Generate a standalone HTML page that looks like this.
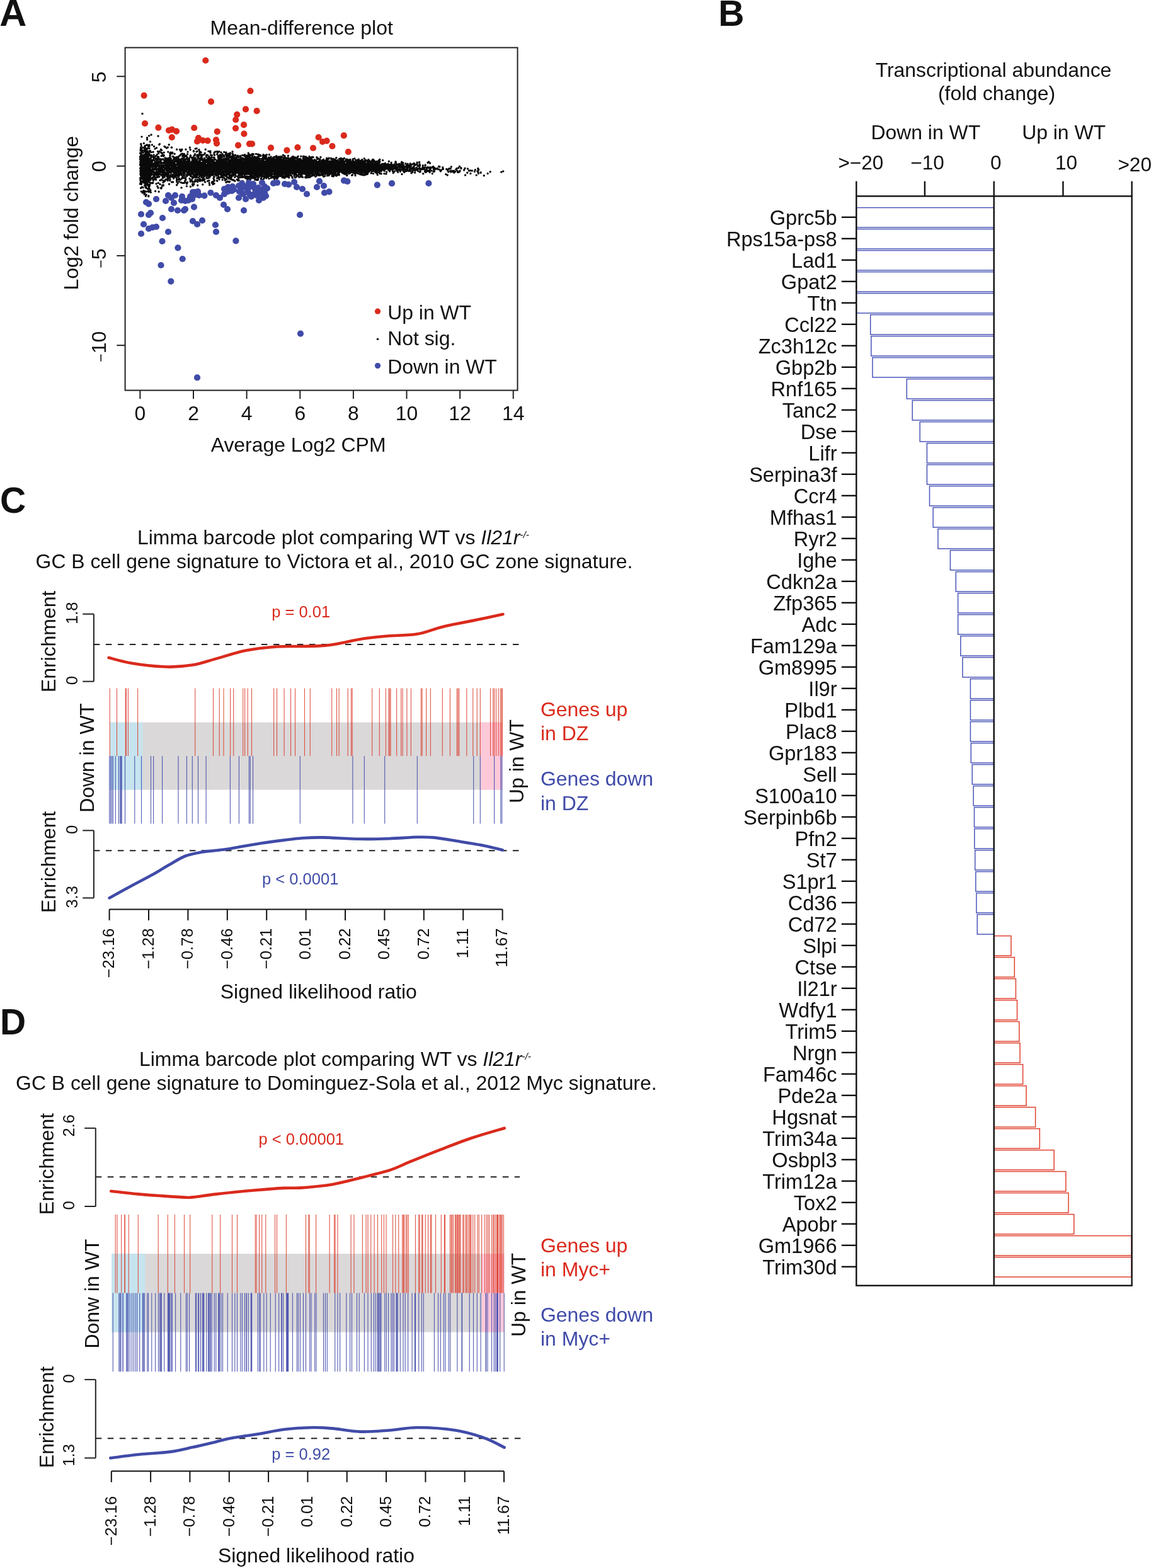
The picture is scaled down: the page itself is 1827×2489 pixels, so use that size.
<!DOCTYPE html>
<html><head><meta charset="utf-8"><title>Figure</title>
<style>html,body{margin:0;padding:0;background:#fff;}svg{display:block;}</style>
</head><body>
<svg width="1827" height="2489" viewBox="0 0 1827 2489" font-family="'Liberation Sans', Arial, Helvetica, sans-serif" fill="#111">
<rect width="1827" height="2489" fill="#fff"/>
<text x="-0.8" y="41.2" font-size="59.5" font-weight="bold">A</text>
<text x="478.7" y="54.5" font-size="31.9" text-anchor="middle">Mean-difference plot</text>
<path d="M271.4 273.7h0M412.5 265.7h0M451.4 271.4h0M233.3 240.3h0M278.7 261.7h0M575.9 270.0h0M249.2 256.9h0M271.8 270.5h0M583.5 266.1h0M459.2 266.8h0M362.9 253.6h0M417.1 272.0h0M474.8 275.1h0M327.2 275.9h0M274.9 271.0h0M522.5 265.6h0M477.7 260.8h0M533.4 269.3h0M431.5 269.0h0M595.9 259.8h0M300.3 255.4h0M433.3 267.2h0M406.6 273.6h0M356.9 265.2h0M447.7 276.9h0M312.0 261.8h0M527.9 259.7h0M552.7 272.1h0M271.4 252.1h0M400.3 266.6h0M327.9 273.0h0M254.1 253.5h0M563.6 266.0h0M386.1 262.7h0M278.6 280.7h0M478.8 261.7h0M299.4 264.5h0M565.7 270.8h0M305.1 258.1h0M235.0 274.1h0M298.9 258.0h0M354.1 259.7h0M401.0 265.8h0M567.4 267.5h0M487.9 254.9h0M351.6 268.7h0M228.8 254.7h0M283.3 248.9h0M601.8 261.3h0M397.5 275.4h0M243.2 254.3h0M235.4 275.3h0M544.5 267.5h0M446.3 259.0h0M340.0 244.8h0M343.3 260.8h0M256.4 263.9h0M288.2 238.9h0M231.8 286.5h0M541.9 269.5h0M400.0 262.3h0M270.8 256.5h0M503.9 266.2h0M296.9 262.7h0M246.0 262.6h0M450.3 265.3h0M563.5 263.7h0M232.7 242.1h0M529.0 264.3h0M294.8 265.0h0M257.8 277.0h0M229.2 263.5h0M334.0 278.5h0M499.3 264.2h0M410.2 267.1h0M547.2 275.2h0M305.1 258.3h0M342.4 268.4h0M320.7 261.2h0M594.9 267.1h0M580.7 267.1h0M352.1 266.9h0M388.4 255.2h0M342.1 262.9h0M506.7 271.8h0M237.6 270.3h0M248.1 259.0h0M376.3 260.8h0M315.7 256.1h0M544.3 267.6h0M504.9 262.9h0M430.2 263.3h0M474.3 280.9h0M486.0 265.8h0M519.8 269.9h0M575.6 268.2h0M279.4 269.9h0M460.8 270.0h0M277.1 244.3h0M391.1 261.3h0M521.8 260.7h0M563.1 266.8h0M511.5 270.6h0M235.9 261.7h0M359.3 265.6h0M284.5 258.3h0M602.7 265.9h0M277.2 263.6h0M315.4 274.2h0M358.4 245.2h0M245.6 281.5h0M553.8 266.1h0M464.7 268.6h0M283.2 253.3h0M412.1 247.6h0M252.4 269.6h0M455.1 260.8h0M310.6 263.9h0M237.1 274.3h0M266.3 233.9h0M433.8 266.0h0M465.0 266.3h0M346.1 277.9h0M467.4 268.2h0M356.5 260.3h0M272.2 233.9h0M342.4 259.2h0M569.9 271.8h0M266.4 284.9h0M255.2 298.4h0M436.2 271.3h0M589.3 261.4h0M567.9 263.9h0M489.0 265.2h0M247.8 264.7h0M529.5 269.3h0M277.2 274.2h0M399.4 275.7h0M241.2 277.3h0M496.0 265.0h0M324.2 251.2h0M523.1 261.1h0M317.3 256.8h0M274.9 248.4h0M371.1 273.3h0M412.0 270.1h0M331.2 264.3h0M453.1 262.4h0M451.8 255.4h0M313.7 288.6h0M459.5 267.2h0M358.4 259.5h0M502.2 262.1h0M526.6 258.7h0M380.5 269.6h0M433.1 261.1h0M478.8 265.4h0M419.8 267.7h0M320.5 275.3h0M595.3 262.2h0M259.0 273.9h0M346.1 268.3h0M431.5 263.5h0M233.3 276.0h0M281.4 284.6h0M526.8 269.2h0M520.9 267.6h0M465.0 273.6h0M565.8 261.4h0M510.1 263.7h0M336.2 254.5h0M468.0 253.2h0M351.9 254.5h0M507.9 262.8h0M368.9 267.9h0M280.8 255.4h0M556.1 270.4h0M485.3 253.7h0M506.0 268.1h0M435.5 265.7h0M520.5 264.0h0M392.9 259.8h0M437.8 263.0h0M246.2 277.9h0M433.8 257.5h0M532.6 274.8h0M491.1 263.1h0M528.2 261.2h0M411.3 257.8h0M558.0 265.8h0M263.6 254.0h0M555.9 253.2h0M363.8 289.0h0M257.0 269.5h0M458.2 268.1h0M395.6 270.9h0M385.5 256.6h0M546.8 262.4h0M274.9 262.8h0M457.3 252.3h0M380.0 265.5h0M423.6 256.9h0M412.6 257.3h0M273.5 268.0h0M417.4 270.6h0M550.7 266.0h0M287.6 270.4h0M226.8 259.4h0M248.1 262.6h0M397.5 278.4h0M593.5 265.4h0M239.2 251.0h0M599.7 263.5h0M426.5 260.2h0M268.1 273.6h0M381.8 265.8h0M301.4 276.2h0M494.3 261.0h0M428.6 250.1h0M332.1 271.9h0M319.7 281.2h0M552.5 259.6h0M514.2 267.4h0M388.5 270.4h0M376.8 267.7h0M503.2 265.0h0M592.0 266.5h0M252.7 229.6h0M283.0 250.7h0M360.4 256.9h0M415.7 260.4h0M249.6 261.4h0M242.8 290.2h0M306.0 251.4h0M369.4 265.9h0M503.9 272.5h0M454.6 255.2h0M233.5 245.7h0M239.5 250.8h0M394.5 272.9h0M555.5 267.8h0M570.8 267.1h0M361.4 272.8h0M560.3 252.6h0M576.2 259.9h0M377.2 259.3h0M506.5 275.3h0M361.5 267.8h0M280.9 276.4h0M441.4 269.4h0M255.3 252.7h0M475.0 260.4h0M530.5 264.6h0M571.0 272.6h0M393.0 249.8h0M267.1 278.9h0M566.1 267.0h0M590.9 259.9h0M448.6 263.2h0M478.8 264.8h0M364.5 254.9h0M292.1 274.8h0M333.5 267.4h0M496.8 270.2h0M346.2 264.6h0M485.7 259.6h0M413.6 266.6h0M393.4 266.9h0M590.9 262.1h0M285.6 262.8h0M407.9 266.6h0M283.2 276.2h0M579.4 264.8h0M408.5 267.5h0M348.8 259.0h0M286.5 285.3h0M448.6 259.3h0M374.3 279.3h0M270.8 277.7h0M234.7 249.6h0M371.4 271.0h0M444.5 259.2h0M420.0 261.0h0M565.1 266.3h0M569.5 263.3h0M578.9 256.0h0M526.9 255.6h0M404.3 277.1h0M421.9 278.9h0M373.7 256.3h0M374.5 256.0h0M238.2 265.1h0M526.6 267.9h0M316.1 259.6h0M233.6 258.3h0M400.0 258.0h0M495.8 264.7h0M388.4 247.6h0M361.1 272.4h0M473.2 257.8h0M284.4 283.2h0M226.7 269.7h0M448.0 258.9h0M424.4 266.6h0M552.1 262.3h0M380.8 273.1h0M521.7 262.6h0M229.2 276.1h0M232.8 286.4h0M450.3 265.7h0M308.5 264.6h0M248.0 267.5h0M271.0 241.9h0M365.1 273.7h0M350.8 265.2h0M437.1 266.9h0M560.4 264.7h0M361.6 268.3h0M292.5 271.7h0M223.2 276.0h0M343.2 272.2h0M369.9 263.9h0M241.7 264.6h0M433.4 264.2h0M460.1 271.2h0M507.8 257.8h0M587.0 263.5h0M357.5 259.3h0M472.3 267.5h0M390.7 270.2h0M304.3 262.3h0M561.0 255.6h0M506.4 259.8h0M581.4 270.7h0M535.2 265.0h0M571.8 267.8h0M271.2 254.2h0M228.4 251.9h0M298.0 253.6h0M379.3 269.8h0M484.2 269.6h0M389.4 256.5h0M417.9 262.7h0M512.2 275.7h0M249.3 262.7h0M241.0 283.0h0M317.1 263.6h0M497.4 265.1h0M482.5 261.4h0M334.6 270.6h0M537.7 264.1h0M234.3 283.2h0M316.6 258.6h0M230.5 241.3h0M531.1 265.9h0M269.0 254.3h0M593.3 256.9h0M303.5 270.2h0M338.9 282.9h0M445.2 276.3h0M339.8 269.0h0M366.8 265.9h0M262.1 250.7h0M370.6 263.8h0M232.0 270.9h0M307.7 252.8h0M568.7 253.1h0M329.3 262.5h0M325.6 263.5h0M481.1 263.6h0M558.6 264.3h0M335.1 260.0h0M365.7 265.0h0M494.5 256.6h0M524.0 266.2h0M456.1 266.8h0M290.6 252.4h0M291.2 257.3h0M511.0 258.4h0M491.6 269.0h0M563.7 269.9h0M519.3 278.7h0M382.8 273.4h0M273.1 268.3h0M561.5 265.7h0M487.3 264.7h0M441.9 259.0h0M482.0 268.8h0M369.1 267.4h0M353.1 285.4h0M441.5 249.9h0M406.2 262.8h0M492.4 258.2h0M578.9 265.4h0M545.0 262.3h0M369.9 266.9h0M364.2 278.3h0M575.3 270.8h0M372.7 256.4h0M527.1 265.6h0M257.7 263.5h0M394.2 272.5h0M419.0 265.3h0M530.4 269.5h0M556.6 272.0h0M280.5 286.3h0M457.4 264.7h0M462.0 261.9h0M280.1 274.9h0M539.8 262.7h0M433.2 266.0h0M588.6 257.6h0M293.3 254.6h0M422.3 275.0h0M345.6 263.9h0M467.0 261.5h0M453.9 274.4h0M417.5 247.4h0M346.1 258.5h0M414.3 268.7h0M364.2 256.9h0M561.6 265.1h0M398.1 264.2h0M403.4 249.9h0M320.9 272.5h0M319.1 248.8h0M585.6 257.4h0M342.0 274.4h0M448.9 266.3h0M595.8 273.2h0M284.9 253.2h0M580.9 266.2h0M516.5 269.1h0M438.7 275.7h0M492.3 263.1h0M497.5 267.0h0M393.1 270.5h0M464.0 274.5h0M309.4 252.7h0M230.5 269.7h0M480.0 269.6h0M403.1 264.3h0M567.2 270.5h0M322.9 260.2h0M533.9 266.6h0M598.0 274.8h0M564.4 268.9h0M589.6 274.6h0M283.0 276.6h0M285.3 262.0h0M309.3 253.0h0M360.0 266.8h0M266.3 255.4h0M279.8 265.3h0M229.4 252.4h0M577.8 267.5h0M359.9 266.0h0M460.8 259.9h0M395.5 264.8h0M505.3 252.0h0M529.4 272.0h0M368.2 268.7h0M426.2 269.0h0M259.5 274.0h0M331.1 262.5h0M307.2 272.6h0M339.9 262.8h0M345.9 275.9h0M441.4 268.9h0M346.9 253.1h0M538.9 258.7h0M227.0 272.5h0M224.4 259.0h0M244.1 277.8h0M552.0 261.5h0M463.7 257.1h0M499.6 268.7h0M587.1 263.9h0M305.4 283.4h0M572.7 270.8h0M314.8 265.5h0M420.0 272.4h0M481.7 260.2h0M526.0 272.3h0M316.9 269.1h0M404.0 259.6h0M239.8 259.8h0M332.0 276.1h0M595.9 266.5h0M567.1 257.7h0M444.1 269.7h0M521.9 257.0h0M566.0 266.3h0M348.8 251.8h0M595.8 262.8h0M282.9 256.9h0M448.5 262.4h0M486.2 271.6h0M477.9 266.8h0M238.2 290.6h0M465.7 271.1h0M573.3 270.0h0M477.6 280.5h0M593.8 271.4h0M417.2 266.3h0M530.9 253.4h0M275.8 252.1h0M563.4 264.6h0M388.6 260.9h0M556.2 262.1h0M344.6 265.5h0M460.1 259.1h0M544.8 265.2h0M493.3 266.9h0M458.5 271.6h0M592.0 253.1h0M255.9 299.0h0M261.2 272.1h0M432.4 266.7h0M585.9 268.4h0M483.8 257.3h0M340.3 241.9h0M263.4 256.6h0M393.1 261.9h0M405.3 263.9h0M400.7 265.5h0M458.2 266.1h0M326.3 255.7h0M557.6 272.9h0M332.2 267.1h0M263.2 259.6h0M355.3 267.5h0M578.7 269.2h0M283.1 261.6h0M328.1 266.4h0M575.2 261.9h0M354.9 262.5h0M543.4 274.2h0M239.7 269.1h0M560.7 272.9h0M312.8 279.0h0M291.2 267.6h0M505.0 257.1h0M599.2 263.4h0M587.7 268.6h0M508.9 269.9h0M570.5 261.4h0M598.3 270.5h0M432.9 268.9h0M277.5 273.2h0M545.8 259.9h0M373.1 264.1h0M341.5 260.1h0M413.1 263.9h0M235.7 275.7h0M229.5 289.5h0M323.0 256.2h0M449.3 246.2h0M507.8 268.6h0M586.9 262.9h0M533.9 250.5h0M580.8 270.0h0M464.7 259.7h0M501.9 265.2h0M446.1 264.8h0M253.4 270.9h0M246.0 258.6h0M511.9 270.3h0M299.5 276.4h0M523.2 262.9h0M399.1 261.5h0M225.0 273.5h0M436.2 253.9h0M391.1 263.9h0M250.5 240.5h0M321.8 293.0h0M339.2 257.5h0M354.0 254.8h0M491.6 268.3h0M286.1 276.6h0M391.2 274.6h0M453.5 260.4h0M582.8 256.1h0M252.6 252.1h0M295.4 271.5h0M306.4 259.4h0M284.4 255.5h0M251.3 290.4h0M302.2 261.5h0M307.5 240.4h0M405.0 268.6h0M469.1 267.2h0M361.0 262.1h0M286.4 256.2h0M258.5 282.0h0M322.6 266.8h0M287.4 264.5h0M405.6 269.6h0M554.1 265.2h0M495.2 271.4h0M299.8 263.2h0M236.0 304.6h0M248.1 272.4h0M388.3 265.1h0M360.9 259.2h0M482.3 274.1h0M254.3 273.1h0M319.3 259.1h0M438.7 277.0h0M419.2 264.6h0M565.7 261.7h0M265.6 279.0h0M296.8 263.3h0M437.7 259.3h0M595.6 261.6h0M594.6 260.2h0M446.0 248.5h0M511.4 263.7h0M488.0 260.7h0M273.0 258.5h0M451.7 255.7h0M338.8 250.1h0M359.1 273.6h0M281.9 279.1h0M225.6 256.6h0M547.5 267.5h0M495.4 265.0h0M508.8 268.0h0M332.1 265.9h0M381.3 265.5h0M289.5 248.0h0M451.7 259.1h0M542.0 265.8h0M519.0 262.2h0M321.6 268.0h0M489.5 261.3h0M270.7 269.7h0M426.6 277.2h0M264.4 274.2h0M428.2 271.6h0M428.8 254.3h0M354.5 258.7h0M355.5 282.1h0M493.2 260.8h0M405.6 270.9h0M377.6 273.5h0M265.3 251.5h0M329.9 251.3h0M545.0 268.3h0M592.5 260.9h0M364.5 261.3h0M554.0 269.7h0M555.1 261.9h0M305.5 275.9h0M326.7 264.2h0M487.4 266.7h0M338.9 267.0h0M586.2 261.7h0M361.4 261.3h0M500.5 266.0h0M491.7 263.2h0M303.8 276.3h0M552.2 269.9h0M347.6 263.0h0M264.3 256.1h0M241.5 259.1h0M394.5 265.9h0M463.4 267.0h0M325.7 255.6h0M543.0 265.9h0M324.3 263.9h0M545.1 260.7h0M235.0 272.3h0M322.4 257.0h0M283.1 260.0h0M392.9 273.3h0M356.0 266.9h0M372.7 276.0h0M546.7 265.7h0M443.1 253.5h0M370.9 270.0h0M530.1 270.1h0M413.5 267.9h0M506.5 264.7h0M570.5 272.3h0M455.4 275.7h0M388.1 278.5h0M322.8 261.8h0M569.7 260.9h0M513.7 261.0h0M526.9 268.7h0M306.7 258.4h0M388.7 272.0h0M558.9 264.5h0M316.1 269.4h0M532.3 264.2h0M427.5 273.6h0M305.7 251.0h0M365.4 274.6h0M251.4 251.1h0M478.7 258.5h0M499.2 263.5h0M233.4 255.8h0M337.2 262.1h0M515.1 271.0h0M298.7 274.2h0M426.9 277.0h0M439.4 263.3h0M268.9 250.3h0M568.6 265.4h0M506.7 269.9h0M437.5 271.9h0M349.1 264.2h0M444.1 256.9h0M371.5 262.3h0M267.6 255.3h0M268.9 267.6h0M239.7 254.8h0M287.3 259.4h0M315.9 237.7h0M464.3 261.7h0M443.3 256.8h0M447.3 263.3h0M535.4 259.3h0M258.6 262.0h0M370.5 275.5h0M252.6 264.5h0M381.9 271.2h0M252.4 276.9h0M247.7 258.1h0M262.1 255.3h0M370.9 272.7h0M513.0 254.8h0M329.7 274.4h0M504.9 277.0h0M311.2 268.0h0M331.8 262.1h0M401.9 256.5h0M251.0 253.3h0M393.3 263.8h0M444.6 260.3h0M536.4 265.2h0M243.8 253.2h0M527.0 279.1h0M439.3 268.1h0M442.6 263.2h0M241.9 254.2h0M328.0 247.3h0M430.5 272.3h0M427.5 257.0h0M568.9 262.6h0M451.4 269.5h0M599.9 261.0h0M310.8 282.0h0M474.5 264.7h0M442.1 266.8h0M417.9 249.5h0M461.4 263.9h0M432.1 264.9h0M350.7 267.2h0M466.7 270.3h0M254.2 272.6h0M404.8 285.2h0M394.8 275.5h0M303.6 268.4h0M438.7 267.5h0M477.5 260.0h0M270.0 284.8h0M335.5 266.8h0M246.0 263.2h0M449.8 262.5h0M253.5 240.2h0M309.8 273.5h0M392.9 255.2h0M394.4 280.7h0M235.0 283.2h0M583.1 268.8h0M310.0 270.7h0M454.7 260.5h0M307.0 264.1h0M449.3 265.7h0M356.7 263.5h0M343.7 268.6h0M403.0 263.1h0M445.7 264.8h0M450.2 267.8h0M484.6 255.9h0M324.7 279.6h0M257.3 266.6h0M318.9 286.0h0M346.8 282.6h0M453.7 278.3h0M380.2 264.9h0M259.8 265.8h0M449.6 259.7h0M419.2 262.5h0M484.5 281.3h0M459.7 261.3h0M283.2 254.7h0M357.9 266.5h0M580.7 261.3h0M257.0 285.9h0M480.9 263.1h0M388.6 267.1h0M456.0 265.6h0M372.3 252.0h0M269.5 268.2h0M436.6 258.3h0M224.7 291.0h0M551.4 263.7h0M526.6 275.1h0M364.7 259.9h0M427.0 276.4h0M423.3 255.8h0M595.4 263.0h0M239.0 290.1h0M335.8 270.2h0M377.4 270.9h0M522.2 273.5h0M500.4 269.7h0M226.9 242.3h0M469.1 271.9h0M377.3 280.5h0M266.9 282.6h0M462.7 260.5h0M391.8 253.8h0M339.1 264.0h0M324.9 262.8h0M420.7 269.2h0M316.7 274.7h0M372.2 262.8h0M581.1 273.1h0M404.3 257.8h0M318.9 271.7h0M420.9 263.2h0M571.7 275.7h0M552.3 269.4h0M480.3 264.9h0M564.8 269.5h0M510.5 257.1h0M481.4 267.6h0M385.4 264.0h0M279.3 256.3h0M501.2 268.4h0M463.9 266.7h0M344.6 272.0h0M556.3 267.6h0M305.6 260.5h0M582.7 266.5h0M601.6 258.3h0M240.4 270.6h0M346.0 267.1h0M602.5 262.3h0M591.1 268.6h0M477.8 261.7h0M273.6 265.9h0M224.9 254.9h0M317.3 262.8h0M582.0 266.3h0M528.9 271.3h0M385.6 267.4h0M512.3 262.0h0M566.0 263.9h0M336.6 269.6h0M555.4 265.1h0M325.0 269.5h0M347.6 263.8h0M239.4 263.6h0M432.2 261.0h0M231.5 250.9h0M430.2 266.0h0M287.1 261.4h0M507.5 265.8h0M271.1 260.4h0M301.2 267.3h0M324.8 270.1h0M444.3 277.1h0M530.3 270.5h0M509.2 259.2h0M504.7 265.1h0M482.0 264.5h0M429.3 263.4h0M352.9 262.7h0M290.9 271.3h0M551.3 262.8h0M378.2 249.3h0M470.0 263.2h0M248.4 263.8h0M359.8 253.0h0M260.6 257.9h0M357.4 263.1h0M501.6 264.0h0M352.3 271.6h0M482.2 274.4h0M269.3 268.6h0M369.0 265.0h0M378.6 278.0h0M309.4 258.4h0M488.4 265.9h0M558.4 265.4h0M531.8 267.0h0M234.2 286.7h0M408.3 257.3h0M353.4 264.4h0M440.5 268.9h0M254.1 262.7h0M500.2 256.9h0M381.1 264.5h0M581.8 265.2h0M229.7 307.0h0M381.5 255.1h0M407.7 268.4h0M538.9 261.2h0M510.4 261.3h0M291.7 255.7h0M339.6 276.1h0M502.6 263.2h0M382.2 258.7h0M322.6 273.7h0M576.8 269.2h0M543.5 259.5h0M357.7 262.8h0M431.7 276.5h0M576.2 262.0h0M304.9 281.1h0M568.6 264.7h0M559.2 265.4h0M499.0 268.8h0M483.6 257.9h0M483.3 258.7h0M429.6 264.0h0M444.1 263.9h0M297.5 264.9h0M436.6 269.1h0M478.6 269.8h0M407.3 256.7h0M481.1 251.0h0M396.9 263.5h0M528.4 263.0h0M496.9 263.7h0M256.3 271.1h0M515.3 274.8h0M330.9 240.1h0M253.4 228.6h0M268.6 270.9h0M345.8 258.0h0M422.2 268.6h0M348.1 265.3h0M299.9 268.9h0M515.3 269.0h0M364.7 265.5h0M555.2 267.8h0M315.5 258.5h0M485.1 272.9h0M358.5 261.0h0M546.0 261.3h0M468.5 263.6h0M480.8 264.2h0M257.8 269.4h0M508.5 256.6h0M357.4 264.3h0M504.3 257.8h0M544.2 261.6h0M269.0 253.0h0M228.2 282.1h0M511.0 266.1h0M591.2 261.5h0M565.3 268.1h0M388.3 271.4h0M244.7 249.0h0M443.8 262.3h0M423.3 275.7h0M536.5 262.6h0M311.3 266.6h0M398.6 264.1h0M599.2 277.4h0M337.7 270.3h0M376.4 271.1h0M453.7 264.1h0M601.3 263.7h0M292.0 261.6h0M485.5 275.2h0M380.1 256.5h0M375.0 268.0h0M320.2 250.1h0M399.6 275.8h0M441.3 265.5h0M371.8 272.0h0M464.6 259.8h0M546.7 272.9h0M436.0 255.8h0M368.1 259.7h0M588.5 262.9h0M288.1 252.6h0M239.7 277.3h0M568.3 264.1h0M323.6 271.3h0M369.1 270.4h0M353.0 260.0h0M357.5 270.6h0M546.5 262.7h0M333.0 264.4h0M272.9 255.2h0M304.5 266.6h0M584.0 274.0h0M385.7 280.7h0M359.8 271.4h0M518.4 264.6h0M578.7 268.6h0M416.7 270.6h0M532.6 261.3h0M323.1 273.3h0M355.8 241.4h0M441.9 263.1h0M312.4 281.3h0M327.2 254.9h0M293.8 262.0h0M322.3 273.5h0M542.0 264.5h0M525.0 256.6h0M265.8 277.0h0M355.3 258.5h0M497.4 261.8h0M549.8 263.1h0M435.7 265.1h0M499.1 265.3h0M520.1 258.4h0M535.0 264.1h0M377.4 248.8h0M312.2 261.5h0M235.0 259.3h0M462.1 261.5h0M463.3 265.7h0M222.9 284.3h0M420.5 261.5h0M579.8 263.9h0M233.4 291.6h0M274.7 280.1h0M244.4 261.7h0M388.6 266.5h0M368.9 259.9h0M247.7 275.4h0M298.8 271.1h0M579.6 269.8h0M229.6 260.3h0M321.1 267.2h0M372.5 266.0h0M222.6 252.4h0M331.8 267.4h0M456.7 263.8h0M454.2 263.3h0M470.2 262.0h0M456.4 262.9h0M235.6 275.4h0M471.7 269.7h0M444.7 256.1h0M305.3 254.1h0M382.2 270.2h0M312.9 245.9h0M552.9 257.8h0M328.6 257.5h0M284.4 265.6h0M525.7 265.4h0M512.2 272.5h0M546.9 267.2h0M480.3 262.4h0M381.1 270.6h0M403.5 274.0h0M433.8 262.3h0M449.3 276.4h0M582.3 269.0h0M323.5 267.4h0M515.0 259.5h0M228.8 271.9h0M294.8 261.5h0M582.0 271.2h0M318.0 263.4h0M417.0 266.7h0M571.4 256.3h0M471.7 258.3h0M408.4 264.3h0M489.6 260.4h0M595.0 265.2h0M580.8 259.9h0M291.4 282.5h0M275.7 267.7h0M332.0 261.5h0M277.7 278.9h0M513.3 270.5h0M539.9 270.8h0M276.0 249.8h0M250.3 280.5h0M345.7 267.2h0M515.7 268.4h0M397.8 261.1h0M465.7 262.9h0M571.8 267.6h0M557.6 272.3h0M267.2 275.4h0M494.0 275.8h0M518.1 257.1h0M381.6 254.7h0M281.8 271.0h0M402.8 265.5h0M363.4 270.4h0M372.3 256.1h0M470.6 262.7h0M481.4 258.8h0M470.9 266.6h0M276.3 273.3h0M244.6 273.6h0M372.8 276.3h0M546.0 259.3h0M469.4 267.6h0M523.7 262.9h0M459.4 264.3h0M521.1 268.2h0M601.7 266.2h0M494.0 262.2h0M550.5 255.9h0M592.9 267.2h0M504.4 269.3h0M532.0 269.8h0M252.3 267.0h0M236.3 296.7h0M574.0 273.8h0M312.9 255.3h0M338.7 265.4h0M273.9 270.2h0M464.0 263.7h0M233.7 230.0h0M526.7 252.4h0M336.0 266.3h0M505.7 263.3h0M569.2 253.0h0M485.3 263.4h0M384.1 271.2h0M460.4 272.5h0M548.1 275.4h0M493.2 267.2h0M318.5 245.6h0M225.3 267.7h0M557.4 265.4h0M459.8 261.3h0M246.6 262.7h0M432.2 260.5h0M446.7 270.7h0M334.1 251.0h0M559.8 254.5h0M340.2 261.8h0M351.3 266.3h0M559.0 267.9h0M472.6 271.0h0M372.3 260.9h0M261.5 275.9h0M491.1 255.2h0M548.0 267.7h0M258.0 280.0h0M412.8 273.1h0M315.5 286.0h0M330.9 259.3h0M506.8 264.7h0M594.4 269.1h0M328.6 264.5h0M429.0 257.6h0M340.6 260.6h0M246.1 267.0h0M451.8 264.6h0M281.6 277.9h0M484.3 263.8h0M506.9 266.9h0M276.6 276.7h0M449.5 268.7h0M301.7 267.1h0M513.0 265.1h0M331.3 274.5h0M485.0 261.5h0M469.1 265.1h0M441.4 273.6h0M305.3 274.9h0M540.1 267.2h0M357.5 259.2h0M515.8 267.5h0M403.3 264.3h0M393.0 270.6h0M493.6 265.8h0M352.2 256.9h0M513.1 261.4h0M391.8 265.2h0M504.4 260.8h0M488.0 263.1h0M582.4 261.7h0M378.0 264.5h0M355.3 261.6h0M419.0 256.2h0M381.7 274.9h0M489.2 265.9h0M317.6 278.6h0M587.1 263.9h0M509.5 263.0h0M469.5 268.4h0M333.5 269.1h0M530.6 266.4h0M572.4 257.0h0M523.8 270.5h0M569.8 263.6h0M257.5 294.5h0M504.7 269.0h0M552.3 267.6h0M403.7 268.0h0M252.9 261.9h0M429.0 263.0h0M314.8 261.8h0M234.8 270.3h0M578.7 267.8h0M539.3 270.0h0M464.0 249.0h0M507.4 264.4h0M478.1 264.7h0M398.6 265.5h0M268.6 260.2h0M415.1 259.7h0M444.1 267.0h0M337.2 259.2h0M270.8 244.3h0M352.8 260.2h0M293.1 258.8h0M576.8 261.4h0M306.5 252.7h0M372.5 271.9h0M428.7 259.5h0M318.5 270.2h0M410.9 267.6h0M432.9 261.2h0M241.1 264.3h0M583.2 271.9h0M278.0 274.6h0M596.5 266.7h0M286.5 270.7h0M499.4 271.4h0M406.1 250.0h0M320.5 272.9h0M367.0 264.1h0M405.6 282.3h0M363.6 262.3h0M316.5 271.2h0M380.8 256.2h0M388.3 270.3h0M484.3 258.4h0M297.6 260.8h0M239.7 274.5h0M539.9 255.3h0M248.8 277.7h0M462.8 268.5h0M431.4 269.2h0M593.7 271.6h0M294.7 252.9h0M560.4 269.5h0M272.0 265.4h0M287.7 259.5h0M471.4 270.2h0M285.5 247.1h0M445.7 269.9h0M479.4 259.2h0M270.2 252.8h0M523.3 270.4h0M383.5 256.6h0M590.6 264.4h0M226.8 266.1h0M252.3 256.5h0M458.5 258.8h0M320.3 264.6h0M375.7 259.6h0M353.3 274.9h0M241.9 263.8h0M276.9 264.1h0M434.0 280.6h0M517.4 266.2h0M511.0 269.3h0M402.0 273.3h0M313.6 249.1h0M271.3 274.5h0M307.4 239.5h0M567.9 270.8h0M377.7 270.5h0M266.8 241.1h0M465.4 263.0h0M396.5 247.1h0M233.5 260.0h0M595.5 264.1h0M582.7 274.5h0M322.4 254.9h0M539.6 259.6h0M395.7 273.2h0M478.9 273.3h0M471.2 266.1h0M501.1 269.5h0M390.1 268.9h0M278.2 265.5h0M528.7 256.7h0M390.1 259.4h0M390.7 266.4h0M511.5 270.1h0M483.4 264.0h0M599.0 266.7h0M370.1 267.6h0M464.1 263.0h0M254.3 274.4h0M265.3 263.8h0M319.4 271.2h0M329.0 265.5h0M392.3 280.7h0M309.5 258.0h0M385.4 273.7h0M368.0 259.1h0M565.9 263.1h0M525.4 264.0h0M515.7 265.6h0M502.9 258.2h0M338.8 258.5h0M588.5 267.8h0M232.7 261.5h0M564.0 268.7h0M382.1 251.5h0M351.0 269.1h0M403.1 259.5h0M550.0 267.2h0M529.4 263.5h0M506.7 260.0h0M311.0 278.6h0M251.0 258.2h0M505.1 264.0h0M238.5 240.9h0M373.2 269.6h0M279.9 278.4h0M546.9 263.7h0M572.2 268.5h0M554.6 259.4h0M290.2 267.5h0M493.2 261.0h0M317.9 258.3h0M392.1 261.6h0M455.1 280.5h0M356.1 264.6h0M297.7 257.8h0M446.2 267.0h0M524.7 264.1h0M601.6 273.0h0M345.1 256.9h0M320.5 270.3h0M251.5 256.6h0M300.4 253.0h0M232.3 258.7h0M498.8 263.1h0M266.1 267.8h0M468.5 270.2h0M334.7 260.6h0M309.5 244.7h0M406.5 265.1h0M388.5 255.2h0M392.5 264.0h0M267.2 267.7h0M437.4 272.2h0M565.9 267.5h0M225.9 304.8h0M253.2 270.3h0M445.5 262.0h0M318.3 258.3h0M598.6 267.4h0M339.8 268.6h0M573.1 264.3h0M457.3 267.5h0M233.9 274.1h0M323.6 277.5h0M251.2 276.2h0M427.2 261.2h0M568.3 262.3h0M242.4 281.7h0M233.1 262.5h0M233.6 273.5h0M326.3 271.2h0M285.7 268.4h0M591.1 263.1h0M517.5 270.0h0M580.1 262.5h0M443.2 265.0h0M535.1 267.9h0M492.3 266.5h0M333.6 279.6h0M470.9 265.6h0M332.5 281.9h0M399.2 262.3h0M535.7 254.1h0M306.4 262.4h0M289.0 267.6h0M546.7 269.1h0M398.8 261.8h0M288.6 283.3h0M343.4 263.6h0M329.2 264.8h0M563.7 257.4h0M402.4 270.2h0M572.8 269.5h0M401.5 260.6h0M580.1 266.9h0M571.4 267.3h0M438.5 274.7h0M521.8 272.2h0M331.7 257.3h0M266.4 284.6h0M452.5 264.5h0M243.4 268.5h0M400.4 248.6h0M458.5 265.0h0M514.7 261.8h0M563.8 271.8h0M552.0 266.1h0M411.4 251.4h0M459.5 268.4h0M398.3 264.1h0M545.2 268.5h0M336.6 272.6h0M225.5 240.7h0M538.2 267.2h0M495.2 272.6h0M269.7 243.2h0M300.9 276.4h0M460.6 268.9h0M506.9 265.7h0M474.2 255.9h0M449.3 253.6h0M471.7 259.3h0M394.0 265.5h0M347.9 240.8h0M502.7 259.3h0M419.4 273.5h0M496.6 260.7h0M487.0 271.7h0M567.1 269.3h0M548.4 263.9h0M242.1 272.0h0M476.7 264.6h0M364.6 280.5h0M260.8 254.9h0M404.5 266.1h0M543.5 272.6h0M525.7 264.1h0M262.7 278.0h0M299.4 266.0h0M487.0 279.7h0M591.1 267.3h0M251.8 277.5h0M256.2 266.6h0M487.3 263.6h0M457.0 257.3h0M531.3 264.1h0M297.9 253.2h0M410.6 274.3h0M527.4 269.5h0M368.0 272.4h0M234.9 280.8h0M526.2 261.7h0M392.5 249.7h0M366.3 264.1h0M472.0 258.6h0M547.2 269.9h0M552.3 264.8h0M352.8 245.0h0M454.0 265.0h0M369.9 257.6h0M541.8 267.5h0M524.6 267.3h0M474.4 260.7h0M536.0 265.7h0M416.5 267.2h0M439.8 260.8h0M284.3 256.2h0M492.0 268.4h0M332.1 248.8h0M436.3 269.8h0M223.2 244.0h0M373.7 262.3h0M456.9 280.4h0M462.6 278.6h0M437.1 261.2h0M318.4 269.4h0M471.6 271.6h0M474.2 254.7h0M447.0 263.6h0M366.0 260.0h0M280.3 271.3h0M434.3 263.7h0M242.2 269.9h0M571.3 271.2h0M356.7 267.9h0M330.1 266.0h0M394.0 264.6h0M261.9 278.1h0M559.1 260.5h0M595.4 267.3h0M535.9 263.9h0M440.9 252.4h0M580.6 265.7h0M348.2 247.8h0M399.5 269.9h0M287.7 276.5h0M384.1 263.7h0M575.6 267.5h0M475.0 273.6h0M430.2 280.1h0M426.5 261.2h0M464.2 264.5h0M454.6 261.4h0M394.7 257.7h0M416.9 285.5h0M261.0 274.5h0M391.3 257.5h0M479.3 265.8h0M307.4 277.6h0M327.8 267.7h0M274.1 262.9h0M296.8 269.9h0M534.1 265.3h0M268.5 264.7h0M336.8 276.1h0M569.1 266.1h0M379.6 257.5h0M533.7 279.1h0M513.5 265.4h0M230.0 251.9h0M306.0 272.0h0M569.6 270.8h0M344.7 240.4h0M376.2 270.4h0M578.4 267.0h0M264.2 270.5h0M592.4 261.6h0M468.7 263.9h0M222.7 252.3h0M462.6 258.9h0M535.5 259.3h0M372.5 267.0h0M250.2 281.4h0M272.7 255.9h0M251.9 243.2h0M380.4 265.1h0M533.5 267.6h0M244.7 269.2h0M376.9 260.1h0M375.0 248.7h0M374.0 275.1h0M423.0 269.9h0M426.2 274.0h0M300.1 259.4h0M524.9 264.7h0M419.3 250.8h0M356.5 263.0h0M589.5 271.3h0M491.2 257.8h0M284.5 270.2h0M591.4 257.4h0M442.6 269.6h0M352.0 261.3h0M312.8 271.6h0M248.2 269.8h0M315.3 247.9h0M332.5 258.9h0M598.6 263.3h0M448.0 260.9h0M295.6 258.9h0M363.5 276.8h0M387.0 275.8h0M254.1 292.5h0M400.8 265.0h0M416.0 257.8h0M568.8 260.4h0M387.4 268.1h0M484.6 273.9h0M481.2 253.9h0M289.0 244.0h0M438.4 267.5h0M393.4 248.5h0M284.3 278.8h0M231.5 269.6h0M601.6 267.6h0M256.9 262.2h0M560.0 271.0h0M362.0 256.5h0M253.5 257.7h0M589.7 271.3h0M473.8 264.3h0M376.4 261.6h0M541.5 272.5h0M491.9 260.7h0M380.6 253.4h0M495.8 254.1h0M503.4 268.2h0M288.0 265.4h0M495.2 259.6h0M571.4 268.7h0M526.8 263.6h0M599.4 266.2h0M525.6 273.4h0M401.3 251.2h0M436.5 258.3h0M514.4 265.1h0M463.2 266.0h0M249.4 268.4h0M245.3 276.5h0M326.2 271.1h0M534.0 262.3h0M306.8 258.7h0M343.9 267.4h0M535.8 264.1h0M271.5 258.1h0M329.0 260.9h0M320.0 258.6h0M240.4 261.4h0M505.2 265.2h0M344.5 261.5h0M377.6 266.7h0M349.2 257.2h0M247.5 285.3h0M544.1 270.7h0M273.6 262.1h0M331.1 252.6h0M496.9 267.1h0M355.1 262.3h0M415.4 266.0h0M348.1 267.4h0M435.7 256.9h0M343.2 268.8h0M396.2 264.1h0M225.8 257.1h0M228.2 268.2h0M415.4 265.9h0M533.5 258.3h0M602.7 269.1h0M528.2 272.0h0M422.1 270.3h0M467.8 277.0h0M478.1 261.0h0M500.2 263.0h0M600.1 265.1h0M353.3 266.4h0M392.4 261.5h0M519.0 270.3h0M304.7 280.4h0M258.9 269.6h0M564.7 254.1h0M228.5 276.3h0M562.8 251.6h0M570.8 264.0h0M285.5 268.4h0M510.0 259.5h0M325.6 262.7h0M597.0 268.8h0M560.2 270.8h0M513.5 263.5h0M597.8 271.7h0M439.6 255.5h0M595.6 265.6h0M497.1 265.3h0M240.2 270.4h0M526.3 265.1h0M541.5 267.1h0M459.3 261.6h0M236.7 276.7h0M552.7 267.1h0M383.1 251.1h0M297.3 263.7h0M301.8 263.9h0M299.2 273.9h0M250.1 263.9h0M572.1 263.1h0M228.8 265.8h0M497.7 267.9h0M310.2 259.8h0M418.4 267.8h0M289.9 290.4h0M565.0 268.3h0M281.8 270.7h0M400.2 267.2h0M454.1 260.2h0M395.0 254.7h0M304.7 270.8h0M332.8 273.5h0M578.3 251.8h0M270.1 279.8h0M229.1 308.5h0M568.4 271.2h0M559.9 265.5h0M483.3 270.7h0M402.1 267.9h0M584.9 253.5h0M379.7 263.4h0M227.3 274.0h0M388.1 266.2h0M423.9 256.3h0M431.2 260.8h0M560.6 268.5h0M248.2 256.8h0M547.7 263.1h0M421.3 256.5h0M501.2 269.8h0M379.9 254.3h0M335.2 259.9h0M350.2 264.4h0M326.9 275.5h0M395.1 259.9h0M450.1 272.8h0M538.8 266.0h0M288.8 251.6h0M393.8 269.8h0M425.0 262.0h0M534.0 256.0h0M492.8 258.0h0M459.7 264.1h0M479.2 272.5h0M393.1 284.1h0M529.5 279.7h0M541.3 264.2h0M438.0 253.3h0M267.0 265.3h0M384.7 266.5h0M323.2 255.0h0M295.4 267.4h0M335.4 271.4h0M534.4 264.4h0M354.8 252.5h0M386.0 258.7h0M368.2 270.2h0M292.7 270.4h0M440.0 270.3h0M381.1 268.2h0M579.0 255.2h0M457.9 251.8h0M594.8 270.0h0M549.5 267.4h0M409.3 272.0h0M228.6 261.1h0M303.5 285.9h0M267.8 252.6h0M503.3 276.3h0M274.9 265.6h0M468.1 267.8h0M345.2 268.9h0M405.4 276.1h0M510.5 260.7h0M336.0 265.3h0M287.8 263.9h0M332.1 260.7h0M581.7 263.5h0M432.9 261.5h0M277.9 255.6h0M248.4 265.1h0M349.6 269.4h0M456.2 256.1h0M396.4 276.7h0M531.7 270.5h0M601.2 267.5h0M439.5 273.8h0M353.7 253.5h0M525.0 263.2h0M256.2 269.3h0M511.6 262.8h0M558.1 265.0h0M517.9 256.4h0M260.0 263.3h0M443.7 263.3h0M527.9 268.8h0M379.1 253.2h0M543.8 264.9h0M285.6 265.1h0M423.7 272.9h0M435.0 270.7h0M522.6 262.5h0M379.3 263.4h0M320.7 274.3h0M493.6 262.2h0M265.9 285.4h0M400.6 259.9h0M522.4 264.7h0M384.1 266.0h0M436.5 270.6h0M480.7 259.8h0M479.6 264.9h0M589.3 258.9h0M398.8 255.4h0M440.1 270.2h0M229.8 231.7h0M295.5 252.2h0M317.1 259.9h0M302.8 278.7h0M420.1 265.0h0M298.3 256.2h0M439.5 248.8h0M536.9 258.2h0M250.1 250.6h0M314.9 259.0h0M411.5 276.9h0M240.0 241.6h0M277.0 266.9h0M441.3 264.1h0M374.5 259.5h0M439.6 270.5h0M510.7 255.0h0M354.1 282.0h0M366.0 267.2h0M547.4 269.7h0M456.7 267.4h0M570.6 272.3h0M318.5 259.2h0M266.0 268.7h0M480.3 267.7h0M270.0 246.9h0M251.3 259.4h0M371.1 260.5h0M483.8 258.8h0M359.6 265.7h0M509.2 264.0h0M395.8 251.2h0M330.9 275.7h0M452.6 264.2h0M279.5 267.0h0M447.7 262.4h0M591.1 268.5h0M424.8 263.8h0M300.6 255.5h0M238.6 265.6h0M304.1 273.0h0M440.8 263.2h0M493.4 261.3h0M390.4 265.7h0M462.4 269.4h0M433.2 269.1h0M335.3 266.1h0M305.8 289.0h0M374.4 262.3h0M485.0 269.1h0M273.6 243.6h0M464.6 275.1h0M230.3 267.0h0M292.3 290.4h0M477.5 260.3h0M530.1 261.7h0M514.5 274.1h0M319.2 259.3h0M598.6 272.9h0M451.2 257.0h0M569.0 268.7h0M579.0 267.4h0M313.3 258.4h0M591.7 264.4h0M253.3 275.2h0M465.1 271.3h0M320.1 263.8h0M258.2 270.6h0M439.2 281.5h0M303.3 271.2h0M398.2 253.6h0M325.1 258.4h0M226.9 262.7h0M485.9 272.0h0M464.8 262.2h0M529.0 262.3h0M368.3 248.3h0M570.8 267.3h0M231.4 261.1h0M572.3 265.2h0M513.6 280.3h0M261.4 286.7h0M598.3 268.5h0M256.6 268.5h0M508.4 267.0h0M315.5 275.2h0M485.5 270.1h0M541.1 258.7h0M267.3 279.9h0M346.0 274.0h0M563.3 257.3h0M404.2 274.1h0M280.7 272.3h0M255.5 277.8h0M269.2 253.5h0M262.7 274.1h0M358.3 261.3h0M518.1 263.1h0M394.9 264.4h0M259.9 286.9h0M356.7 263.6h0M406.6 268.2h0M393.1 258.3h0M466.6 267.8h0M481.6 270.0h0M507.1 260.2h0M426.5 265.3h0M233.8 248.9h0M515.5 267.8h0M520.6 252.0h0M500.2 270.3h0M389.0 269.9h0M560.1 268.7h0M259.1 275.6h0M504.2 262.1h0M449.5 270.9h0M489.0 271.2h0M248.0 264.3h0M233.9 263.1h0M289.8 265.2h0M419.1 263.4h0M440.6 254.3h0M290.2 246.3h0M331.8 286.7h0M570.9 271.5h0M344.8 267.3h0M391.9 275.1h0M264.9 263.5h0M489.3 276.4h0M504.5 266.4h0M311.0 263.9h0M363.0 269.9h0M592.9 254.6h0M515.5 265.1h0M305.9 268.7h0M247.3 262.0h0M347.3 272.0h0M424.0 266.2h0M326.0 278.0h0M523.2 275.0h0M320.1 249.5h0M269.6 273.5h0M451.8 269.5h0M511.9 258.9h0M300.4 261.8h0M349.5 267.8h0M321.3 263.6h0M233.4 276.1h0M482.4 264.2h0M241.8 284.0h0M455.4 263.5h0M461.2 272.1h0M424.3 280.5h0M238.6 282.5h0M236.6 215.6h0M418.5 260.2h0M409.2 262.5h0M228.3 255.8h0M226.5 267.2h0M516.9 268.2h0M346.0 267.7h0M495.4 268.7h0M298.0 276.3h0M323.6 255.8h0M564.4 266.7h0M297.7 273.7h0M377.9 268.8h0M412.3 269.5h0M493.5 274.0h0M344.5 286.8h0M481.8 268.0h0M230.5 246.5h0M293.5 261.2h0M245.6 273.7h0M261.2 257.3h0M507.3 266.0h0M399.1 263.3h0M520.7 267.4h0M593.7 264.7h0M293.3 262.2h0M515.2 267.3h0M592.5 275.6h0M340.2 276.3h0M251.8 257.2h0M398.2 269.2h0M429.0 274.3h0M484.4 264.8h0M337.3 261.0h0M284.3 258.6h0M351.9 266.2h0M400.9 263.0h0M293.1 258.2h0M336.1 264.2h0M559.0 269.2h0M383.7 262.0h0M270.1 262.6h0M475.8 262.8h0M357.6 258.5h0M418.5 259.2h0M371.9 271.2h0M266.1 286.5h0M503.1 266.4h0M439.0 261.5h0M599.0 261.4h0M224.2 262.3h0M442.2 256.5h0M384.5 269.9h0M388.0 271.5h0M497.5 261.0h0M314.7 263.2h0M374.7 264.5h0M273.2 272.4h0M438.2 267.6h0M388.9 246.5h0M238.6 273.3h0M310.1 274.4h0M372.9 260.1h0M424.9 265.3h0M257.8 273.1h0M458.2 262.8h0M533.8 264.4h0M349.1 271.3h0M247.8 264.0h0M278.2 263.3h0M512.9 261.6h0M425.1 276.5h0M274.2 263.4h0M286.3 259.6h0M539.7 269.2h0M481.1 268.8h0M487.3 281.8h0M275.9 266.4h0M599.6 273.9h0M319.1 268.6h0M357.2 265.6h0M311.5 270.3h0M581.3 276.7h0M462.9 256.6h0M433.1 268.3h0M380.1 265.4h0M495.5 273.6h0M400.8 256.2h0M398.2 261.0h0M280.2 270.2h0M536.0 277.3h0M247.6 251.6h0M568.0 262.4h0M571.4 267.4h0M421.7 274.1h0M284.6 265.6h0M305.4 263.0h0M275.6 271.5h0M489.3 261.4h0M360.5 261.1h0M596.5 265.1h0M352.4 266.2h0M348.0 284.7h0M556.8 271.7h0M423.0 258.4h0M268.9 254.2h0M287.4 289.7h0M494.7 266.0h0M514.0 274.5h0M599.3 266.1h0M440.7 264.7h0M520.2 270.4h0M479.4 263.5h0M431.8 260.9h0M530.2 263.7h0M300.0 264.3h0M280.7 271.3h0M340.3 262.5h0M369.0 262.0h0M584.0 268.5h0M536.5 263.8h0M505.8 278.3h0M561.9 274.0h0M368.4 269.9h0M597.4 267.9h0M568.0 264.2h0M292.9 272.1h0M366.2 265.0h0M339.7 265.0h0M295.9 247.4h0M579.3 264.5h0M371.2 278.1h0M553.3 269.4h0M449.5 260.6h0M245.2 268.6h0M387.5 273.6h0M519.4 265.3h0M343.9 275.9h0M333.9 276.3h0M258.0 244.9h0M402.9 263.8h0M581.3 260.8h0M229.5 294.4h0M560.1 265.2h0M450.8 272.1h0M329.1 265.7h0M564.5 273.1h0M575.6 275.0h0M593.0 267.0h0M398.6 263.9h0M380.2 274.3h0M475.5 267.6h0M560.8 264.7h0M355.7 272.8h0M348.8 258.7h0M378.0 260.1h0M230.4 271.9h0M542.3 266.0h0M396.7 262.5h0M400.1 265.5h0M463.4 253.7h0M530.4 269.6h0M491.0 259.0h0M349.4 257.9h0M334.6 267.3h0M349.2 260.0h0M425.0 270.6h0M531.1 263.5h0M225.4 275.2h0M452.9 255.3h0M543.7 274.6h0M436.2 265.1h0M367.5 258.9h0M402.9 265.9h0M418.3 254.1h0M461.2 256.9h0M251.0 257.0h0M524.2 256.3h0M432.5 256.7h0M327.9 254.7h0M571.0 263.5h0M374.2 264.8h0M517.5 273.5h0M335.7 268.8h0M431.1 263.6h0M294.7 281.4h0M326.6 276.0h0M347.8 251.7h0M277.1 251.0h0M512.0 263.3h0M394.0 268.2h0M354.6 271.2h0M445.2 265.1h0M309.9 285.6h0M389.1 281.2h0M438.6 269.2h0M457.0 255.3h0M505.3 268.4h0M552.5 264.8h0M589.2 260.8h0M435.7 273.6h0M589.9 261.7h0M579.7 261.9h0M471.9 263.5h0M273.6 255.4h0M466.5 258.2h0M424.7 260.9h0M489.9 278.6h0M325.5 260.6h0M600.5 264.8h0M354.3 260.2h0M603.0 275.4h0M327.7 281.4h0M404.3 269.2h0M481.9 267.6h0M321.3 265.2h0M377.2 265.5h0M474.4 253.9h0M509.0 262.6h0M571.5 261.0h0M432.5 276.3h0M589.0 263.9h0M329.8 277.5h0M454.3 266.8h0M510.8 271.2h0M254.1 276.6h0M522.1 264.6h0M534.3 266.0h0M436.6 266.1h0M362.1 281.8h0M529.6 253.9h0M482.5 266.8h0M598.7 261.4h0M487.6 271.8h0M518.4 267.4h0M533.2 264.5h0M298.7 265.2h0M236.7 262.8h0M251.3 269.3h0M399.4 264.5h0M590.1 265.6h0M392.3 262.1h0M574.2 268.2h0M334.0 256.3h0M276.5 260.8h0M377.2 269.1h0M543.9 267.2h0M590.8 260.0h0M427.4 261.5h0M367.2 282.3h0M522.3 265.8h0M384.3 279.9h0M337.4 261.8h0M510.3 262.5h0M254.0 286.3h0M518.2 260.1h0M585.7 255.5h0M261.6 278.2h0M520.1 266.4h0M231.3 238.3h0M270.0 246.3h0M333.9 239.9h0M602.9 263.2h0M242.6 261.9h0M396.2 275.3h0M390.9 261.7h0M289.8 265.5h0M594.8 264.2h0M312.4 268.2h0M565.7 273.8h0M429.2 261.4h0M493.9 269.2h0M479.3 263.5h0M530.5 264.7h0M558.0 262.5h0M276.3 281.5h0M256.3 284.9h0M395.1 257.1h0M263.4 259.8h0M447.4 263.3h0M581.0 267.6h0M418.5 270.1h0M286.4 268.8h0M266.9 265.3h0M424.9 262.7h0M505.4 267.1h0M529.4 258.8h0M510.2 263.6h0M399.4 272.2h0M555.7 262.7h0M428.4 265.2h0M482.5 268.5h0M223.3 254.7h0M409.2 255.5h0M255.4 237.2h0M303.3 271.1h0M337.1 263.0h0M440.8 267.4h0M251.5 263.8h0M493.6 259.3h0M372.7 274.2h0M305.4 256.2h0M586.3 267.0h0M474.1 267.4h0M350.3 269.6h0M408.9 272.1h0M516.2 261.2h0M417.4 265.6h0M340.3 258.1h0M265.4 261.1h0M307.6 268.9h0M523.3 261.9h0M283.1 270.0h0M595.9 256.8h0M500.1 263.2h0M375.9 265.4h0M294.3 263.9h0M399.7 265.0h0M585.1 265.4h0M267.7 262.2h0M315.2 282.1h0M251.7 267.3h0M498.0 259.9h0M584.5 266.3h0M434.4 265.1h0M335.7 264.8h0M589.4 269.2h0M445.9 252.1h0M588.0 260.5h0M364.5 268.7h0M277.8 260.4h0M249.0 252.3h0M324.1 268.0h0M387.4 260.6h0M513.1 273.0h0M400.9 266.1h0M324.9 252.2h0M565.3 257.8h0M442.1 257.1h0M451.9 257.3h0M534.7 266.2h0M477.9 266.7h0M314.4 274.9h0M585.2 264.8h0M283.8 263.1h0M283.4 271.6h0M469.5 281.5h0M444.3 264.5h0M309.7 287.9h0M260.2 269.9h0M403.3 266.4h0M583.0 261.3h0M563.6 259.4h0M452.3 268.8h0M524.4 263.4h0M474.9 266.4h0M311.2 264.8h0M549.3 267.1h0M455.1 264.9h0M449.3 265.0h0M585.4 258.8h0M435.3 271.9h0M346.5 257.0h0M383.2 273.1h0M434.0 266.2h0M554.5 265.5h0M543.2 267.5h0M373.8 260.9h0M408.4 268.0h0M241.4 229.9h0M465.7 260.7h0M528.0 267.0h0M464.5 261.8h0M275.8 268.1h0M541.9 256.3h0M500.6 260.4h0M330.5 271.4h0M287.3 277.3h0M439.7 269.8h0M244.5 278.9h0M535.0 265.3h0M300.2 251.6h0M273.2 270.9h0M278.8 272.4h0M490.3 263.0h0M382.9 261.7h0M291.5 267.8h0M519.6 262.2h0M243.0 249.3h0M297.2 256.3h0M516.3 260.9h0M418.8 267.2h0M266.2 270.4h0M599.4 261.9h0M363.7 278.1h0M382.1 263.5h0M504.8 257.6h0M409.9 262.3h0M538.3 265.5h0M426.4 269.4h0M316.0 274.5h0M426.4 265.8h0M541.8 262.7h0M329.1 274.4h0M464.5 260.8h0M443.1 268.9h0M486.3 268.2h0M359.5 279.0h0M308.7 267.4h0M475.4 265.0h0M545.2 262.2h0M401.9 264.4h0M274.5 289.0h0M423.5 253.7h0M482.2 262.9h0M261.0 262.7h0M521.2 265.1h0M364.2 248.1h0M561.3 261.2h0M316.7 255.2h0M224.7 264.2h0M344.0 266.7h0M498.0 267.3h0M496.5 262.0h0M545.2 264.8h0M302.6 271.8h0M448.6 258.4h0M250.1 263.1h0M307.9 292.2h0M239.8 274.1h0M461.9 262.6h0M563.4 261.8h0M451.3 261.7h0M451.9 275.7h0M566.5 263.5h0M347.9 269.1h0M434.4 257.9h0M530.7 264.1h0M296.4 277.4h0M490.2 262.2h0M251.8 249.2h0M363.2 251.2h0M292.8 271.0h0M387.1 276.1h0M300.2 272.9h0M245.8 250.8h0M391.7 252.8h0M371.1 263.2h0M501.9 270.1h0M227.8 253.9h0M464.5 269.6h0M239.3 260.2h0M230.1 257.3h0M569.3 262.9h0M408.1 271.1h0M404.1 261.6h0M249.4 262.1h0M522.0 251.9h0M323.8 254.4h0M401.5 262.7h0M497.3 259.5h0M523.8 268.5h0M369.4 267.6h0M245.5 258.6h0M597.8 269.9h0M319.6 263.8h0M238.4 276.1h0M458.5 263.6h0M555.0 263.9h0M255.9 272.3h0M239.8 246.2h0M480.2 265.6h0M440.4 265.1h0M321.0 268.9h0M323.3 261.3h0M514.6 263.0h0M230.4 276.7h0M314.0 262.8h0M360.5 271.1h0M517.2 261.0h0M342.0 270.3h0M243.1 264.2h0M505.5 265.5h0M484.5 265.4h0M270.9 262.0h0M499.6 253.6h0M459.7 261.4h0M362.5 246.9h0M442.6 249.9h0M413.8 264.5h0M524.6 270.5h0M352.2 265.5h0M256.8 265.3h0M361.2 261.6h0M450.7 260.3h0M320.0 272.4h0M281.3 262.0h0M303.1 259.0h0M545.5 260.8h0M494.3 251.6h0M270.2 259.3h0M336.4 256.8h0M325.5 267.9h0M265.2 264.9h0M541.9 262.1h0M332.5 278.6h0M437.5 272.0h0M368.0 259.8h0M249.1 262.9h0M236.3 263.1h0M486.9 254.5h0M461.5 263.7h0M289.9 259.5h0M352.1 246.9h0M415.4 273.0h0M441.9 270.0h0M542.1 262.9h0M290.1 280.7h0M576.9 261.6h0M415.8 263.6h0M594.7 260.7h0M590.9 270.9h0M246.7 261.0h0M482.0 262.8h0M315.0 245.9h0M458.8 265.8h0M561.1 264.6h0M396.9 261.2h0M471.0 264.7h0M476.7 264.7h0M293.9 258.0h0M384.5 260.2h0M333.3 260.0h0M406.3 265.9h0M512.8 269.1h0M277.6 251.8h0M433.0 268.1h0M414.4 266.7h0M369.0 271.5h0M542.9 267.6h0M355.8 256.8h0M527.0 261.3h0M249.3 262.6h0M389.7 267.9h0M263.9 268.3h0M544.8 265.3h0M475.4 265.5h0M303.3 261.7h0M364.2 269.3h0M559.4 269.3h0M562.4 265.8h0M562.2 274.8h0M453.0 266.4h0M323.1 272.9h0M396.0 266.3h0M475.6 256.0h0M384.4 261.8h0M244.5 232.4h0M422.3 269.3h0M255.8 242.2h0M311.9 240.7h0M533.5 261.6h0M525.9 266.8h0M481.0 272.0h0M472.8 273.3h0M316.5 271.2h0M492.1 263.7h0M270.5 279.1h0M229.3 253.4h0M351.5 262.7h0M282.1 290.9h0M487.0 265.3h0M235.6 277.0h0M517.7 260.5h0M578.4 266.1h0M493.1 261.2h0M586.1 265.6h0M520.6 270.8h0M576.3 256.0h0M478.7 271.1h0M521.2 256.2h0M525.3 256.8h0M266.8 259.8h0M344.2 265.1h0M457.2 263.1h0M554.8 256.2h0M243.1 241.2h0M271.1 262.4h0M347.2 247.3h0M352.9 260.7h0M539.5 266.2h0M228.1 285.8h0M537.4 257.1h0M592.7 263.9h0M241.3 290.7h0M584.9 262.8h0M473.8 262.8h0M272.6 234.3h0M539.0 263.8h0M267.8 261.5h0M368.7 277.2h0M313.3 267.0h0M368.8 285.6h0M277.9 261.5h0M366.7 262.0h0M399.2 259.7h0M421.0 272.6h0M546.7 264.3h0M265.4 275.2h0M502.3 256.1h0M525.6 264.0h0M568.6 269.2h0M372.0 266.1h0M573.9 264.4h0M434.4 250.6h0M400.9 271.1h0M415.9 261.3h0M379.4 260.2h0M485.2 269.9h0M424.9 266.8h0M556.8 260.7h0M401.0 271.4h0M242.3 267.2h0M282.1 269.0h0M379.6 265.0h0M402.0 250.2h0M532.2 260.9h0M447.3 265.0h0M286.9 263.7h0M337.5 277.3h0M426.6 259.2h0M524.5 267.1h0M492.3 260.8h0M466.2 263.2h0M319.7 271.1h0M315.8 267.4h0M511.3 268.6h0M470.0 260.0h0M598.7 266.3h0M506.9 265.2h0M318.6 270.7h0M233.1 259.0h0M386.3 267.1h0M351.9 268.5h0M418.8 261.2h0M365.0 270.5h0M240.7 247.0h0M248.5 234.7h0M359.0 242.0h0M446.7 274.0h0M289.2 282.5h0M290.7 247.5h0M310.7 262.1h0M504.8 267.0h0M513.4 275.2h0M407.9 270.6h0M243.2 271.0h0M580.5 265.4h0M553.2 259.8h0M337.2 265.6h0M225.7 263.7h0M409.7 253.7h0M286.4 273.2h0M367.1 254.8h0M374.7 264.5h0M341.0 264.6h0M570.2 258.1h0M370.7 249.9h0M265.1 262.9h0M441.3 281.2h0M560.6 267.2h0M310.5 267.1h0M415.7 271.6h0M366.3 280.6h0M479.6 263.6h0M341.4 260.1h0M319.6 258.5h0M588.2 260.1h0M490.2 261.0h0M472.3 266.4h0M578.0 269.2h0M244.2 275.5h0M390.2 273.9h0M459.6 264.6h0M271.5 263.3h0M601.5 263.5h0M483.7 248.6h0M511.5 263.1h0M590.3 254.9h0M442.6 268.4h0M570.1 265.7h0M364.4 266.0h0M573.3 262.6h0M415.6 252.1h0M517.6 261.6h0M403.8 266.1h0M434.2 264.7h0M418.7 260.2h0M396.4 273.3h0M556.0 264.4h0M264.7 259.8h0M302.5 279.4h0M289.3 279.2h0M292.0 244.2h0M445.4 270.6h0M261.2 281.0h0M478.8 264.5h0M554.3 265.9h0M573.7 267.6h0M243.5 280.9h0M316.2 280.6h0M390.3 256.4h0M227.9 302.7h0M479.0 269.1h0M395.5 268.0h0M385.0 262.3h0M281.6 250.9h0M248.7 260.1h0M559.0 265.5h0M450.3 264.4h0M354.3 275.2h0M557.6 265.8h0M266.9 278.9h0M373.9 263.0h0M250.3 248.8h0M524.6 261.8h0M558.6 278.2h0M330.8 279.4h0M534.0 259.1h0M584.8 259.2h0M310.1 236.1h0M590.2 267.3h0M350.3 267.1h0M492.1 251.5h0M426.8 268.6h0M355.4 265.2h0M451.4 266.1h0M222.5 292.0h0M413.5 268.4h0M412.5 252.3h0M463.8 262.7h0M513.8 262.0h0M557.5 262.6h0M527.8 272.4h0M554.3 261.9h0M365.4 255.2h0M262.7 276.2h0M470.1 269.6h0M239.6 273.8h0M585.9 267.7h0M406.0 255.1h0M320.1 248.7h0M234.2 290.6h0M543.4 265.6h0M273.4 263.3h0M516.4 259.8h0M255.6 254.1h0M487.4 270.7h0M425.3 258.1h0M466.5 266.4h0M274.6 254.1h0M524.3 273.2h0M522.1 273.1h0M542.8 260.2h0M375.8 263.4h0M321.0 272.3h0M431.7 263.7h0M488.4 275.7h0M512.0 266.6h0M393.3 263.7h0M454.2 260.4h0M468.5 269.7h0M447.6 276.2h0M495.7 257.3h0M340.2 268.9h0M311.8 270.0h0M332.4 264.7h0M523.9 263.7h0M591.2 266.4h0M343.5 259.1h0M471.6 263.0h0M443.7 260.9h0M557.6 266.5h0M228.1 287.8h0M459.2 265.8h0M553.6 265.7h0M589.9 267.6h0M381.0 261.2h0M405.8 266.2h0M542.1 259.1h0M578.3 274.0h0M312.3 275.8h0M560.5 265.9h0M268.1 258.9h0M242.0 263.1h0M234.9 244.7h0M251.0 272.3h0M259.0 258.4h0M311.8 278.0h0M332.1 259.3h0M591.6 265.8h0M527.9 270.0h0M261.8 277.9h0M295.8 277.9h0M486.4 272.6h0M451.1 258.1h0M392.2 283.3h0M384.5 267.0h0M506.4 264.7h0M409.5 263.6h0M496.4 256.1h0M226.8 278.5h0M260.6 263.0h0M293.1 245.8h0M448.0 272.8h0M443.9 263.8h0M553.2 258.9h0M560.1 264.1h0M530.1 266.7h0M348.5 271.7h0M244.9 261.0h0M559.4 269.4h0M576.8 263.6h0M231.7 260.1h0M223.9 261.2h0M491.2 264.6h0M396.1 267.6h0M474.1 258.0h0M532.3 258.3h0M289.6 256.1h0M340.4 258.3h0M592.1 262.9h0M428.4 274.3h0M410.1 265.9h0M432.3 251.9h0M430.8 266.5h0M498.3 262.1h0M553.8 265.6h0M460.1 265.5h0M462.8 255.8h0M442.6 261.5h0M313.4 273.8h0M513.4 263.7h0M297.9 269.1h0M320.5 267.9h0M351.7 261.1h0M422.3 268.0h0M533.9 254.9h0M358.1 259.2h0M451.9 262.1h0M392.4 257.3h0M590.4 270.8h0M469.1 270.7h0M229.1 240.5h0M551.5 264.9h0M413.2 262.7h0M589.3 263.1h0M269.8 250.7h0M587.8 268.5h0M459.0 270.1h0M411.8 257.9h0M590.7 262.9h0M541.0 266.9h0M421.9 262.3h0M365.3 283.6h0M370.4 268.0h0M404.4 268.5h0M290.8 262.0h0M311.3 266.8h0M474.3 265.1h0M516.1 258.6h0M567.6 259.8h0M340.1 260.2h0M292.8 263.8h0M460.8 263.3h0M337.3 277.7h0M344.3 275.2h0M248.1 291.7h0M516.8 256.5h0M577.4 264.1h0M274.3 267.8h0M409.0 260.7h0M521.4 266.4h0M553.4 267.6h0M356.2 276.8h0M245.2 264.6h0M514.2 265.7h0M492.6 260.1h0M373.2 261.2h0M596.7 270.6h0M495.2 270.5h0M439.6 252.5h0M447.1 269.6h0M252.8 266.6h0M587.8 267.6h0M599.3 257.0h0M285.1 267.6h0M515.1 268.1h0M443.0 263.4h0M372.5 253.1h0M447.3 274.2h0M268.5 292.2h0M355.8 257.7h0M349.4 254.7h0M481.8 263.5h0M423.4 267.8h0M232.4 230.4h0M332.2 262.8h0M368.5 263.9h0M360.7 253.2h0M522.0 278.6h0M538.0 276.1h0M584.8 264.3h0M580.6 260.5h0M408.5 272.8h0M435.1 276.6h0M452.0 260.7h0M415.6 265.9h0M236.9 256.4h0M264.5 235.0h0M525.6 264.3h0M509.1 262.4h0M340.7 265.7h0M297.7 265.4h0M438.9 270.1h0M545.3 260.8h0M243.4 286.8h0M470.6 255.7h0M308.2 262.3h0M319.9 274.0h0M390.4 268.8h0M284.8 253.9h0M506.1 264.3h0M259.0 247.5h0M411.0 270.9h0M476.9 255.2h0M538.5 261.4h0M433.1 270.9h0M271.8 278.3h0M579.9 266.8h0M233.9 261.7h0M570.9 265.4h0M459.1 263.1h0M449.9 256.7h0M370.3 261.3h0M284.4 270.9h0M451.1 281.9h0M559.4 277.5h0M231.6 272.0h0M433.7 267.8h0M465.2 267.6h0M572.4 263.3h0M228.1 257.8h0M363.2 265.2h0M270.7 279.0h0M340.8 267.4h0M567.9 263.2h0M291.0 267.7h0M359.1 267.5h0M535.3 257.6h0M507.8 269.0h0M571.6 262.7h0M269.6 267.2h0M249.7 260.4h0M306.9 277.5h0M410.7 266.7h0M481.3 263.0h0M267.1 257.9h0M461.5 260.9h0M307.0 269.5h0M589.0 258.1h0M434.0 265.5h0M275.6 283.2h0M539.5 261.5h0M410.5 274.9h0M515.6 264.5h0M428.9 260.5h0M559.4 256.9h0M329.6 273.4h0M591.7 263.0h0M229.3 268.8h0M366.0 266.7h0M282.3 275.5h0M598.4 264.3h0M229.8 285.5h0M332.2 261.8h0M370.3 265.2h0M251.1 273.0h0M572.0 266.7h0M515.9 259.1h0M427.3 258.2h0M377.1 249.6h0M296.4 248.9h0M377.1 259.3h0M456.0 270.4h0M547.5 267.5h0M315.0 270.8h0M550.9 270.7h0M474.3 270.4h0M283.1 264.2h0M234.5 253.0h0M231.8 266.7h0M589.5 264.2h0M315.9 264.2h0M247.5 253.3h0M473.4 256.9h0M327.4 265.7h0M581.8 268.3h0M560.1 257.6h0M470.2 267.6h0M398.0 265.2h0M384.1 255.2h0M519.9 260.2h0M291.9 276.9h0M247.5 247.4h0M569.3 263.7h0M368.4 279.6h0M435.3 266.0h0M372.7 274.0h0M505.8 264.6h0M518.2 253.1h0M292.3 262.0h0M516.5 274.5h0M343.3 266.0h0M439.2 273.3h0M406.4 244.4h0M544.6 265.7h0M381.5 277.6h0M536.7 275.4h0M580.7 254.2h0M441.4 272.8h0M533.1 262.7h0M560.2 257.3h0M309.4 278.7h0M394.3 265.2h0M565.6 266.6h0M512.1 263.3h0M544.9 272.1h0M451.8 266.5h0M366.9 264.1h0M522.0 261.2h0M444.0 270.0h0M302.6 261.9h0M375.0 272.0h0M393.2 268.8h0M265.7 266.8h0M261.1 232.5h0M559.6 268.5h0M597.8 263.0h0M284.0 285.0h0M361.8 274.9h0M479.1 267.2h0M276.9 262.3h0M567.4 254.4h0M329.8 276.1h0M586.4 268.6h0M420.6 259.5h0M446.0 252.0h0M428.1 266.7h0M415.6 272.4h0M324.6 263.0h0M460.9 278.3h0M389.9 276.6h0M545.6 266.0h0M332.6 293.5h0M295.8 268.6h0M550.2 271.5h0M426.5 254.5h0M309.7 259.4h0M518.6 263.2h0M331.6 268.3h0M496.3 262.1h0M472.1 259.0h0M333.7 258.9h0M466.9 268.6h0M408.6 266.8h0M233.7 245.5h0M594.8 267.6h0M321.7 264.3h0M368.6 251.6h0M557.7 265.1h0M485.2 282.0h0M287.1 260.4h0M466.7 270.1h0M230.7 281.1h0M507.5 268.2h0M452.7 269.1h0M474.7 256.3h0M438.6 263.1h0M357.2 268.9h0M472.1 267.5h0M397.5 268.8h0M507.6 266.8h0M235.7 262.7h0M323.4 254.9h0M281.9 276.4h0M417.2 263.3h0M458.9 258.1h0M306.1 294.5h0M582.7 265.9h0M363.5 258.2h0M227.7 271.1h0M499.0 262.8h0M265.0 280.3h0M228.0 267.7h0M332.5 266.0h0M401.0 256.6h0M314.1 252.0h0M272.5 260.1h0M358.3 255.9h0M525.5 263.3h0M340.8 272.4h0M443.9 256.9h0M302.4 296.2h0M269.9 250.0h0M343.5 279.0h0M235.0 267.6h0M402.7 267.1h0M490.9 262.2h0M383.0 266.5h0M308.3 264.1h0M346.0 262.3h0M534.4 264.0h0M314.2 259.3h0M348.6 274.0h0M484.0 264.8h0M317.3 284.2h0M576.5 267.8h0M288.2 255.4h0M231.8 245.6h0M428.1 270.8h0M439.2 270.1h0M345.6 272.3h0M519.6 255.6h0M544.1 264.4h0M408.1 260.8h0M534.6 259.9h0M528.8 268.7h0M290.4 266.6h0M275.8 258.2h0M272.7 267.3h0M255.2 272.4h0M518.3 262.1h0M367.8 269.5h0M276.3 261.3h0M431.5 276.5h0M335.3 265.3h0M240.5 276.0h0M380.3 268.4h0M537.0 270.3h0M490.8 267.9h0M597.7 263.3h0M403.1 279.4h0M589.2 261.6h0M368.0 271.9h0M408.8 267.5h0M506.5 268.7h0M397.0 266.4h0M286.0 262.7h0M492.8 261.0h0M571.3 265.2h0M358.1 255.6h0M380.8 261.5h0M340.1 291.4h0M484.7 265.9h0M409.9 273.5h0M309.9 271.8h0M564.5 265.1h0M227.8 270.1h0M551.5 262.3h0M258.4 252.9h0M228.8 251.9h0M468.7 260.9h0M444.5 275.2h0M288.1 256.6h0M387.2 252.5h0M259.0 289.6h0M379.9 259.0h0M422.4 265.7h0M563.1 268.3h0M365.2 277.9h0M282.8 272.6h0M584.7 263.7h0M465.0 264.1h0M273.7 263.7h0M245.3 249.1h0M367.5 281.4h0M314.7 273.3h0M362.1 288.3h0M325.9 274.2h0M569.9 265.3h0M531.6 264.8h0M477.8 258.9h0M523.8 267.1h0M373.8 264.0h0M553.2 264.2h0M241.9 264.7h0M278.0 266.6h0M271.9 256.9h0M533.1 265.0h0M585.6 266.9h0M506.5 260.2h0M339.7 280.1h0M242.1 268.7h0M589.5 256.7h0M287.4 261.8h0M531.0 261.4h0M402.0 269.8h0M351.4 260.8h0M378.6 265.6h0M251.8 277.0h0M266.8 258.1h0M394.9 254.5h0M478.3 257.2h0M349.0 261.0h0M406.1 268.4h0M525.0 265.9h0M468.3 270.1h0M374.2 256.9h0M398.0 252.1h0M598.0 261.2h0M234.7 256.6h0M375.4 260.4h0M272.0 262.0h0M262.3 275.9h0M242.7 262.8h0M513.9 262.3h0M396.5 254.7h0M431.5 258.3h0M337.3 257.6h0M372.7 263.6h0M394.5 270.9h0M538.0 268.1h0M257.1 243.0h0M290.8 273.7h0M287.0 254.3h0M399.7 253.9h0M404.1 259.5h0M481.5 266.3h0M571.6 257.7h0M313.9 263.9h0M377.7 268.4h0M424.5 271.1h0M523.6 269.3h0M417.3 256.2h0M283.2 280.7h0M241.5 273.8h0M351.9 261.4h0M453.5 265.3h0M290.9 259.0h0M395.5 266.5h0M368.5 265.4h0M488.9 260.1h0M593.9 266.2h0M409.6 273.1h0M594.6 271.2h0M377.6 259.6h0M433.1 269.0h0M231.5 251.4h0M286.8 257.9h0M331.6 257.0h0M315.7 263.9h0M561.0 257.6h0M302.2 288.2h0M240.5 260.9h0M436.6 264.9h0M360.9 265.5h0M240.2 248.8h0M511.8 276.8h0M579.5 268.2h0M506.2 259.0h0M526.9 275.2h0M511.2 277.7h0M595.1 266.2h0M275.6 264.2h0M489.5 259.2h0M584.0 255.7h0M545.0 260.7h0M432.7 271.9h0M473.0 256.9h0M316.1 272.4h0M349.8 267.4h0M279.3 249.9h0M375.9 253.6h0M537.1 256.9h0M352.4 278.0h0M558.2 262.2h0M296.9 279.2h0M468.7 275.0h0M311.6 258.2h0M464.8 272.2h0M521.8 256.8h0M556.9 262.0h0M512.6 268.7h0M276.5 277.7h0M483.4 269.8h0M334.4 251.3h0M415.1 271.1h0M276.2 273.0h0M390.8 259.0h0M473.1 263.5h0M265.9 285.0h0M446.7 255.6h0M559.5 269.8h0M423.0 264.2h0M346.8 260.8h0M301.0 283.5h0M399.0 267.6h0M372.6 264.2h0M486.6 262.9h0M504.4 261.8h0M488.1 273.2h0M511.1 262.9h0M523.2 265.8h0M498.7 266.0h0M317.7 262.7h0M442.3 257.4h0M371.4 255.7h0M251.8 261.3h0M462.0 263.5h0M276.4 266.1h0M483.5 262.6h0M427.1 263.5h0M382.8 252.2h0M430.6 271.3h0M317.3 260.5h0M576.9 262.8h0M584.5 269.9h0M262.0 267.2h0M495.6 265.7h0M385.2 266.4h0M539.8 267.6h0M579.2 269.2h0M413.0 267.4h0M463.9 265.0h0M362.2 274.4h0M475.9 268.3h0M599.7 265.3h0M349.0 265.4h0M233.7 239.9h0M592.2 264.1h0M232.8 263.9h0M484.3 260.4h0M376.2 265.9h0M576.4 262.5h0M268.2 229.7h0M313.3 272.3h0M538.1 262.8h0M225.1 255.6h0M322.4 255.0h0M286.8 245.2h0M502.8 250.3h0M585.1 260.3h0M315.4 267.3h0M227.4 262.7h0M505.0 260.2h0M568.8 261.1h0M228.0 262.7h0M456.2 267.3h0M448.5 261.9h0M433.8 249.9h0M461.1 260.1h0M562.9 262.1h0M306.6 268.7h0M582.4 267.8h0M584.8 268.6h0M539.0 265.2h0M369.7 263.5h0M583.1 261.3h0M304.2 260.1h0M409.6 270.7h0M414.6 267.2h0M275.7 274.1h0M598.0 259.8h0M291.3 266.4h0M405.0 260.6h0M255.1 266.1h0M329.4 257.3h0M538.5 264.6h0M481.1 266.6h0M361.3 261.2h0M469.7 262.8h0M287.3 259.9h0M473.7 265.3h0M561.2 265.7h0M227.7 265.9h0M336.6 270.9h0M320.2 272.0h0M256.0 254.1h0M570.9 263.9h0M484.8 264.0h0M456.7 262.2h0M455.6 262.2h0M478.5 262.3h0M331.0 265.4h0M299.0 262.0h0M281.5 258.7h0M298.0 241.1h0M525.9 259.7h0M345.1 259.3h0M369.7 263.9h0M504.0 273.3h0M591.2 264.7h0M261.9 250.9h0M445.9 275.4h0M381.4 260.7h0M291.5 263.8h0M351.8 257.1h0M520.5 259.4h0M324.6 264.4h0M435.7 278.9h0M229.3 263.2h0M549.8 266.5h0M550.5 267.6h0M540.5 257.5h0M388.0 254.8h0M385.9 267.3h0M478.7 270.0h0M598.0 259.9h0M412.4 276.9h0M335.9 278.1h0M403.2 260.0h0M440.2 262.0h0M580.3 263.7h0M442.6 259.3h0M535.4 265.4h0M402.2 263.0h0M567.6 262.8h0M330.8 267.9h0M337.6 277.5h0M430.7 269.6h0M264.9 261.5h0M285.2 270.0h0M419.1 260.2h0M466.3 254.5h0M595.5 269.1h0M265.4 280.6h0M238.5 239.5h0M484.5 264.5h0M257.4 276.9h0M335.7 267.0h0M481.8 267.1h0M553.5 257.9h0M474.7 272.7h0M583.3 265.1h0M334.1 251.2h0M506.3 270.3h0M446.9 268.5h0M372.2 276.4h0M496.8 259.0h0M544.4 263.5h0M443.1 265.7h0M495.0 255.9h0M379.3 264.0h0M550.0 269.6h0M368.8 274.5h0M459.9 277.7h0M449.3 270.0h0M417.9 260.2h0M572.0 267.8h0M490.3 266.7h0M446.8 263.9h0M494.0 262.9h0M492.3 255.4h0M348.5 274.4h0M342.9 267.8h0M454.5 267.6h0M275.5 279.4h0M531.1 266.0h0M515.2 269.1h0M466.6 274.7h0M349.2 271.3h0M595.1 264.1h0M505.0 269.0h0M550.4 265.3h0M496.3 266.0h0M435.1 263.7h0M330.4 268.5h0M291.1 266.9h0M533.3 264.2h0M459.1 270.3h0M312.5 255.3h0M301.9 249.0h0M407.8 262.9h0M464.1 260.9h0M512.5 266.8h0M405.2 265.9h0M317.7 263.0h0M480.2 281.0h0M271.8 267.4h0M364.0 277.3h0M436.4 261.5h0M229.6 282.2h0M274.0 248.4h0M491.9 261.3h0M379.0 262.2h0M392.6 258.9h0M402.1 261.2h0M289.1 261.5h0M589.9 268.0h0M573.9 261.1h0M463.9 260.0h0M257.3 273.9h0M484.1 264.1h0M530.4 263.5h0M350.0 266.5h0M279.8 275.7h0M499.1 257.6h0M464.3 282.4h0M371.9 258.3h0M334.8 264.8h0M576.1 265.7h0M255.5 268.1h0M340.5 269.2h0M404.9 264.8h0M446.8 257.5h0M319.8 266.5h0M448.7 268.1h0M265.2 253.9h0M424.8 271.9h0M254.8 256.7h0M370.9 262.5h0M493.7 274.5h0M298.5 268.1h0M280.4 269.0h0M590.0 266.4h0M385.7 266.2h0M244.3 274.6h0M384.4 256.3h0M326.1 266.6h0M533.8 272.2h0M557.2 273.1h0M512.6 263.0h0M479.0 278.3h0M439.8 274.5h0M244.4 264.1h0M470.2 264.6h0M369.8 273.3h0M329.7 246.4h0M437.5 262.2h0M314.6 271.8h0M598.4 263.8h0M450.1 274.7h0M507.5 266.3h0M263.8 265.4h0M236.4 256.0h0M288.0 298.0h0M292.6 279.1h0M432.0 253.4h0M472.2 267.3h0M563.4 275.8h0M258.7 264.2h0M411.9 277.6h0M473.5 269.0h0M380.9 269.5h0M249.9 253.4h0M259.2 271.4h0M225.8 259.8h0M344.7 254.8h0M283.5 270.5h0M583.9 262.6h0M462.6 255.8h0M259.7 278.7h0M475.8 260.0h0M414.5 262.2h0M538.6 271.3h0M294.1 272.3h0M354.5 276.9h0M408.5 252.9h0M417.2 257.2h0M276.9 273.3h0M538.6 261.2h0M282.5 266.1h0M398.6 271.7h0M439.1 268.2h0M389.3 262.6h0M497.4 261.4h0M422.0 260.2h0M482.7 257.8h0M512.7 268.4h0M574.2 256.9h0M410.0 253.5h0M381.3 262.3h0M572.6 263.3h0M590.0 265.9h0M554.8 273.6h0M299.9 257.8h0M568.3 261.4h0M468.6 273.5h0M421.3 261.0h0M272.4 271.7h0M284.2 288.4h0M332.4 262.0h0M402.9 280.0h0M385.3 275.8h0M369.1 259.6h0M384.4 276.8h0M329.1 263.0h0M565.0 266.2h0M334.2 269.0h0M303.3 257.3h0M527.6 267.0h0M522.9 270.0h0M535.1 265.8h0M449.2 256.6h0M348.2 246.8h0M303.1 264.2h0M364.4 264.2h0M256.6 297.6h0M327.3 246.9h0M354.7 256.5h0M266.5 258.2h0M280.3 282.2h0M268.0 259.7h0M370.5 254.5h0M575.2 277.4h0M587.6 266.6h0M449.1 264.7h0M224.5 257.0h0M476.2 263.2h0M460.8 268.1h0M417.8 265.8h0M328.3 282.9h0M399.5 268.7h0M237.2 295.5h0M471.9 266.7h0M518.7 264.7h0M255.0 259.3h0M602.8 253.2h0M595.1 268.2h0M383.9 263.9h0M542.6 267.4h0M436.3 255.4h0M326.2 237.2h0M484.0 267.0h0M359.1 264.9h0M280.7 288.6h0M516.2 276.5h0M294.9 237.3h0M578.2 263.6h0M298.0 267.9h0M345.4 269.6h0M527.6 264.2h0M540.8 266.8h0M375.3 268.5h0M454.5 269.2h0M581.8 265.3h0M333.2 250.9h0M324.6 260.8h0M262.3 257.9h0M484.7 274.4h0M485.5 257.3h0M269.1 282.6h0M496.5 266.5h0M332.1 252.8h0M417.1 266.9h0M436.3 274.8h0M444.5 269.2h0M432.7 262.9h0M374.5 257.8h0M489.2 271.5h0M302.5 265.5h0M553.5 265.0h0M370.1 270.2h0M516.7 261.5h0M394.3 261.6h0M403.5 253.7h0M422.3 258.8h0M436.2 254.7h0M403.8 282.6h0M543.6 261.3h0M321.9 268.1h0M509.0 267.6h0M379.1 267.4h0M546.7 264.6h0M537.7 266.3h0M251.0 298.2h0M575.5 264.5h0M531.7 266.6h0M472.1 261.0h0M295.5 261.8h0M539.4 269.6h0M447.6 269.1h0M310.7 275.1h0M466.0 269.5h0M268.1 269.8h0M488.6 267.5h0M295.8 290.3h0M231.1 272.4h0M364.6 272.9h0M453.3 266.3h0M472.3 266.3h0M380.8 267.3h0M329.0 278.9h0M258.7 282.6h0M358.0 262.1h0M520.1 268.5h0M577.8 266.2h0M573.0 262.1h0M254.5 269.4h0M271.1 269.7h0M362.5 260.6h0M435.2 259.9h0M241.5 256.8h0M256.5 238.4h0M536.5 269.2h0M601.9 254.6h0M389.2 248.8h0M524.3 260.6h0M489.9 266.2h0M515.1 265.9h0M382.7 263.8h0M576.2 262.8h0M269.4 269.4h0M323.8 286.2h0M464.5 261.1h0M317.4 258.0h0M541.8 271.7h0M535.2 266.3h0M522.9 261.9h0M556.8 268.2h0M464.4 264.2h0M291.8 269.3h0M347.6 261.5h0M224.0 272.6h0M373.0 263.4h0M464.5 272.8h0M487.7 262.2h0M494.5 258.6h0M321.3 246.2h0M574.1 260.8h0M429.8 254.2h0M301.4 234.3h0M579.2 266.3h0M478.4 269.4h0M482.4 254.7h0M453.7 262.3h0M222.9 255.9h0M432.5 271.2h0M475.9 260.7h0M304.4 250.6h0M403.2 271.3h0M498.0 272.1h0M565.8 263.1h0M309.9 259.5h0M440.5 265.2h0M248.6 261.1h0M289.2 271.4h0M366.8 259.1h0M228.9 248.6h0M357.3 286.2h0M554.0 267.5h0M337.5 266.1h0M279.9 273.0h0M262.1 268.0h0M432.7 262.1h0M375.6 258.3h0M460.9 267.5h0M375.5 252.5h0M423.1 252.0h0M376.7 270.2h0M332.2 290.4h0M226.3 238.6h0M330.1 260.5h0M504.9 262.5h0M353.8 265.5h0M516.4 264.5h0M238.3 259.4h0M490.2 266.4h0M536.7 264.6h0M315.2 270.4h0M366.8 257.9h0M322.9 260.3h0M388.4 260.5h0M487.8 257.9h0M262.1 233.2h0M601.9 266.9h0M481.3 264.7h0M532.3 262.9h0M542.2 266.4h0M572.5 271.5h0M518.1 264.2h0M325.1 262.5h0M506.8 271.0h0M477.0 267.9h0M381.3 268.8h0M553.7 275.5h0M226.9 262.0h0M414.6 268.5h0M559.2 263.3h0M425.0 262.9h0M367.9 256.9h0M263.5 259.8h0M294.7 261.2h0M323.2 266.4h0M600.6 265.1h0M431.2 264.3h0M339.4 284.7h0M560.1 262.5h0M455.0 264.0h0M334.6 255.2h0M471.5 251.7h0M232.1 275.3h0M421.1 270.7h0M422.8 256.5h0M473.8 257.9h0M231.3 311.2h0M296.3 295.6h0M504.6 257.0h0M375.3 274.2h0M496.9 264.6h0M427.7 263.8h0M399.1 280.4h0M448.0 249.4h0M223.6 251.9h0M579.6 255.0h0M485.2 266.3h0M292.3 265.8h0M486.4 260.8h0M575.0 258.2h0M541.1 270.2h0M466.7 269.4h0M422.3 261.9h0M459.5 266.8h0M291.8 250.4h0M392.3 258.4h0M555.9 260.3h0M360.6 261.7h0M324.3 262.6h0M420.7 268.5h0M531.9 261.7h0M602.7 263.8h0M589.6 266.3h0M263.5 276.8h0M396.0 272.4h0M432.7 264.7h0M480.5 257.9h0M264.8 264.4h0M361.1 263.2h0M365.7 243.0h0M453.7 272.5h0M363.0 267.7h0M342.5 266.5h0M293.3 262.7h0M474.8 264.3h0M340.0 267.1h0M300.4 270.1h0M569.4 264.2h0M368.9 272.8h0M331.3 264.7h0M256.8 261.7h0M420.3 264.6h0M352.3 264.7h0M445.1 272.8h0M340.8 260.2h0M401.1 254.7h0M271.2 267.2h0M246.0 236.1h0M577.7 265.2h0M502.1 263.2h0M382.2 274.5h0M298.3 263.4h0M475.0 273.3h0M452.0 263.0h0M458.8 268.7h0M594.7 267.7h0M356.8 265.7h0M575.9 260.5h0M387.4 256.5h0M593.7 254.6h0M592.7 267.0h0M380.5 258.5h0M412.3 259.8h0M563.2 267.6h0M258.7 252.7h0M414.6 279.8h0M259.8 271.5h0M544.8 261.6h0M325.2 276.5h0M347.8 282.0h0M344.2 261.1h0M496.1 263.8h0M345.7 266.1h0M390.3 253.7h0M555.1 272.8h0M390.1 267.5h0M571.9 260.0h0M571.6 267.7h0M395.4 251.3h0M310.7 266.6h0M579.7 269.4h0M434.8 265.1h0M357.7 279.3h0M245.0 267.8h0M399.1 260.2h0M235.5 270.7h0M461.1 259.6h0M372.7 267.1h0M333.4 240.9h0M306.0 259.0h0M510.6 265.7h0M564.8 266.3h0M225.7 266.5h0M424.1 271.5h0M252.1 304.3h0M235.8 271.3h0M341.7 263.9h0M425.6 281.1h0M566.2 262.5h0M467.0 259.2h0M355.4 246.7h0M489.7 251.3h0M520.5 267.6h0M468.3 264.8h0M369.6 245.3h0M510.1 259.1h0M364.6 263.1h0M360.3 270.1h0M329.5 254.0h0M593.3 267.6h0M267.9 260.7h0M242.5 259.6h0M333.7 269.6h0M269.4 258.5h0M361.9 267.3h0M579.8 259.6h0M583.3 276.3h0M309.3 258.4h0M335.0 272.3h0M375.5 257.6h0M584.0 262.8h0M323.3 272.9h0M512.8 253.8h0M465.8 269.3h0M557.3 257.0h0M327.8 248.0h0M575.7 262.6h0M601.9 263.7h0M373.3 274.5h0M578.7 266.4h0M501.2 261.4h0M308.3 258.0h0M390.6 266.7h0M317.9 254.4h0M566.2 267.0h0M309.9 263.8h0M556.6 260.9h0M327.9 262.3h0M562.0 264.1h0M524.4 267.9h0M501.4 266.5h0M324.7 274.4h0M495.3 249.3h0M461.1 268.5h0M354.8 256.2h0M598.0 256.2h0M586.7 267.6h0M471.1 266.2h0M568.0 260.0h0M349.7 261.4h0M287.1 261.1h0M349.9 273.8h0M438.9 249.0h0M565.8 263.5h0M541.8 266.7h0M314.1 268.3h0M534.0 261.0h0M559.3 270.0h0M444.6 261.1h0M411.0 270.4h0M401.4 271.2h0M297.6 244.7h0M320.5 270.4h0M415.4 264.3h0M417.5 262.2h0M424.6 268.7h0M392.5 265.3h0M286.1 269.5h0M290.2 260.3h0M577.3 263.2h0M457.6 267.0h0M402.0 270.5h0M385.4 258.2h0M355.9 252.7h0M425.6 262.4h0M537.3 272.5h0M239.2 252.8h0M581.2 267.9h0M294.7 259.2h0M408.7 270.7h0M537.4 263.6h0M273.0 270.8h0M470.1 265.6h0M453.1 257.2h0M433.4 281.9h0M538.5 261.4h0M271.9 266.1h0M306.3 249.9h0M569.6 264.6h0M583.9 266.5h0M269.7 257.7h0M477.7 278.6h0M259.7 265.8h0M578.2 265.7h0M581.7 268.2h0M485.5 255.6h0M470.5 258.9h0M435.7 252.9h0M536.5 257.8h0M539.7 265.8h0M550.3 278.4h0M541.6 267.7h0M306.5 255.4h0M300.8 272.3h0M487.9 257.3h0M432.3 263.2h0M591.1 263.5h0M243.8 260.6h0M376.2 272.3h0M552.8 267.9h0M393.4 263.1h0M273.5 271.4h0M347.0 258.0h0M588.7 265.3h0M516.1 267.5h0M542.0 268.1h0M321.5 277.3h0M527.9 264.2h0M224.4 258.3h0M305.9 273.0h0M460.7 269.9h0M473.1 264.1h0M395.9 264.1h0M587.5 268.3h0M363.2 259.8h0M326.0 260.5h0M300.1 274.0h0M506.8 265.5h0M533.2 268.6h0M536.4 268.3h0M459.3 267.5h0M235.7 267.4h0M380.2 275.6h0M286.1 267.3h0M330.2 273.3h0M232.9 269.1h0M317.7 245.7h0M436.7 259.7h0M588.7 265.1h0M312.2 254.3h0M331.3 257.9h0M320.0 252.8h0M247.6 263.6h0M438.4 257.8h0M432.6 257.9h0M450.5 262.6h0M589.0 262.3h0M442.0 260.5h0M454.7 266.3h0M561.5 267.1h0M555.3 261.4h0M421.8 273.7h0M453.1 250.2h0M362.2 270.3h0M412.0 261.5h0M406.4 271.0h0M424.4 265.5h0M312.1 255.6h0M451.2 268.3h0M330.5 264.6h0M340.7 266.8h0M339.2 253.8h0M521.2 267.3h0M249.1 253.3h0M601.3 264.6h0M285.2 271.4h0M457.9 251.0h0M310.8 271.1h0M483.1 263.9h0M548.5 268.1h0M387.6 246.7h0M400.9 278.2h0M597.0 272.9h0M446.8 261.2h0M361.8 245.7h0M310.0 261.9h0M545.7 275.4h0M488.6 271.3h0M340.9 252.9h0M415.1 255.2h0M274.8 271.4h0M518.3 262.6h0M565.1 267.4h0M360.9 261.2h0M513.3 264.1h0M461.5 273.9h0M437.0 267.2h0M407.0 267.3h0M433.6 263.3h0M319.5 262.8h0M430.9 261.8h0M368.6 267.4h0M578.0 262.8h0M371.6 268.2h0M417.9 263.0h0M532.8 268.8h0M502.0 266.3h0M460.9 252.0h0M658.8 270.9h0M457.9 277.0h0M489.3 265.7h0M711.7 272.7h0M377.3 267.6h0M548.4 265.1h0M500.4 276.2h0M337.9 289.6h0M401.9 260.7h0M536.4 259.3h0M325.5 259.5h0M442.3 266.8h0M545.6 265.6h0M437.5 271.4h0M484.1 265.1h0M397.7 265.3h0M401.8 260.8h0M402.6 273.5h0M427.0 283.6h0M517.8 268.8h0M466.4 270.9h0M641.5 268.6h0M510.3 262.6h0M485.0 276.3h0M667.0 269.4h0M449.2 264.6h0M384.8 267.6h0M473.5 262.9h0M358.7 262.6h0M507.1 266.0h0M518.3 264.2h0M421.6 273.2h0M446.0 261.5h0M504.0 267.4h0M568.4 272.6h0M422.4 252.7h0M421.0 260.5h0M559.8 273.6h0M479.6 265.0h0M491.3 281.4h0M504.1 263.5h0M388.0 263.5h0M445.8 272.1h0M557.7 261.3h0M441.3 272.9h0M487.3 267.7h0M495.6 265.2h0M694.5 267.1h0M384.9 251.2h0M472.7 259.1h0M646.1 266.3h0M463.0 274.2h0M494.9 268.8h0M325.5 277.6h0M549.8 263.7h0M540.4 263.4h0M535.7 266.7h0M443.2 264.9h0M494.1 268.6h0M453.7 260.2h0M538.6 252.3h0M532.7 265.9h0M336.5 267.3h0M429.6 264.0h0M446.3 261.7h0M436.2 281.1h0M677.3 267.7h0M368.3 260.0h0M428.7 263.8h0M374.5 253.4h0M413.5 271.4h0M416.6 270.3h0M323.7 279.2h0M369.5 255.3h0M647.6 263.3h0M435.7 273.5h0M544.2 262.0h0M342.5 263.2h0M449.2 271.5h0M509.5 266.3h0M443.9 267.6h0M412.4 268.9h0M442.4 271.1h0M462.5 256.4h0M536.8 259.4h0M571.3 265.0h0M337.8 254.4h0M269.5 286.6h0M441.9 255.7h0M460.0 268.5h0M525.9 260.7h0M558.3 263.7h0M398.1 263.6h0M650.3 261.7h0M483.4 275.4h0M296.1 248.6h0M548.4 262.4h0M485.3 267.2h0M486.2 267.2h0M312.4 265.9h0M431.5 263.9h0M474.3 267.8h0M445.4 255.1h0M523.2 263.2h0M575.9 266.2h0M600.7 260.5h0M575.4 266.4h0M446.0 269.2h0M618.7 262.6h0M483.8 268.8h0M538.7 271.3h0M437.2 265.4h0M330.6 276.1h0M249.8 278.6h0M476.9 262.1h0M397.0 264.6h0M459.0 269.2h0M542.4 265.7h0M318.2 251.5h0M296.6 266.6h0M483.7 258.7h0M493.5 263.3h0M434.4 281.3h0M411.1 265.3h0M312.3 263.8h0M451.7 264.3h0M390.9 257.2h0M499.6 270.4h0M547.3 268.4h0M408.2 274.1h0M476.8 258.0h0M524.4 273.1h0M601.5 265.3h0M520.7 256.6h0M525.4 260.3h0M533.1 264.4h0M420.2 268.4h0M459.0 265.1h0M491.6 266.8h0M574.3 273.9h0M579.4 273.9h0M669.9 268.6h0M358.6 259.5h0M455.8 268.2h0M299.8 276.6h0M409.9 264.2h0M307.5 268.6h0M567.6 262.0h0M529.5 264.2h0M360.2 266.5h0M490.7 267.9h0M527.9 264.9h0M620.5 268.1h0M536.4 274.5h0M471.3 259.8h0M451.1 261.3h0M517.5 260.2h0M487.8 265.5h0M415.4 267.2h0M346.7 275.6h0M557.3 265.8h0M392.9 264.8h0M434.6 267.5h0M533.6 266.1h0M454.5 266.1h0M564.5 269.4h0M355.8 262.1h0M530.2 269.2h0M336.7 265.3h0M363.1 270.3h0M470.5 270.0h0M397.1 260.2h0M331.9 249.2h0M570.8 255.1h0M370.6 262.0h0M449.1 268.1h0M483.1 268.5h0M415.6 275.8h0M493.1 258.9h0M516.9 265.5h0M450.2 264.2h0M555.9 269.6h0M404.8 273.1h0M361.6 268.5h0M478.4 280.0h0M370.0 285.5h0M494.5 260.3h0M450.2 269.4h0M416.2 277.7h0M513.2 269.4h0M509.1 256.4h0M430.0 265.7h0M472.4 271.8h0M504.8 258.7h0M409.0 257.6h0M353.2 259.6h0M471.0 258.3h0M522.6 266.1h0M320.3 285.6h0M404.1 256.4h0M535.6 263.0h0M472.2 262.1h0M377.1 266.4h0M498.5 278.4h0M519.6 272.6h0M580.2 263.4h0M466.3 260.0h0M556.8 264.3h0M496.4 264.7h0M403.7 265.2h0M475.0 257.5h0M686.3 275.6h0M539.8 265.9h0M382.9 261.2h0M486.6 268.1h0M407.9 260.7h0M445.8 264.8h0M319.6 245.7h0M479.5 261.8h0M315.2 275.4h0M493.5 270.4h0M493.9 269.6h0M537.7 258.2h0M666.0 260.7h0M305.5 263.2h0M348.3 260.7h0M366.5 280.3h0M406.5 272.2h0M540.9 262.3h0M427.9 272.2h0M404.8 265.2h0M354.3 257.0h0M400.6 267.6h0M418.4 264.1h0M449.4 264.5h0M326.1 268.6h0M451.9 263.0h0M511.7 263.5h0M491.3 273.6h0M343.2 262.8h0M535.2 265.4h0M533.7 261.1h0M486.8 262.2h0M345.1 267.2h0M322.3 258.5h0M462.8 264.8h0M363.6 268.4h0M334.8 253.6h0M542.0 268.3h0M543.8 264.1h0M518.8 269.6h0M580.8 261.6h0M542.9 269.5h0M351.5 273.4h0M565.7 262.3h0M470.3 268.2h0M500.2 270.9h0M604.9 261.8h0M500.3 272.5h0M605.5 267.4h0M464.4 261.6h0M423.7 258.6h0M393.5 264.3h0M446.6 257.5h0M302.8 269.8h0M453.4 262.0h0M448.0 272.6h0M409.5 245.0h0M251.6 273.2h0M259.4 247.7h0M524.8 271.3h0M370.1 263.2h0M586.7 270.7h0M392.7 273.9h0M492.7 260.5h0M324.8 284.8h0M399.9 259.4h0M438.7 265.8h0M513.2 264.2h0M615.8 264.6h0M548.9 271.8h0M324.2 266.1h0M459.9 259.1h0M443.7 258.0h0M400.0 272.7h0M514.0 257.3h0M606.2 265.2h0M563.3 264.2h0M589.3 267.3h0M360.4 260.0h0M624.5 262.9h0M616.4 269.5h0M486.9 263.5h0M618.5 271.9h0M482.8 258.9h0M566.7 272.5h0M483.8 268.7h0M443.8 266.7h0M413.4 265.6h0M352.0 270.0h0M386.7 271.6h0M344.6 245.1h0M565.3 265.8h0M276.9 269.7h0M466.6 258.8h0M402.4 275.6h0M343.0 267.2h0M526.9 257.3h0M385.1 263.9h0M571.8 262.5h0M442.7 248.7h0M490.4 266.7h0M546.8 265.3h0M417.5 257.1h0M458.5 281.7h0M405.9 267.7h0M627.9 256.7h0M422.7 263.1h0M407.4 259.2h0M302.2 286.4h0M380.4 264.9h0M297.1 273.6h0M523.8 269.7h0M453.7 271.9h0M403.2 264.9h0M363.7 265.3h0M395.3 268.8h0M323.9 270.1h0M640.6 263.2h0M481.7 261.0h0M374.0 251.4h0M521.8 267.5h0M599.0 265.5h0M399.9 268.4h0M449.3 272.2h0M342.4 266.6h0M310.8 279.4h0M587.7 258.2h0M778.2 272.7h0M390.4 264.8h0M308.0 251.3h0M591.4 271.5h0M503.6 264.5h0M596.4 263.0h0M427.8 261.4h0M485.1 260.2h0M532.9 276.0h0M430.1 248.9h0M503.7 262.1h0M437.1 262.9h0M501.6 254.9h0M474.3 261.7h0M274.9 260.0h0M467.6 269.0h0M326.0 262.2h0M379.8 271.8h0M304.2 275.1h0M428.5 271.1h0M423.1 256.7h0M575.1 262.7h0M525.3 262.2h0M439.1 270.9h0M265.4 284.2h0M520.4 266.0h0M434.4 261.8h0M425.1 278.2h0M527.4 267.6h0M400.3 262.0h0M451.3 259.5h0M541.7 269.5h0M512.2 263.9h0M401.8 282.7h0M594.3 262.5h0M566.0 256.9h0M454.1 268.3h0M479.1 262.6h0M557.2 265.0h0M500.2 271.1h0M472.2 264.6h0M449.8 265.9h0M431.2 267.3h0M398.7 266.4h0M399.4 260.3h0M497.2 261.0h0M431.0 267.7h0M328.1 266.9h0M464.4 250.3h0M613.7 263.0h0M586.0 264.8h0M272.5 288.9h0M380.8 275.8h0M531.8 269.4h0M466.9 269.5h0M466.1 254.3h0M447.5 263.8h0M465.1 266.5h0M365.0 267.1h0M569.6 266.7h0M362.7 266.6h0M446.4 259.5h0M602.3 258.4h0M560.6 274.0h0M459.1 272.1h0M459.1 262.4h0M404.3 270.5h0M413.4 261.2h0M437.9 266.5h0M419.8 279.7h0M512.5 278.3h0M500.0 267.4h0M497.8 271.0h0M434.3 262.2h0M528.5 264.3h0M475.3 267.4h0M469.6 267.0h0M261.3 287.9h0M528.4 256.3h0M531.0 272.5h0M414.3 273.1h0M444.6 259.2h0M487.7 267.8h0M371.0 260.0h0M526.8 270.3h0M527.3 266.9h0M540.4 266.0h0M546.8 276.0h0M285.6 266.2h0M510.0 265.2h0M420.9 262.1h0M564.6 265.3h0M559.7 262.0h0M537.3 263.5h0M454.1 264.0h0M720.9 274.0h0M457.0 277.3h0M365.5 274.0h0M551.9 263.8h0M328.3 273.3h0M640.1 265.6h0M556.3 257.1h0M585.2 261.7h0M559.4 266.3h0M500.1 263.2h0M341.0 276.1h0M515.2 274.1h0M444.5 270.9h0M497.5 266.3h0M400.2 258.1h0M390.6 257.1h0M490.9 268.7h0M531.7 264.8h0M463.7 256.2h0M373.2 268.6h0M309.7 263.8h0M649.9 270.0h0M357.8 265.0h0M382.5 273.5h0M395.7 248.1h0M545.3 263.4h0M392.8 263.5h0M513.1 261.9h0M489.7 260.7h0M356.9 283.7h0M476.9 273.8h0M447.1 271.9h0M530.2 265.2h0M440.0 269.7h0M377.6 267.5h0M422.9 274.6h0M444.2 266.9h0M492.1 265.4h0M249.5 245.1h0M290.7 275.5h0M505.8 256.9h0M449.5 266.3h0M461.2 275.0h0M479.6 269.1h0M444.8 279.5h0M417.9 257.3h0M469.6 263.5h0M520.8 264.6h0M490.6 277.1h0M461.0 269.7h0M363.1 269.1h0M480.7 255.1h0M352.4 255.0h0M397.0 268.9h0M472.6 266.9h0M469.6 265.2h0M559.5 265.5h0M540.0 270.5h0M503.8 263.6h0M429.0 266.3h0M457.6 268.5h0M436.5 268.4h0M618.4 261.6h0M501.2 265.0h0M399.1 262.8h0M381.2 268.3h0M573.1 271.5h0M379.0 259.8h0M492.8 259.3h0M475.5 273.3h0M557.1 260.2h0M378.6 254.6h0M501.7 272.5h0M477.9 265.6h0M532.6 270.6h0M584.4 265.6h0M468.8 264.0h0M438.8 268.2h0M540.2 267.6h0M330.0 255.0h0M476.9 265.0h0M307.6 270.8h0M536.0 261.9h0M540.0 272.2h0M469.4 265.3h0M555.0 265.7h0M462.7 266.9h0M414.5 264.2h0M360.7 266.6h0M530.7 262.5h0M535.0 261.1h0M576.2 263.2h0M386.8 257.4h0M336.3 263.7h0M565.6 266.8h0M525.6 272.0h0M459.1 273.2h0M447.1 260.8h0M427.2 262.8h0M561.1 259.7h0M402.7 257.5h0M542.6 266.8h0M487.3 278.1h0M389.1 267.0h0M457.6 263.1h0M342.3 265.4h0M518.7 263.3h0M565.7 266.2h0M511.1 276.6h0M305.5 271.5h0M245.0 280.8h0M541.1 266.4h0M598.2 259.4h0M424.4 265.2h0M509.2 262.7h0M436.3 266.8h0M402.4 244.7h0M552.6 265.4h0M410.5 258.8h0M539.5 266.8h0M619.8 265.1h0M449.9 275.6h0M633.7 269.8h0M340.2 250.4h0M545.8 270.4h0M462.0 252.8h0M697.8 264.8h0M465.1 266.7h0M387.9 274.2h0M611.2 264.9h0M319.8 278.4h0M390.7 266.9h0M588.8 262.6h0M451.6 270.0h0M540.5 265.8h0M457.6 263.5h0M359.2 250.6h0M261.9 266.5h0M626.4 271.9h0M482.6 264.0h0M354.4 274.8h0M432.0 265.5h0M552.4 266.4h0M323.0 255.6h0M671.0 265.8h0M437.8 281.0h0M426.9 255.5h0M579.8 263.0h0M480.2 267.2h0M367.9 258.4h0M545.7 261.1h0M502.4 276.1h0M565.0 260.8h0M375.1 250.5h0M356.1 248.6h0M518.5 265.6h0M420.0 256.6h0M260.5 265.9h0M405.9 259.1h0M518.3 268.5h0M392.8 285.6h0M578.7 259.9h0M413.3 261.6h0M450.9 267.3h0M309.2 265.7h0M385.5 252.6h0M442.3 262.2h0M513.3 271.0h0M477.0 252.8h0M558.1 264.8h0M257.5 264.0h0M461.7 269.8h0M445.9 267.6h0M362.4 261.9h0M455.5 260.1h0M390.1 247.8h0M499.1 269.8h0M427.2 262.4h0M506.3 261.5h0M374.8 271.9h0M577.3 278.0h0M496.3 274.4h0M625.1 265.2h0M446.8 256.1h0M412.7 256.1h0M472.0 266.5h0M415.9 263.7h0M362.6 263.5h0M460.7 269.9h0M453.2 260.6h0M398.8 259.0h0M423.6 273.0h0M368.7 252.8h0M472.8 266.8h0M334.2 263.2h0M617.3 256.2h0M462.2 267.3h0M547.2 262.1h0M347.4 268.1h0M491.4 270.4h0M447.0 257.3h0M550.9 265.7h0M540.6 266.3h0M306.7 293.8h0M320.2 268.3h0M584.3 262.6h0M454.4 267.3h0M347.8 252.1h0M525.2 264.5h0M463.0 263.4h0M366.9 279.7h0M390.4 272.6h0M503.9 265.1h0M331.5 273.1h0M378.9 260.5h0M632.3 265.1h0M387.7 268.0h0M493.9 263.5h0M501.1 274.9h0M549.1 271.5h0M541.5 261.0h0M223.6 268.1h0M414.1 261.7h0M570.0 264.2h0M385.5 266.9h0M629.7 267.2h0M482.7 263.5h0M345.3 271.3h0M512.4 266.6h0M641.4 269.2h0M396.8 262.1h0M511.8 271.8h0M376.9 265.5h0M404.8 263.0h0M470.3 265.3h0M507.6 271.2h0M492.6 264.6h0M479.4 261.6h0M685.0 271.1h0M358.3 267.5h0M285.5 237.4h0M512.1 264.5h0M477.3 264.9h0M325.2 267.8h0M621.3 265.3h0M394.1 264.6h0M327.7 253.8h0M499.3 263.4h0M519.9 269.4h0M680.6 271.0h0M315.9 270.5h0M340.3 260.7h0M434.1 261.5h0M418.7 263.8h0M452.9 276.6h0M393.3 265.9h0M313.7 268.1h0M417.9 261.1h0M526.3 259.3h0M534.0 261.9h0M398.2 262.0h0M510.4 264.6h0M498.7 257.3h0M413.6 266.8h0M427.0 255.7h0M464.3 265.4h0M722.5 272.5h0M475.5 264.9h0M376.5 270.3h0M445.0 265.6h0M567.0 258.4h0M257.1 277.4h0M538.1 273.2h0M499.4 260.4h0M462.8 258.3h0M527.8 274.4h0M335.3 265.8h0M494.5 263.3h0M353.0 244.8h0M339.5 256.9h0M507.1 253.3h0M385.2 266.5h0M426.6 274.8h0M519.1 256.7h0M362.0 257.3h0M517.7 257.7h0M671.7 275.7h0M441.7 265.9h0M550.8 266.2h0M533.1 271.0h0M341.3 258.6h0M331.9 259.5h0M460.9 274.8h0M259.8 270.4h0M464.7 275.8h0M485.0 266.5h0M504.8 258.0h0M503.1 271.2h0M586.3 263.3h0M429.5 268.8h0M588.0 261.3h0M510.9 274.5h0M510.8 263.6h0M446.5 260.4h0M551.2 261.0h0M390.4 264.4h0M529.6 266.4h0M566.5 262.1h0M398.3 266.8h0M371.7 272.5h0M390.0 269.8h0M457.6 260.2h0M495.6 278.2h0M614.4 264.1h0M487.3 265.6h0M425.0 256.2h0M347.9 267.6h0M539.2 272.9h0M510.3 266.9h0M435.2 264.1h0M446.0 266.6h0M450.5 270.7h0M456.2 266.1h0M492.3 267.9h0M449.8 261.9h0M361.3 272.2h0M465.9 265.8h0M506.7 264.4h0M631.2 270.9h0M561.4 265.1h0M517.4 271.4h0M456.6 267.5h0M335.4 255.2h0M417.3 256.1h0M332.7 253.4h0M451.8 262.2h0M562.0 272.2h0M560.3 270.4h0M546.9 265.0h0M463.6 274.9h0M555.0 259.5h0M435.9 262.1h0M277.0 264.5h0M474.5 263.8h0M465.2 268.7h0M297.3 276.2h0M411.6 260.7h0M230.9 260.4h0M416.6 265.5h0M575.6 267.4h0M400.7 262.9h0M585.4 269.5h0M483.0 266.0h0M391.7 271.1h0M294.1 282.7h0M532.3 263.4h0M524.3 258.3h0M321.4 253.1h0M421.7 265.0h0M565.9 273.9h0M391.1 259.1h0M498.7 257.5h0M277.6 270.1h0M374.5 268.4h0M529.9 262.6h0M349.9 249.9h0M325.5 272.3h0M330.2 251.4h0M425.8 267.8h0M312.8 247.6h0M450.8 255.9h0M514.0 261.1h0M605.9 266.2h0M423.7 268.3h0M613.6 261.4h0M514.3 269.9h0M440.5 259.8h0M510.4 257.4h0M604.6 267.0h0M602.4 266.0h0M532.7 267.7h0M452.7 266.5h0M539.9 271.1h0M481.8 265.2h0M477.3 262.8h0M485.9 250.9h0M632.5 262.3h0M454.2 264.4h0M358.5 262.2h0M543.0 259.6h0M566.3 269.3h0M589.2 266.2h0M428.1 277.0h0M466.6 251.8h0M534.1 262.4h0M478.9 267.7h0M489.3 262.0h0M480.4 261.4h0M487.5 267.5h0M451.0 265.5h0M503.4 267.5h0M324.1 261.9h0M422.4 262.9h0M336.7 269.1h0M453.7 265.3h0M393.0 267.7h0M512.5 267.6h0M580.7 260.2h0M345.1 263.4h0M388.6 245.7h0M597.9 269.4h0M503.9 261.9h0M456.7 250.7h0M498.4 265.2h0M509.3 272.3h0M477.3 259.2h0M407.3 252.3h0M311.0 264.6h0M382.0 265.3h0M426.7 256.1h0M352.7 281.4h0M492.5 269.0h0M328.1 245.9h0M433.3 270.5h0M494.9 267.6h0M538.6 264.3h0M484.8 267.5h0M575.5 261.8h0M406.1 255.4h0M389.0 264.5h0M564.4 261.3h0M379.2 286.1h0M447.2 261.8h0M298.9 273.1h0M567.4 265.3h0M529.3 269.7h0M391.2 276.3h0M297.5 250.7h0M485.6 262.4h0M487.3 257.0h0M571.4 268.3h0M635.9 270.8h0M483.8 268.8h0M441.2 266.9h0M439.4 270.3h0M433.3 270.0h0M332.9 260.9h0M377.2 264.4h0M453.3 265.3h0M306.9 252.9h0M338.0 273.7h0M576.0 267.1h0M398.2 259.3h0M536.6 267.6h0M564.6 262.8h0M462.3 259.6h0M539.4 265.5h0M379.4 267.8h0M451.3 267.9h0M468.1 260.9h0M473.0 268.3h0M468.4 260.8h0M424.5 269.5h0M561.4 256.1h0M443.1 263.2h0M422.9 273.8h0M548.9 275.2h0M368.2 277.6h0M461.6 269.2h0M600.3 263.9h0M468.1 273.1h0M595.3 261.3h0M438.2 280.7h0M414.7 280.1h0M447.4 258.9h0M410.2 267.6h0M429.2 265.0h0M421.6 280.7h0M537.7 262.9h0M500.2 267.4h0M443.2 257.2h0M392.8 265.8h0M763.1 274.3h0M444.2 256.7h0M594.2 261.6h0M352.8 269.5h0M393.9 267.9h0M577.8 261.1h0M360.3 265.5h0M363.0 258.7h0M457.8 264.8h0M394.8 245.8h0M435.7 284.5h0M477.5 257.7h0M544.3 261.1h0M480.2 260.4h0M490.6 260.7h0M586.9 266.6h0M595.4 264.1h0M430.1 254.7h0M289.8 260.2h0M368.9 266.0h0M563.3 264.3h0M397.1 265.3h0M421.1 271.9h0M612.1 263.9h0M468.7 277.2h0M428.2 255.0h0M397.9 258.3h0M360.8 265.4h0M727.1 273.6h0M459.7 267.1h0M477.5 257.7h0M433.8 270.8h0M563.3 260.1h0M369.3 257.7h0M284.0 267.3h0M409.6 260.0h0M494.9 272.8h0M675.0 263.1h0M456.5 266.1h0M383.0 273.8h0M442.3 252.1h0M390.5 265.0h0M390.1 257.9h0M472.1 269.0h0M491.2 260.6h0M401.9 270.7h0M566.4 266.7h0M474.4 265.8h0M415.5 265.6h0M498.2 265.2h0M502.2 276.0h0M525.9 258.0h0M387.5 259.4h0M523.1 263.7h0M410.7 267.2h0M473.2 271.1h0M533.8 264.3h0M605.9 266.3h0M422.2 258.9h0M360.4 268.7h0M477.4 257.8h0M578.7 268.6h0M433.5 260.8h0M691.9 268.2h0M287.8 263.2h0M605.2 262.5h0M573.7 264.7h0M568.6 262.6h0M386.7 262.8h0M591.8 265.6h0M574.2 265.8h0M581.7 264.0h0M443.5 263.3h0M442.0 263.8h0M586.1 266.3h0M497.3 260.5h0M430.9 266.6h0M386.6 267.9h0M489.4 257.9h0M337.7 275.7h0M518.8 274.9h0M479.4 271.3h0M319.2 241.9h0M507.2 265.7h0M577.4 271.4h0M488.0 272.5h0M340.1 242.5h0M407.8 280.6h0M543.1 269.0h0M342.8 266.2h0M429.5 257.9h0M571.8 276.8h0M437.8 265.2h0M410.0 258.0h0M540.0 265.6h0M615.4 264.0h0M501.6 263.8h0M339.8 262.9h0M313.2 266.0h0M440.6 282.4h0M294.9 285.5h0M456.2 271.4h0M549.4 267.7h0M447.5 270.7h0M494.5 260.9h0M413.4 263.9h0M500.8 266.6h0M510.9 262.2h0M562.6 266.8h0M717.5 271.2h0M494.1 261.5h0M379.7 258.9h0M367.8 263.5h0M348.0 272.2h0M530.7 269.2h0M495.9 265.8h0M507.6 270.1h0M482.6 268.8h0M566.6 264.7h0M559.0 271.1h0M400.1 250.2h0M433.6 269.6h0M341.5 271.3h0M402.7 264.6h0M472.1 254.2h0M348.9 275.9h0M403.9 248.8h0M446.5 261.4h0M322.8 259.9h0M346.7 280.2h0M455.6 272.8h0M543.0 260.7h0M455.5 257.5h0M545.2 263.9h0M493.2 257.4h0M359.3 254.1h0M560.8 271.1h0M421.3 264.5h0M640.8 262.1h0M408.6 269.4h0M450.5 255.4h0M412.8 270.7h0M438.8 250.2h0M506.9 259.7h0M446.4 269.6h0M575.3 262.0h0M504.1 267.8h0M612.7 268.1h0M470.8 263.0h0M585.6 267.6h0M577.3 262.1h0M451.0 253.5h0M702.8 265.8h0M606.7 267.7h0M515.9 270.5h0M446.3 260.8h0M457.4 247.3h0M449.1 263.2h0M491.9 268.4h0M359.0 289.5h0M470.7 261.9h0M408.8 276.1h0M621.7 260.9h0M537.5 258.5h0M622.3 261.4h0M689.3 269.2h0M510.7 266.6h0M655.0 266.4h0M501.5 269.5h0M525.4 257.5h0M377.5 247.3h0M474.2 261.9h0M600.6 265.7h0M513.0 263.7h0M431.3 275.2h0M467.2 264.0h0M397.5 265.8h0M403.6 270.4h0M331.9 273.7h0M570.6 273.0h0M569.2 264.7h0M456.4 266.3h0M340.9 267.5h0M444.3 272.1h0M655.0 260.8h0M342.2 267.3h0M419.4 271.8h0M422.5 268.3h0M541.6 272.2h0M347.7 268.1h0M491.4 270.9h0M389.6 264.7h0M433.3 265.4h0M352.8 256.1h0M516.1 267.0h0M420.6 267.7h0M411.3 256.6h0M569.5 268.7h0M499.3 269.7h0M688.1 272.3h0M506.4 263.1h0M474.9 275.5h0M478.8 266.7h0M724.9 267.5h0M584.1 268.3h0M440.7 282.1h0M497.2 271.3h0M418.9 283.6h0M529.5 260.8h0M420.3 264.0h0M508.8 260.4h0M594.2 259.9h0M547.4 262.0h0M537.4 269.4h0M471.3 273.2h0M241.1 248.6h0M451.5 249.8h0M447.5 259.2h0M517.0 273.8h0M631.3 268.1h0M303.5 267.2h0M468.9 254.8h0M534.0 257.8h0M460.7 251.9h0M287.0 259.3h0M381.3 247.8h0M436.0 263.3h0M273.9 280.8h0M454.2 265.5h0M438.8 256.0h0M566.1 260.9h0M454.4 267.1h0M406.7 264.0h0M453.3 266.6h0M466.7 267.7h0M556.2 265.5h0M375.1 259.4h0M252.9 280.6h0M723.7 269.1h0M535.8 266.6h0M468.3 273.3h0M389.8 248.6h0M422.9 266.9h0M510.1 258.7h0M420.8 266.2h0M537.6 265.5h0M430.9 272.1h0M586.3 264.5h0M507.7 264.7h0M307.7 270.7h0M460.7 269.0h0M356.2 263.0h0M450.6 270.0h0M463.4 254.0h0M674.7 270.1h0M441.2 262.5h0M311.3 279.4h0M473.3 268.0h0M353.2 259.7h0M635.6 262.5h0M529.8 268.3h0M611.3 263.8h0M425.1 263.5h0M364.1 243.7h0M490.2 261.2h0M332.6 263.3h0M371.2 257.5h0M390.7 268.5h0M448.7 259.8h0M318.4 269.9h0M267.3 253.3h0M597.5 274.5h0M410.9 272.4h0M444.9 263.0h0M518.6 251.2h0M503.9 268.3h0M400.4 265.6h0M420.2 273.7h0M615.2 265.8h0M581.7 267.9h0M533.6 266.0h0M620.5 265.5h0M284.5 274.1h0M475.8 259.9h0M437.0 266.0h0M281.3 285.4h0M495.8 261.6h0M525.0 267.9h0M488.5 276.6h0M292.5 258.3h0M443.4 257.3h0M484.3 264.1h0M441.5 265.7h0M490.9 260.3h0M511.7 262.4h0M599.2 267.4h0M486.8 266.7h0M714.7 271.3h0M485.5 268.2h0M492.1 255.8h0M539.1 272.3h0M458.2 264.6h0M434.5 253.7h0M583.0 263.5h0M262.4 267.3h0M297.4 258.4h0M662.7 269.6h0M535.5 260.2h0M517.1 264.6h0M494.6 267.3h0M492.6 264.3h0M376.0 269.1h0M438.9 262.6h0M368.6 261.0h0M575.5 267.4h0M526.6 255.9h0M489.0 265.5h0M503.2 266.8h0M453.7 270.9h0M357.0 269.0h0M628.3 257.5h0M528.2 262.9h0M450.1 260.4h0M522.7 267.0h0M587.3 264.8h0M578.7 271.9h0M529.5 261.1h0M545.2 269.0h0M445.1 252.8h0M595.3 269.2h0M557.0 264.3h0M343.6 269.5h0M528.0 265.7h0M530.4 271.6h0M543.0 266.8h0M288.8 237.1h0M492.9 254.4h0M376.1 257.8h0M502.6 266.9h0M457.1 259.9h0M547.5 276.3h0M412.1 271.0h0M363.9 270.0h0M514.8 275.7h0M438.5 267.7h0M352.8 278.6h0M275.9 257.2h0M429.9 274.4h0M441.1 266.1h0M276.9 257.9h0M366.8 257.5h0M448.6 261.6h0M494.9 269.5h0M537.9 262.4h0M392.2 246.9h0M509.6 265.1h0M573.4 264.0h0M414.6 263.8h0M456.8 260.8h0M291.2 269.4h0M385.3 287.7h0M331.3 264.4h0M527.2 266.1h0M445.9 257.9h0M615.3 265.9h0M481.3 270.4h0M539.8 264.9h0M512.6 267.9h0M482.9 262.4h0M360.9 274.5h0M621.7 263.6h0M454.8 257.7h0M287.2 275.0h0M408.2 262.7h0M357.8 278.5h0M576.3 267.0h0M564.0 266.3h0M610.3 265.8h0M673.1 268.0h0M401.3 260.5h0M282.3 266.5h0M373.2 265.9h0M502.8 249.8h0M405.7 270.7h0M544.6 264.3h0M451.9 258.1h0M376.1 284.9h0M631.6 269.9h0M651.2 264.8h0M365.7 266.4h0M382.1 281.2h0M476.5 273.9h0M531.4 264.9h0M506.4 263.3h0M528.9 276.5h0M562.1 263.8h0M584.5 268.0h0M650.4 266.9h0M487.7 274.2h0M426.0 266.8h0M465.0 263.8h0M688.1 267.1h0M554.4 255.8h0M542.8 270.3h0M604.2 266.8h0M593.8 267.1h0M702.7 268.4h0M396.9 258.6h0M494.5 261.0h0M547.9 262.7h0M554.2 262.7h0M437.4 266.0h0M317.4 287.6h0M447.9 267.8h0M407.1 262.7h0M463.6 262.6h0M580.2 264.6h0M541.2 259.1h0M362.6 259.6h0M400.4 268.9h0M582.7 262.4h0M466.1 261.0h0M493.2 265.7h0M325.2 243.3h0M423.9 263.5h0M394.1 271.3h0M489.7 255.8h0M443.7 271.3h0M384.4 263.9h0M363.7 254.4h0M488.6 252.3h0M404.7 269.1h0M577.4 272.0h0M481.8 264.0h0M440.9 264.9h0M554.4 271.0h0M350.6 263.5h0M554.4 264.8h0M396.2 272.2h0M535.8 259.4h0M399.5 259.5h0M373.5 264.9h0M286.6 253.0h0M468.7 259.2h0M511.1 259.3h0M329.1 265.7h0M635.4 271.1h0M462.3 269.4h0M354.7 272.0h0M652.6 267.7h0M424.2 263.5h0M604.5 270.2h0M671.2 262.8h0M481.5 253.9h0M462.7 261.4h0M494.0 263.1h0M351.4 258.5h0M552.2 267.2h0M505.2 257.1h0M493.7 270.0h0M407.8 259.6h0M350.3 269.1h0M497.3 260.0h0M541.5 270.3h0M475.8 258.1h0M443.0 270.4h0M412.0 256.7h0M531.1 257.8h0M602.0 261.7h0M447.4 262.1h0M379.9 278.8h0M699.3 271.9h0M312.3 271.8h0M486.8 275.6h0M452.1 261.5h0M588.1 260.9h0M448.7 257.5h0M302.1 237.7h0M352.8 258.3h0M472.3 265.9h0M459.7 267.5h0M398.2 257.7h0M408.0 252.7h0M311.8 262.5h0M319.5 259.1h0M401.5 270.8h0M395.7 261.6h0M448.3 262.0h0M348.8 260.1h0M612.2 260.2h0M293.7 267.5h0M545.7 265.0h0M515.3 257.8h0M614.9 261.3h0M595.9 267.2h0M336.6 290.4h0M497.6 268.3h0M536.9 262.0h0M554.4 267.8h0M513.6 263.6h0M409.7 249.4h0M588.4 266.2h0M453.3 258.4h0M418.1 276.2h0M482.8 261.0h0M422.3 262.7h0M401.2 252.7h0M476.9 258.3h0M717.4 271.7h0M496.3 267.3h0M473.4 273.7h0M422.7 269.3h0M499.3 265.5h0M352.7 258.2h0M512.4 261.5h0M491.7 264.9h0M474.4 276.6h0M511.5 269.8h0M447.1 261.1h0M529.5 266.2h0M517.4 258.6h0M519.4 258.3h0M466.3 272.2h0M550.3 258.7h0M448.6 267.7h0M589.1 274.9h0M455.4 259.6h0M588.1 262.8h0M490.4 263.7h0M463.2 263.6h0M370.1 264.9h0M526.5 275.8h0M500.5 256.6h0M470.8 260.8h0M505.3 268.0h0M479.0 256.6h0M378.8 261.3h0M354.1 261.7h0M526.6 275.9h0M483.7 263.7h0M611.7 267.8h0M658.6 274.1h0M545.5 264.1h0M527.6 263.6h0M520.6 263.7h0M476.5 261.3h0M405.6 253.0h0M539.5 255.4h0M522.8 265.3h0M469.9 270.6h0M479.0 268.4h0M559.4 268.0h0M554.2 261.3h0M485.1 281.5h0M443.0 264.4h0M524.1 269.8h0M543.1 265.5h0M677.6 269.7h0M379.9 276.4h0M514.2 263.3h0M382.6 270.6h0M423.3 281.2h0M690.8 267.3h0M427.1 260.4h0M454.7 269.6h0M411.5 270.5h0M549.0 266.0h0M426.5 269.1h0M307.4 266.7h0M480.0 269.3h0M545.4 256.5h0M464.0 258.5h0M481.3 255.6h0M399.5 265.2h0M376.4 259.6h0M466.4 270.5h0M357.3 255.4h0M423.4 257.1h0M370.9 249.3h0M442.9 254.6h0M541.2 261.8h0M461.8 264.3h0M573.4 265.4h0M499.8 266.9h0M452.3 266.1h0M378.0 273.2h0M474.3 261.7h0M353.2 264.4h0M536.7 268.9h0M335.6 262.9h0M330.9 271.0h0M382.1 265.0h0M303.7 275.2h0M473.8 254.4h0M389.7 259.1h0M419.4 264.1h0M252.2 273.0h0M439.7 266.3h0M497.4 267.0h0M560.9 262.4h0M476.0 264.5h0M399.2 255.9h0M552.6 258.5h0M675.1 261.9h0M669.1 268.9h0M443.7 252.6h0M594.5 265.1h0M483.6 263.1h0M366.1 264.2h0M531.0 277.8h0M588.5 261.1h0M238.8 261.3h0M590.8 259.0h0M384.2 264.3h0M617.3 264.9h0M486.1 265.7h0M477.9 266.6h0M597.0 263.5h0M431.7 269.0h0M663.4 271.3h0M371.5 265.6h0M405.9 271.9h0M359.4 268.7h0M514.7 259.2h0M456.2 267.9h0M539.3 264.1h0M567.5 259.4h0M538.7 273.6h0M565.8 264.9h0M566.7 259.8h0M454.1 262.0h0M391.5 251.8h0M368.0 251.8h0M533.1 258.0h0M410.7 281.8h0M368.6 253.0h0M440.0 263.3h0M482.6 266.2h0M436.3 263.6h0M362.0 263.3h0M511.6 263.1h0M246.6 303.5h0M428.4 265.0h0M558.1 267.6h0M484.0 262.0h0M571.9 264.2h0M468.1 263.9h0M513.2 266.0h0M461.9 258.0h0M416.6 261.3h0M493.5 266.6h0M549.9 273.5h0M268.9 271.8h0M379.0 263.6h0M256.1 247.6h0M366.6 263.8h0M332.8 270.2h0M409.0 263.4h0M426.3 269.9h0M545.5 265.8h0M571.5 262.9h0M377.1 261.5h0M406.4 272.5h0M512.9 258.5h0M391.9 268.5h0M414.5 270.9h0M276.6 269.4h0M522.5 273.3h0M477.9 272.1h0M361.4 258.7h0M326.9 269.2h0M351.5 252.8h0M494.6 262.8h0M406.7 262.8h0M336.6 269.0h0M421.8 276.9h0M534.7 267.6h0M572.4 266.3h0M581.3 269.3h0M466.3 262.3h0M479.4 254.7h0M483.1 262.3h0M519.0 275.2h0M511.9 274.5h0M364.3 260.2h0M386.0 259.4h0M419.4 269.6h0M523.2 264.6h0M407.6 255.2h0M383.1 260.6h0M553.2 261.5h0M594.9 263.9h0M370.0 268.1h0M566.0 256.0h0M418.4 256.7h0M321.8 246.3h0M435.5 266.2h0M601.8 263.9h0M546.6 267.1h0M302.5 271.8h0M373.7 277.0h0M534.8 259.4h0M525.3 264.3h0M559.2 267.7h0M521.6 271.6h0M401.6 261.5h0M420.1 259.6h0M371.4 265.3h0M534.9 278.4h0M336.2 268.7h0M461.8 267.3h0M479.2 263.1h0M572.7 265.6h0M383.3 270.1h0M493.7 260.1h0M360.8 265.5h0M553.2 263.1h0M421.3 275.1h0M426.6 250.0h0M365.5 259.0h0M398.2 260.5h0M394.3 262.4h0M397.9 269.6h0M565.8 265.0h0M362.1 258.1h0M478.9 269.1h0M535.2 264.7h0M348.3 257.8h0M500.5 265.3h0M299.4 269.1h0M382.2 255.5h0M446.6 258.0h0M481.9 262.1h0M430.5 267.1h0M389.2 264.8h0M549.9 271.3h0M477.1 259.1h0M638.0 276.5h0M370.5 262.1h0M447.4 272.3h0M451.9 272.8h0M507.1 268.5h0M477.9 261.2h0M458.5 271.6h0M441.1 252.5h0M498.0 270.6h0M474.1 273.0h0M398.7 261.5h0M526.7 268.9h0M280.1 253.3h0M564.5 264.3h0M309.5 278.9h0M426.7 264.2h0M466.0 260.8h0M409.9 258.6h0M407.2 259.1h0M569.6 272.2h0M682.5 259.0h0M555.0 265.9h0M471.8 261.3h0M397.2 265.4h0M383.9 269.3h0M570.9 276.2h0M541.0 261.7h0M581.1 267.0h0M551.3 260.7h0M581.8 262.6h0M399.8 267.5h0M382.2 276.7h0M360.8 264.1h0M453.8 258.2h0M438.2 264.9h0M466.8 265.2h0M342.7 274.6h0M532.3 261.4h0M463.6 263.0h0M454.0 254.9h0M422.5 266.4h0M542.5 268.8h0M441.1 267.8h0M515.8 262.4h0M419.8 280.2h0M486.9 272.4h0M547.7 261.2h0M430.6 264.5h0M485.2 263.1h0M471.4 263.0h0M513.7 257.0h0M444.9 269.8h0M500.9 280.2h0M284.2 263.9h0M434.3 262.0h0M533.8 266.8h0M365.5 248.6h0M380.9 273.3h0M493.3 266.2h0M489.7 269.6h0M499.6 267.5h0M461.9 266.8h0M466.0 274.2h0M553.2 262.4h0M368.5 262.9h0M326.2 265.8h0M550.5 275.4h0M384.3 262.9h0M520.2 260.8h0M392.4 262.4h0M600.3 266.0h0M449.2 260.5h0M323.9 279.1h0M435.0 261.9h0M439.3 255.8h0M435.6 256.2h0M470.6 261.8h0M347.3 270.9h0M428.3 252.9h0M496.9 267.4h0M512.6 267.1h0M462.7 263.0h0M379.8 267.2h0M270.4 267.1h0M591.3 254.0h0M350.1 248.8h0M412.4 272.6h0M456.0 278.0h0M496.4 270.7h0M452.5 257.7h0M378.5 256.1h0M451.1 262.0h0M648.3 262.9h0M688.6 272.2h0M434.5 280.1h0M515.3 274.6h0M291.7 259.4h0M475.0 269.6h0M521.7 272.8h0M427.1 273.9h0M625.3 273.0h0M537.2 270.8h0M512.8 268.4h0M398.3 256.8h0M522.1 268.1h0M409.8 266.9h0M291.5 271.5h0M401.8 266.7h0M597.8 265.1h0M519.3 259.4h0M536.8 266.3h0M474.1 268.2h0M606.8 266.4h0M344.6 282.8h0M635.4 264.5h0M554.6 259.0h0M479.1 266.0h0M424.4 268.9h0M287.3 273.1h0M416.6 256.8h0M443.3 267.5h0M370.2 246.0h0M585.0 266.9h0M552.9 261.6h0M430.2 272.8h0M540.9 265.3h0M452.7 267.7h0M482.0 257.8h0M411.9 260.6h0M688.4 269.1h0M316.9 240.3h0M443.5 259.7h0M553.6 271.8h0M552.8 261.6h0M305.2 281.7h0M368.5 272.8h0M447.9 261.8h0M382.2 265.6h0M394.4 269.5h0M433.4 261.9h0M442.4 279.7h0M560.0 255.3h0M298.0 275.4h0M555.8 264.2h0M435.9 270.9h0M511.7 267.6h0M424.6 266.7h0M676.8 266.4h0M288.9 270.1h0M568.1 275.4h0M415.7 263.2h0M435.8 263.4h0M590.3 263.5h0M438.6 267.6h0M542.2 259.6h0M593.5 266.7h0M402.1 262.6h0M647.0 267.2h0M575.9 256.4h0M437.5 252.9h0M479.1 263.7h0M391.7 271.2h0M485.9 271.2h0M540.0 266.5h0M552.5 256.9h0M479.7 255.2h0M410.2 267.4h0M398.3 265.5h0M369.2 275.3h0M432.6 253.8h0M514.9 264.2h0M404.3 263.8h0M394.9 252.6h0M359.8 250.1h0M512.0 263.9h0M434.3 267.0h0M307.2 265.9h0M562.1 261.4h0M557.5 261.6h0M460.3 264.3h0M455.2 272.4h0M372.1 270.0h0M552.2 255.8h0M587.8 267.3h0M554.5 271.0h0M480.7 263.8h0M480.2 261.1h0M617.9 265.9h0M384.2 261.6h0M456.7 279.3h0M394.2 251.2h0M345.3 242.8h0M489.5 266.7h0M564.0 267.3h0M550.4 263.3h0M521.0 260.6h0M501.8 266.1h0M585.3 255.0h0M396.9 280.8h0M608.9 260.5h0M508.9 249.5h0M314.4 277.6h0M549.1 261.1h0M461.0 270.2h0M405.6 258.5h0M362.2 263.6h0M476.9 267.6h0M581.9 272.0h0M507.5 270.2h0M426.2 260.4h0M386.5 263.0h0M360.3 281.5h0M427.2 266.1h0M308.3 253.6h0M422.6 249.0h0M451.9 262.6h0M443.1 257.6h0M401.5 267.2h0M523.8 260.6h0M516.2 255.3h0M589.7 266.0h0M392.1 251.6h0M353.3 265.9h0M400.4 244.5h0M342.1 277.6h0M452.0 282.4h0M416.4 269.5h0M451.8 247.5h0M550.0 265.6h0M523.0 264.0h0M397.7 258.2h0M459.4 256.8h0M485.4 270.5h0M517.8 264.4h0M423.9 259.1h0M336.1 271.9h0M488.0 250.6h0M365.5 271.2h0M421.5 267.3h0M430.9 266.2h0M541.6 265.1h0M412.0 262.9h0M471.0 279.5h0M435.9 267.7h0M404.8 263.0h0M537.6 267.3h0M412.7 264.7h0M482.4 274.2h0M283.6 261.6h0M302.3 246.7h0M483.2 266.9h0M479.9 256.3h0M407.0 265.1h0M407.1 249.7h0M426.0 258.1h0M452.2 269.9h0M452.4 276.1h0M373.0 260.1h0M588.2 263.0h0M549.7 268.8h0M418.1 245.5h0M657.7 263.1h0M683.9 267.0h0M571.5 262.3h0M567.3 259.5h0M402.1 262.4h0M427.1 277.4h0M309.5 252.5h0M417.6 257.4h0M547.3 267.9h0M418.5 257.2h0M300.6 267.1h0M605.7 270.1h0M639.7 262.7h0M597.6 258.0h0M314.7 265.9h0M379.8 265.4h0M444.0 272.8h0M522.0 264.7h0M599.5 267.9h0M398.8 273.0h0M424.6 264.2h0M339.4 269.0h0M457.8 263.1h0M366.3 262.9h0M410.9 279.9h0M527.9 268.0h0M455.9 270.1h0M483.3 270.7h0M532.0 263.0h0M586.4 255.2h0M307.1 275.8h0M505.3 273.1h0M587.1 267.3h0M530.4 270.1h0M618.8 268.6h0M505.1 258.2h0M398.0 267.1h0M550.9 270.3h0M374.0 258.4h0M393.2 267.9h0M495.4 268.8h0M433.5 259.6h0M544.6 262.6h0M422.4 263.1h0M628.1 262.3h0M361.9 268.0h0M523.3 260.2h0M414.2 263.6h0M589.6 265.6h0M403.9 255.8h0M529.1 258.3h0M388.9 274.7h0M612.4 262.3h0M476.0 265.0h0M466.1 267.5h0M541.1 264.4h0M683.5 265.9h0M355.7 259.8h0M451.0 264.4h0M415.6 254.8h0M524.4 266.3h0M392.6 261.9h0M312.5 263.5h0M316.1 263.4h0M520.6 263.8h0M478.5 264.1h0M309.1 246.7h0M374.5 261.2h0M407.9 277.7h0M538.4 264.4h0M500.6 258.0h0M443.0 262.0h0M364.9 264.4h0M476.8 258.6h0M414.5 256.2h0M542.2 255.1h0M622.5 263.3h0M470.3 269.5h0M354.4 267.0h0M682.1 273.4h0M518.8 266.1h0M509.6 269.6h0M470.2 263.1h0M475.7 264.5h0M468.3 270.0h0M484.1 259.7h0M319.4 277.0h0M393.0 266.1h0M451.4 258.0h0M473.7 268.9h0M478.3 260.8h0M500.2 261.4h0M289.4 259.3h0M369.5 261.4h0M397.4 255.4h0M472.4 267.2h0M442.0 266.8h0M645.2 262.8h0M424.4 255.9h0M437.2 266.8h0M315.0 257.0h0M630.6 265.4h0M467.7 269.4h0M449.3 253.8h0M399.7 270.8h0M468.2 281.8h0M427.3 273.8h0M573.7 277.0h0M384.6 256.6h0M419.6 258.3h0M410.4 256.8h0M515.3 269.1h0M552.3 265.5h0M511.0 270.0h0M513.8 272.0h0M465.6 263.2h0M545.1 268.5h0M505.8 269.6h0M491.6 276.2h0M310.6 281.6h0M416.8 266.7h0M396.1 263.1h0M290.5 266.0h0M582.7 265.6h0M595.9 269.1h0M561.9 264.1h0M513.8 264.6h0M599.3 266.6h0M303.3 265.9h0M579.2 276.5h0M270.6 244.5h0M474.9 265.6h0M470.9 255.4h0M507.8 265.3h0M520.9 266.4h0M526.3 257.3h0M394.2 242.9h0M396.4 271.4h0M381.7 253.0h0M471.6 271.6h0M427.4 268.0h0M310.7 281.1h0M549.1 266.6h0M352.7 271.8h0M413.4 266.7h0M389.8 262.7h0M389.4 268.2h0M513.3 262.4h0M394.3 275.9h0M324.9 257.7h0M397.1 275.7h0M362.6 266.8h0M315.3 251.5h0M544.1 268.8h0M566.6 266.9h0M324.1 267.7h0M605.1 263.9h0M629.8 267.0h0M329.3 278.8h0M497.9 265.6h0M536.3 262.7h0M516.9 269.4h0M424.4 267.9h0M503.2 267.8h0M541.4 260.7h0M238.2 271.2h0M454.0 264.4h0M458.4 270.5h0M514.9 265.5h0M564.9 275.1h0M529.4 262.0h0M386.8 268.5h0M524.9 261.0h0M388.1 271.4h0M530.7 255.8h0M442.6 262.7h0M442.1 267.4h0M471.4 278.8h0M310.2 250.7h0M429.0 262.2h0M347.3 269.8h0M545.4 267.1h0M577.4 262.4h0M324.0 273.2h0M249.5 264.1h0M481.2 261.2h0M405.4 266.1h0M371.8 261.3h0M672.1 268.5h0M420.0 266.2h0M362.8 273.2h0M432.9 261.9h0M485.5 251.3h0M605.7 262.0h0M487.5 268.3h0M342.0 272.4h0M413.0 269.3h0M630.5 261.4h0M296.5 291.7h0M454.4 260.5h0M568.7 270.7h0M484.0 270.7h0M439.0 258.8h0M376.4 265.2h0M474.0 273.9h0M507.9 252.8h0M479.9 267.7h0M554.8 269.5h0M478.3 269.8h0M579.9 266.2h0M472.6 264.7h0M544.4 265.4h0M429.2 273.1h0M622.2 264.0h0M576.9 257.2h0M524.3 268.6h0M367.5 271.4h0M426.0 271.3h0M475.2 281.0h0M379.1 258.0h0M474.9 265.0h0M522.2 264.4h0M629.0 267.0h0M461.8 266.6h0M314.0 267.1h0M241.1 263.9h0M445.0 262.5h0M544.4 259.0h0M565.2 270.6h0M469.7 264.4h0M398.9 271.5h0M394.9 267.4h0M447.5 266.1h0M469.2 259.7h0M516.5 259.9h0M472.0 269.1h0M648.2 263.2h0M475.5 270.5h0M507.0 277.4h0M558.5 268.9h0M549.5 264.8h0M400.8 267.1h0M309.8 271.1h0M339.6 266.3h0M495.7 258.8h0M516.6 267.8h0M493.4 259.9h0M535.2 268.4h0M582.5 265.6h0M389.8 272.6h0M700.3 270.3h0M710.2 278.0h0M533.1 266.9h0M445.7 259.9h0M330.9 269.5h0M464.5 251.1h0M386.0 264.0h0M453.2 256.9h0M432.3 268.3h0M654.9 272.9h0M382.0 249.3h0M491.2 269.0h0M424.5 262.0h0M610.2 271.2h0M561.5 260.4h0M319.9 247.4h0M370.5 276.2h0M488.4 266.8h0M404.6 258.0h0M504.3 263.0h0M469.9 276.1h0M361.6 244.6h0M434.4 266.0h0M506.9 263.8h0M455.6 264.6h0M475.4 259.7h0M497.3 276.6h0M451.1 268.5h0M588.3 262.3h0M506.5 271.1h0M414.0 264.2h0M500.2 255.8h0M541.4 267.8h0M522.1 260.3h0M525.6 271.0h0M533.7 263.2h0M512.3 265.6h0M441.1 268.5h0M531.1 256.5h0M553.5 258.2h0M543.6 267.1h0M488.9 266.9h0M488.9 269.2h0M277.0 268.0h0M386.1 270.6h0M443.7 274.1h0M555.8 257.4h0M574.0 256.1h0M475.5 256.9h0M357.1 258.8h0M507.5 266.4h0M554.2 266.1h0M533.4 263.4h0M396.8 271.9h0M361.2 259.1h0M377.8 264.1h0M361.3 257.6h0M555.2 256.6h0M490.9 262.4h0M663.5 263.2h0M615.8 264.2h0M556.1 263.4h0M397.9 258.3h0M523.5 258.5h0M503.8 265.8h0M330.3 273.6h0M342.9 265.4h0M392.6 274.5h0M424.8 258.4h0M331.9 251.3h0M469.3 266.2h0M517.5 255.9h0M347.8 255.0h0M639.9 258.8h0M391.1 262.6h0M560.0 266.6h0M524.9 267.4h0M392.3 274.6h0M449.8 265.6h0M462.3 270.0h0M427.3 269.2h0M531.2 256.7h0M465.9 257.6h0M298.2 257.4h0M469.1 261.0h0M352.9 264.2h0M438.5 262.6h0M482.1 262.2h0M449.8 261.5h0M555.7 274.7h0M453.1 257.7h0M411.5 279.4h0M614.8 262.8h0M529.1 271.5h0M447.6 261.2h0M461.0 266.5h0M422.5 268.6h0M467.8 271.7h0M370.0 254.0h0M575.6 264.9h0M249.8 295.7h0M370.0 261.5h0M455.5 274.8h0M399.3 261.7h0M524.9 266.6h0M348.3 262.2h0M523.8 268.5h0M502.5 278.7h0M602.4 266.1h0M376.1 269.0h0M630.6 267.4h0M344.7 254.8h0M600.4 266.0h0M559.6 266.1h0M500.8 261.9h0M358.0 266.4h0M611.3 268.5h0M535.6 268.2h0M304.0 266.6h0M397.7 263.2h0M379.2 266.7h0M526.7 274.7h0M472.9 267.2h0M489.8 267.1h0M412.0 268.4h0M549.2 253.0h0M406.4 262.1h0M318.2 271.8h0M234.4 252.7h0M509.0 269.2h0M402.8 257.1h0M298.9 272.3h0M377.4 270.9h0M423.2 257.8h0M525.0 259.0h0M260.1 272.8h0M421.8 267.5h0M529.8 277.9h0M505.0 267.8h0M537.6 268.9h0M646.8 264.7h0M380.6 281.6h0M404.7 257.3h0M562.6 266.1h0M614.0 261.4h0M494.3 274.8h0M432.5 267.5h0M354.1 259.0h0M521.4 269.5h0M496.1 267.2h0M362.8 269.4h0M414.4 269.0h0M371.4 272.6h0M450.0 269.3h0M580.6 264.3h0M590.8 259.0h0M495.1 269.0h0M576.2 270.0h0M562.9 261.3h0M605.6 270.1h0M420.7 276.8h0M524.7 266.2h0M639.4 265.2h0M528.1 273.5h0M427.4 245.5h0M489.9 272.0h0M682.1 266.9h0M408.4 260.3h0M552.7 262.2h0M432.5 280.2h0M320.4 274.0h0M319.2 275.7h0M469.2 256.6h0M408.8 257.4h0M605.9 261.4h0M411.6 260.5h0M337.3 272.7h0M395.1 274.1h0M351.7 270.7h0M578.4 262.9h0M394.4 251.6h0M609.9 275.6h0M521.6 265.1h0M659.9 261.5h0M458.7 262.5h0M548.2 265.1h0M271.4 280.6h0M424.3 273.2h0M398.3 255.9h0M577.4 259.6h0M456.5 265.6h0M532.2 265.7h0M401.1 276.4h0M347.1 270.5h0M461.0 255.5h0M592.2 256.9h0M464.2 259.4h0M617.5 269.6h0M438.0 268.5h0M435.8 263.8h0M435.8 263.2h0M404.1 261.6h0M446.6 261.1h0M392.6 262.8h0M371.7 265.4h0M552.1 267.7h0M440.8 273.3h0M412.1 261.0h0M321.4 273.5h0M524.8 265.3h0M405.6 269.2h0M651.3 259.8h0M305.0 265.5h0M501.6 267.8h0M584.1 266.7h0M419.0 263.5h0M661.4 266.0h0M564.8 265.5h0M563.4 267.4h0M388.6 272.1h0M567.1 271.8h0M565.4 261.7h0M483.0 259.7h0M640.3 271.8h0M502.6 259.9h0M256.7 269.6h0M503.1 265.7h0M636.4 261.7h0M413.7 263.3h0M541.6 268.5h0M410.7 266.7h0M470.7 264.8h0M442.3 276.0h0M415.8 278.5h0M293.7 269.3h0M536.8 268.6h0M503.2 262.4h0M386.4 263.1h0M273.8 242.1h0M523.9 263.6h0M422.3 252.1h0M537.8 264.7h0M575.7 260.7h0M435.2 255.7h0M445.8 267.1h0M539.3 263.3h0M442.3 258.2h0M279.0 274.8h0M523.2 263.6h0M495.1 263.5h0M410.3 263.3h0M513.5 266.7h0M427.6 279.2h0M424.5 258.9h0M538.3 263.9h0M308.6 262.1h0M447.2 257.4h0M336.4 246.7h0M543.2 265.5h0M390.7 264.7h0M296.8 290.4h0M422.7 261.8h0M249.3 263.8h0M590.4 257.9h0M458.0 256.2h0M525.3 258.1h0M509.9 266.5h0M479.8 265.4h0M361.9 272.6h0M535.2 261.2h0M429.3 267.8h0M388.2 252.7h0M267.5 276.3h0M582.1 265.7h0M438.3 261.8h0M280.0 261.2h0M549.3 263.0h0M450.2 262.0h0M556.3 263.6h0M457.2 269.0h0M380.2 261.1h0M514.6 267.6h0M312.1 235.7h0M313.7 294.3h0M454.2 254.5h0M531.1 260.4h0M566.2 265.3h0M452.0 255.0h0M449.6 260.9h0M441.1 275.3h0M413.2 260.0h0M507.9 266.7h0M412.9 266.2h0M440.2 267.8h0M573.8 262.7h0M481.6 262.4h0M411.6 267.6h0M526.5 260.8h0M447.3 266.5h0M524.6 261.6h0M379.3 260.5h0M387.6 267.2h0M325.8 271.4h0M566.5 264.9h0M592.8 262.1h0M572.7 257.8h0M493.9 250.2h0M479.1 255.9h0M438.2 259.8h0M515.3 266.0h0M442.8 258.0h0M364.7 262.2h0M554.0 268.1h0M544.5 264.6h0M509.6 264.4h0M453.8 268.4h0M424.1 273.1h0M468.8 260.6h0M479.6 269.7h0M350.2 276.4h0M360.5 258.0h0M564.0 263.2h0M332.9 266.6h0M346.3 248.3h0M376.6 272.8h0M474.3 267.8h0M372.3 262.3h0M623.4 265.3h0M234.5 264.5h0M479.9 268.1h0M491.4 277.2h0M340.4 270.3h0M450.2 254.4h0M466.5 269.3h0M398.6 264.3h0M448.9 266.0h0M489.9 264.1h0M410.2 260.5h0M452.4 261.2h0M345.8 263.9h0M516.9 262.3h0M398.6 283.1h0M651.0 265.4h0M614.9 267.4h0M414.7 270.9h0M498.3 271.9h0M433.7 263.9h0M501.1 258.8h0M380.3 264.5h0M363.0 263.7h0M453.0 254.7h0M382.7 257.6h0M572.5 258.1h0M525.5 251.2h0M489.1 267.4h0M443.9 267.9h0M548.5 262.9h0M464.8 255.9h0M459.1 272.8h0M633.0 260.9h0M471.4 264.4h0M433.8 270.1h0M577.5 261.0h0M411.9 264.2h0M413.6 262.7h0M560.8 264.3h0M567.2 268.2h0M590.3 261.1h0M378.3 274.2h0M499.6 258.3h0M405.5 264.4h0M497.6 265.9h0M310.9 266.9h0M440.0 268.8h0M559.7 265.3h0M477.8 248.1h0M233.2 278.9h0M492.9 261.3h0M433.4 260.7h0M458.6 263.1h0M428.7 264.9h0M566.8 270.8h0M455.8 262.1h0M309.2 260.0h0M379.2 271.5h0M611.7 263.3h0M564.5 262.7h0M534.0 271.9h0M385.4 251.0h0M510.0 272.2h0M555.9 268.9h0M468.9 267.7h0M528.0 262.1h0M566.2 265.5h0M557.0 265.2h0M502.7 256.7h0M503.8 263.9h0M344.7 265.1h0M432.8 265.8h0M538.4 264.6h0M620.0 263.4h0M477.5 256.5h0M562.1 257.1h0M461.7 251.0h0M370.2 267.9h0M501.3 263.9h0M503.7 262.9h0M377.3 263.2h0M379.9 262.2h0M465.3 255.1h0M413.2 263.0h0M508.0 266.2h0M537.3 262.0h0M403.3 270.6h0M494.0 263.9h0M315.1 261.4h0M548.5 267.3h0M479.8 268.6h0M658.3 266.9h0M305.7 251.1h0M289.9 262.8h0M528.2 264.6h0M544.6 269.9h0M294.1 254.3h0M510.8 265.8h0M548.5 264.6h0M592.8 265.2h0M473.5 257.9h0M316.7 243.1h0M279.8 271.2h0M657.2 259.9h0M499.4 258.9h0M553.3 264.1h0M431.1 251.8h0M439.6 258.4h0M441.7 267.7h0M373.6 252.3h0M434.0 264.5h0M422.3 271.5h0M565.4 269.2h0M463.5 254.4h0M397.9 265.4h0M623.1 268.7h0M583.5 256.8h0M465.4 255.0h0M298.2 265.6h0M582.6 260.5h0M584.1 262.1h0M406.4 265.5h0M595.3 261.8h0M383.7 252.3h0M436.5 258.7h0M418.4 270.8h0M478.6 260.1h0M448.6 269.5h0M595.7 262.7h0M428.8 256.8h0M503.1 270.2h0M465.7 275.6h0M484.5 258.7h0M384.2 271.5h0M458.2 253.4h0M591.3 270.2h0M538.9 267.1h0M351.7 258.5h0M423.6 267.9h0M367.1 279.6h0M393.8 269.1h0M400.9 262.6h0M346.7 266.7h0M504.9 274.4h0M546.3 262.0h0M475.8 267.0h0M416.9 266.6h0M476.4 267.4h0M390.0 268.6h0M559.0 269.1h0M680.5 256.9h0M497.6 265.2h0M466.1 264.2h0M479.8 261.1h0M435.5 275.1h0M320.8 261.2h0M454.0 263.2h0M423.8 263.0h0M447.5 279.5h0M457.0 263.5h0M414.5 259.1h0M344.6 267.7h0M341.7 240.9h0M446.1 261.9h0M606.1 263.3h0M456.9 262.4h0M383.1 253.3h0M336.8 253.5h0M511.8 267.2h0M394.4 258.6h0M519.7 269.6h0M395.8 265.2h0M411.1 265.3h0M455.3 271.0h0M307.8 280.4h0M573.0 263.2h0M474.6 260.6h0M502.7 268.8h0M680.9 266.0h0M505.0 272.6h0M539.1 265.3h0M413.1 246.2h0M447.4 262.8h0M459.8 254.0h0M560.3 271.7h0M368.0 258.7h0M498.5 275.6h0M727.8 266.6h0M370.9 266.7h0M288.7 252.0h0M412.2 264.2h0M448.5 260.9h0M616.4 261.9h0M506.4 256.2h0M568.0 257.8h0M394.7 262.6h0M457.6 267.4h0M488.6 268.1h0M382.4 265.2h0M488.0 263.5h0M435.3 267.5h0M482.9 263.8h0M331.0 267.0h0M271.1 279.3h0M589.6 263.6h0M466.2 258.3h0M453.5 268.9h0M703.5 268.2h0M557.5 263.4h0M504.8 267.2h0M401.7 252.4h0M498.2 262.1h0M485.6 263.7h0M440.3 263.2h0M597.5 267.5h0M534.9 265.9h0M517.7 262.3h0M388.5 257.2h0M400.6 270.6h0M568.8 262.4h0M487.0 266.7h0M413.8 260.2h0M495.3 268.0h0M468.4 255.5h0M425.7 251.5h0M449.5 267.6h0M536.9 269.6h0M497.4 266.8h0M386.1 260.7h0M397.4 275.5h0M493.6 279.5h0M368.7 265.0h0M478.0 271.5h0M454.5 267.4h0M344.8 271.9h0M242.3 261.2h0M387.1 246.8h0M463.8 280.9h0M464.3 260.5h0M581.5 262.6h0M464.9 269.4h0M457.5 262.6h0M498.6 261.5h0M423.3 265.5h0M409.9 262.8h0M383.4 278.3h0M416.5 263.0h0M575.7 271.4h0M410.3 267.0h0M392.1 257.5h0M517.5 259.1h0M572.3 261.1h0M423.7 264.5h0M527.3 262.8h0M401.1 254.4h0M592.2 271.5h0M362.2 262.0h0M436.5 261.1h0M422.0 263.8h0M375.4 256.2h0M523.9 276.3h0M384.3 277.7h0M638.5 267.3h0M484.2 268.1h0M492.4 269.4h0M389.1 274.6h0M454.7 263.5h0M543.5 271.1h0M367.4 266.8h0M396.3 245.6h0M518.9 267.0h0M385.4 259.0h0M613.5 266.3h0M343.5 257.1h0M428.1 258.5h0M464.2 257.9h0M367.5 250.9h0M260.8 269.1h0M399.2 276.4h0M457.6 265.5h0M371.3 269.6h0M484.5 270.6h0M286.7 274.8h0M487.4 276.8h0M654.3 269.1h0M549.3 272.0h0M552.4 263.3h0M420.0 270.5h0M564.6 264.5h0M428.7 275.6h0M519.6 265.3h0M368.6 264.9h0M495.5 275.2h0M476.0 255.0h0M252.8 264.0h0M448.7 259.5h0M512.3 264.4h0M494.1 264.1h0M579.2 258.7h0M453.5 264.8h0M388.4 257.3h0M544.2 271.5h0M657.3 268.1h0M427.8 265.9h0M600.8 265.7h0M443.1 277.4h0M321.1 267.1h0M376.2 263.1h0M379.3 264.5h0M568.2 269.6h0M469.4 263.9h0M408.3 270.1h0M471.6 258.7h0M590.3 261.9h0M452.3 256.3h0M392.3 264.9h0M493.0 265.2h0M381.7 261.4h0M506.5 268.6h0M552.0 262.1h0M476.9 265.3h0M419.3 267.7h0M470.7 260.5h0M327.4 249.2h0M606.1 260.4h0M680.0 271.6h0M461.3 267.8h0M267.0 251.9h0M396.4 254.8h0M324.7 260.6h0M284.5 270.8h0M446.3 258.3h0M444.1 269.4h0M400.6 273.2h0M562.6 269.1h0M462.8 272.1h0M368.0 257.8h0M341.5 260.7h0M426.5 263.1h0M381.7 272.0h0M486.9 264.3h0M434.1 267.4h0M405.1 260.4h0M484.0 272.3h0M503.3 259.9h0M482.1 263.3h0M563.6 273.4h0M361.6 252.8h0M496.5 271.9h0M615.7 265.6h0M460.5 261.9h0M253.0 267.4h0M550.2 268.1h0M440.5 254.2h0M519.9 266.8h0M485.2 269.0h0M517.3 264.7h0M573.5 264.2h0M471.5 257.7h0M533.0 269.2h0M338.0 292.6h0M376.1 258.1h0M448.0 281.6h0M607.1 266.2h0M382.0 260.2h0M426.8 268.4h0M521.5 263.3h0M410.2 264.7h0M338.1 263.6h0M275.6 259.2h0M532.7 265.4h0M353.7 259.9h0M491.7 269.7h0M507.2 271.7h0M366.0 267.5h0M500.8 261.8h0M259.3 294.6h0M448.6 279.1h0M361.8 266.5h0M480.4 281.4h0M477.6 260.3h0M475.9 277.3h0M516.9 258.4h0M399.2 280.5h0M343.1 268.7h0M551.9 272.3h0M361.6 265.0h0M426.2 262.1h0M491.9 270.4h0M444.0 256.5h0M366.3 268.2h0M261.6 266.8h0M546.5 257.2h0M404.7 274.6h0M306.7 266.4h0M398.6 267.5h0M463.2 260.5h0M275.2 279.9h0M471.6 265.3h0M459.3 271.6h0M500.8 263.2h0M459.7 266.9h0M365.6 264.1h0M306.3 267.7h0M439.9 261.8h0M409.5 271.1h0M601.2 270.0h0M431.2 271.1h0M496.2 257.3h0M463.4 250.6h0M294.5 283.3h0M528.5 266.3h0M414.8 271.3h0M322.7 270.3h0M446.5 253.0h0M431.2 253.8h0M397.6 251.1h0M417.5 247.3h0M561.1 265.8h0M465.1 270.8h0M511.0 261.8h0M472.6 259.8h0M510.3 267.5h0M478.0 259.2h0M318.8 267.7h0M384.0 270.1h0M520.1 268.9h0M495.7 258.3h0M498.4 267.1h0M350.5 273.0h0M482.4 257.9h0M591.5 263.7h0M460.9 268.5h0M582.4 273.9h0M537.5 266.6h0M533.6 261.8h0M394.4 270.1h0M396.5 272.7h0M394.4 264.4h0M563.5 269.7h0M572.9 264.9h0M360.4 280.9h0M337.5 269.2h0M468.5 262.8h0M578.4 266.0h0M482.1 262.5h0M515.8 273.1h0M501.7 268.2h0M510.5 273.3h0M444.4 264.0h0M501.4 264.9h0M520.4 272.2h0M446.8 267.8h0M612.6 267.0h0M358.4 255.2h0M421.1 263.3h0M378.6 283.1h0M555.8 265.6h0M557.6 264.7h0M387.5 259.8h0M463.8 261.9h0M414.9 256.6h0M330.3 262.0h0M382.0 249.3h0M487.4 258.9h0M389.0 264.1h0M456.5 261.9h0M532.9 259.4h0M584.5 266.0h0M489.0 265.5h0M381.6 270.7h0M311.2 259.4h0M463.1 267.9h0M428.3 256.2h0M403.0 250.1h0M393.2 283.6h0M405.2 265.3h0M471.3 278.4h0M519.5 267.8h0M381.7 253.9h0M629.0 263.5h0M588.5 263.6h0M434.5 258.3h0M485.8 266.9h0M597.5 272.8h0M373.2 256.9h0M400.7 257.0h0M401.2 246.1h0M364.4 270.9h0M523.6 258.5h0M437.6 265.9h0M466.9 262.0h0M465.4 270.1h0M439.4 263.2h0M597.5 266.1h0M442.6 255.3h0M379.0 266.3h0M330.9 263.1h0M395.4 262.2h0M475.2 256.8h0M473.9 269.7h0M484.5 260.4h0M419.7 257.1h0M498.4 267.6h0M500.3 268.4h0M347.5 266.1h0M495.0 268.6h0M496.7 258.4h0M433.3 271.0h0M559.5 266.7h0M463.8 264.4h0M389.1 274.5h0M545.4 269.4h0M621.9 266.5h0M352.4 260.5h0M452.2 263.8h0M540.0 271.7h0M515.1 269.3h0M552.6 267.3h0M579.7 263.8h0M294.1 258.1h0M522.5 258.9h0M309.1 271.9h0M371.7 267.7h0M358.7 243.1h0M503.0 261.7h0M305.6 252.6h0M468.0 261.4h0M319.2 266.4h0M642.6 265.1h0M409.8 267.1h0M457.0 271.2h0M349.8 263.8h0M579.6 277.4h0M481.2 273.1h0M351.3 254.7h0M412.0 278.2h0M443.7 275.6h0M620.4 269.3h0M447.5 255.3h0M498.8 267.0h0M555.8 255.3h0M678.8 265.4h0M518.3 263.1h0M359.6 262.2h0M366.9 279.3h0M616.1 260.1h0M280.6 249.4h0M411.1 258.3h0M416.0 263.6h0M426.7 266.2h0M518.0 263.5h0M520.6 269.6h0M582.4 255.1h0M283.3 274.4h0M485.7 261.7h0M439.5 276.0h0M360.0 260.1h0M536.5 268.3h0M335.4 270.0h0M329.8 276.9h0M608.6 269.6h0M496.6 267.2h0M580.6 262.0h0M340.0 281.0h0M586.0 265.4h0M468.5 250.0h0M508.8 263.3h0M534.0 264.4h0M518.4 262.2h0M423.7 258.7h0M457.8 254.1h0M474.4 257.5h0M557.4 264.8h0M254.0 274.0h0M591.1 257.2h0M372.9 269.0h0M662.1 258.0h0M504.4 270.0h0M623.0 265.2h0M438.6 264.6h0M499.1 270.9h0M498.9 269.2h0M502.5 271.7h0M228.0 267.2h0M321.9 262.2h0M467.8 257.6h0M439.2 280.3h0M536.6 266.1h0M492.8 266.7h0M575.6 266.6h0M394.2 266.0h0M492.7 260.8h0M413.1 257.8h0M351.0 262.7h0M294.3 252.7h0M450.2 266.0h0M372.8 287.3h0M409.1 258.9h0M356.2 263.3h0M462.4 267.3h0M335.9 275.5h0M440.0 266.4h0M459.9 265.7h0M320.4 251.0h0M556.8 267.7h0M371.1 263.5h0M506.3 262.1h0M414.0 247.3h0M381.1 274.7h0M759.0 270.2h0M398.9 265.2h0M313.3 273.5h0M407.0 285.5h0M362.2 269.5h0M557.4 264.4h0M496.3 268.5h0M344.1 276.4h0M620.7 266.0h0M433.6 269.1h0M332.2 259.3h0M516.5 272.1h0M359.7 284.6h0M348.7 251.2h0M440.0 279.7h0M391.6 262.8h0M506.3 262.1h0M481.3 261.6h0M342.7 257.7h0M352.6 263.8h0M431.2 268.7h0M576.7 263.6h0M394.4 246.5h0M510.9 264.6h0M393.8 266.9h0M495.4 279.0h0M400.7 266.1h0M494.0 261.6h0M370.3 251.7h0M383.8 265.0h0M636.1 263.1h0M541.0 251.2h0M336.0 261.5h0M437.7 273.1h0M580.9 263.9h0M327.1 262.3h0M444.0 253.7h0M412.7 263.2h0M387.0 267.3h0M343.5 264.9h0M636.3 270.0h0M452.7 271.1h0M423.6 267.1h0M297.4 274.3h0M559.9 270.8h0M438.0 260.8h0M324.5 264.5h0M508.1 266.5h0M454.3 268.1h0M316.8 252.5h0M651.5 262.7h0M523.3 265.7h0M361.0 259.2h0M378.2 260.8h0M528.9 252.2h0M567.5 255.5h0M511.3 255.9h0M505.1 265.3h0M652.5 267.1h0M431.2 262.5h0M478.9 261.6h0M494.2 258.1h0M531.9 255.7h0M605.0 263.7h0M248.8 262.4h0M439.1 283.3h0M577.7 263.9h0M592.1 271.4h0M415.3 262.0h0M477.5 255.4h0M473.5 259.8h0M400.4 269.7h0M554.7 273.5h0M573.2 269.0h0M610.8 260.9h0M485.4 261.5h0M473.3 258.7h0M567.3 261.3h0M774.1 275.4h0M439.2 268.3h0M452.9 267.5h0M627.7 258.4h0M354.5 278.7h0M222.5 243.1h0M554.6 263.1h0M593.7 264.7h0M587.2 262.1h0M557.2 260.8h0M566.1 264.8h0M397.2 264.1h0M561.5 260.3h0M368.7 262.9h0M314.7 262.0h0M441.4 255.1h0M340.7 265.0h0M358.3 271.8h0M400.8 258.5h0M422.5 268.4h0M475.4 267.0h0M365.1 271.5h0M404.9 260.0h0M446.5 278.3h0M475.9 259.8h0M505.6 265.6h0M533.6 271.0h0M482.5 260.8h0M503.6 260.2h0M524.3 269.8h0M459.5 270.3h0M478.3 269.0h0M375.2 260.3h0M482.8 260.8h0M553.6 266.0h0M399.1 273.4h0M412.5 270.6h0M562.5 258.5h0M619.1 270.2h0M482.5 270.8h0M424.2 273.1h0M503.4 264.7h0M423.5 254.8h0M375.5 257.7h0M559.3 261.7h0M280.2 275.4h0M546.3 251.2h0M387.6 271.9h0M548.8 262.3h0M413.0 258.0h0M633.0 269.3h0M413.6 274.1h0M249.0 274.6h0M736.6 270.0h0M463.5 260.5h0M448.6 267.2h0M459.5 272.8h0M430.2 267.7h0M488.3 262.8h0M388.8 252.3h0M666.1 272.9h0M394.5 257.4h0M521.3 258.6h0M586.8 265.9h0M439.2 267.6h0M542.5 267.0h0M409.1 283.8h0M366.1 250.1h0M384.4 266.6h0M562.6 264.3h0M559.2 257.5h0M374.3 262.7h0M556.1 269.6h0M374.4 261.6h0M477.0 258.2h0M525.8 267.5h0M265.3 258.9h0M518.4 266.2h0M431.1 261.7h0M319.7 271.2h0M523.5 259.0h0M486.3 280.1h0M492.7 275.7h0M432.8 257.5h0M395.2 281.3h0M334.1 268.9h0M436.6 268.8h0M416.1 256.4h0M496.1 264.0h0M533.1 267.0h0M497.9 258.2h0M484.7 252.0h0M431.9 270.7h0M547.1 263.7h0M568.6 261.9h0M411.2 259.6h0M416.5 269.8h0M365.2 261.9h0M429.6 267.2h0M416.5 275.3h0M642.2 272.8h0M585.7 263.8h0M329.7 253.1h0M530.7 276.3h0M435.0 268.4h0M293.3 275.5h0M481.5 275.6h0M393.3 266.7h0M486.5 261.8h0M506.6 269.2h0M395.9 271.0h0M598.5 265.6h0M470.3 269.5h0M383.4 262.3h0M303.2 279.3h0M667.2 272.5h0M381.8 277.3h0M463.4 251.0h0M484.1 265.6h0M541.1 261.9h0M329.6 287.5h0M227.0 283.1h0M466.8 263.9h0M315.7 276.2h0M430.0 264.0h0M651.0 270.0h0M400.2 276.5h0M519.9 258.7h0M351.0 265.5h0M738.0 267.1h0M420.3 249.8h0M493.5 266.8h0M442.7 263.8h0M398.3 246.3h0M556.7 262.7h0M433.7 272.1h0M368.5 274.3h0M404.3 264.4h0M425.9 267.1h0M463.4 270.3h0M467.1 275.4h0M376.7 261.5h0M405.3 266.0h0M649.0 271.6h0M428.5 264.5h0M581.0 261.1h0M410.5 279.0h0M485.6 263.2h0M392.4 258.1h0M398.6 260.5h0M533.6 270.4h0M570.2 267.6h0M551.8 269.4h0M397.6 250.8h0M418.6 252.4h0M340.8 265.2h0M475.0 264.0h0M526.1 252.7h0M470.1 261.2h0M486.5 255.4h0M457.7 262.0h0M494.1 271.5h0M431.5 252.6h0M468.1 265.0h0M380.6 254.1h0M370.0 265.6h0M469.6 265.1h0M464.8 251.4h0M358.6 274.1h0M595.8 263.7h0M565.6 263.5h0M613.0 266.0h0M440.1 259.2h0M427.3 270.5h0M482.9 262.0h0M539.9 269.0h0M595.1 266.4h0M361.7 272.7h0M436.7 260.8h0M260.7 259.3h0M428.0 268.5h0M539.4 260.6h0M518.3 272.2h0M676.9 270.5h0M518.3 269.4h0M413.5 263.6h0M382.1 260.7h0M478.9 269.0h0M610.7 263.0h0M334.9 263.8h0M363.2 271.2h0M461.7 261.0h0M421.8 267.5h0M538.9 266.0h0M410.1 248.1h0M458.5 264.1h0M453.1 268.8h0M474.7 271.0h0M584.0 273.5h0M331.2 278.9h0M289.7 263.8h0M312.6 269.0h0M426.5 272.1h0M465.1 258.6h0M504.9 251.5h0M483.8 256.8h0M466.4 259.8h0M285.1 266.7h0M391.5 269.7h0M494.9 267.5h0M336.5 288.9h0M408.0 263.8h0M412.8 271.3h0M500.5 267.7h0M370.5 254.7h0M295.0 256.1h0M418.9 269.7h0M426.4 257.2h0M396.6 268.7h0M431.7 262.2h0M404.5 249.8h0M408.0 271.8h0M650.4 269.4h0M509.7 268.0h0M378.1 263.4h0M460.8 259.9h0M307.5 272.5h0M472.4 265.3h0M376.7 265.4h0M506.7 266.1h0M582.8 269.7h0M334.9 254.5h0M301.1 261.5h0M562.3 262.2h0M638.8 266.1h0M454.4 266.0h0M257.2 258.3h0M305.3 287.5h0M544.3 266.3h0M620.3 260.9h0M441.7 261.3h0M325.5 258.9h0M563.0 264.1h0M324.6 269.4h0M388.8 256.4h0M393.8 276.3h0M392.8 266.9h0M505.1 267.3h0M361.6 248.0h0M467.8 269.4h0M557.0 257.9h0M557.1 264.0h0M581.6 262.6h0M418.3 279.6h0M291.6 259.7h0M471.8 272.8h0M475.4 269.3h0M481.3 262.0h0M417.2 254.7h0M497.2 267.3h0M356.6 256.7h0M531.6 262.2h0M622.1 261.1h0M467.4 262.4h0M459.8 277.2h0M515.2 263.6h0M509.1 261.9h0M474.3 252.4h0M428.5 268.4h0M604.2 262.2h0M341.7 267.7h0M561.6 264.4h0M373.9 263.4h0M500.2 263.0h0M364.8 274.3h0M308.5 288.8h0M356.9 268.6h0M362.8 244.1h0M397.4 266.3h0M387.8 273.6h0M361.6 263.9h0M451.1 251.2h0M451.7 255.9h0M506.9 268.2h0M388.0 281.4h0M339.8 262.6h0M447.5 275.1h0M535.8 255.2h0M524.1 266.2h0M360.0 263.7h0M406.4 269.8h0M485.0 265.8h0M320.9 269.6h0M471.8 265.4h0M419.8 263.6h0M481.4 248.2h0M533.6 265.2h0M407.1 254.7h0M346.3 250.5h0M526.7 262.4h0M463.0 273.4h0M527.0 264.8h0M421.1 275.9h0M523.6 262.5h0M408.5 264.0h0M393.7 250.8h0M453.4 268.0h0M442.5 263.2h0M459.0 264.6h0M544.2 268.5h0M390.8 259.0h0M289.1 265.2h0M493.3 258.4h0M553.5 259.2h0M341.9 262.5h0M497.1 263.6h0M559.5 270.3h0M539.1 266.0h0M626.4 263.7h0M508.9 277.6h0M367.6 268.9h0M293.1 246.5h0M333.9 268.1h0M419.7 271.5h0M557.8 265.8h0M562.3 272.5h0M517.2 268.1h0M571.4 270.3h0M375.3 270.1h0M634.9 264.3h0M498.6 254.7h0M421.4 250.8h0M525.5 268.2h0M384.3 265.0h0M604.0 271.4h0M331.2 269.8h0M403.9 265.1h0M437.4 263.3h0M436.2 272.3h0M336.6 267.8h0M536.3 262.9h0M513.9 265.2h0M460.6 269.9h0M509.9 265.2h0M411.5 258.3h0M547.0 259.6h0M401.3 275.8h0M354.5 271.3h0M438.8 261.5h0M437.1 258.2h0M489.1 253.6h0M519.9 262.1h0M616.3 261.6h0M330.3 282.8h0M305.5 292.4h0M483.3 275.6h0M580.4 263.2h0M554.6 262.1h0M447.6 265.9h0M435.4 266.9h0M430.7 264.1h0M625.7 261.1h0M439.1 271.4h0M489.3 261.1h0M343.5 261.1h0M546.0 267.4h0M434.7 265.7h0M431.6 261.8h0M447.5 264.5h0M715.2 267.5h0M517.8 264.3h0M522.6 262.9h0M389.0 253.8h0M327.6 265.9h0M258.3 266.2h0M405.3 265.9h0M476.5 272.3h0M482.4 269.9h0M323.9 280.1h0M522.0 251.0h0M408.1 250.4h0M567.1 259.3h0M436.9 270.9h0M465.3 266.0h0M392.3 270.9h0M396.8 262.1h0M464.7 266.0h0M515.4 273.1h0M529.1 259.2h0M395.1 267.5h0M344.9 266.0h0M501.2 270.5h0M581.9 266.3h0M415.5 258.1h0M421.7 261.7h0M420.1 247.4h0M493.2 262.5h0M551.4 270.1h0M374.1 270.5h0M502.6 265.2h0M596.4 268.7h0M518.0 261.1h0M390.4 282.9h0M326.6 271.0h0M466.0 260.6h0M589.2 274.7h0M537.5 261.6h0M597.7 266.8h0M429.1 263.0h0M388.0 271.2h0M515.1 269.6h0M445.5 269.6h0M390.3 268.4h0M427.9 263.1h0M516.8 263.9h0M546.2 273.2h0M537.6 266.2h0M682.0 270.1h0M535.3 271.3h0M379.4 258.9h0M566.0 274.4h0M386.2 264.4h0M363.3 247.4h0M411.3 270.3h0M466.8 265.1h0M419.1 267.8h0M448.7 278.4h0M305.0 274.7h0M550.2 265.8h0M580.6 265.2h0M444.4 276.8h0M583.1 261.3h0M547.3 261.6h0M578.9 266.5h0M605.3 271.5h0M353.4 254.0h0M543.5 265.4h0M454.3 261.7h0M538.6 260.9h0M443.4 268.3h0M660.4 269.7h0M623.0 265.7h0M467.4 267.9h0M510.0 266.2h0M490.2 259.1h0M492.6 280.4h0M555.5 269.3h0M378.5 278.0h0M336.6 265.1h0M573.4 255.0h0M501.2 268.0h0M426.9 263.1h0M331.1 278.2h0M442.9 265.3h0M308.1 247.2h0M481.7 271.9h0M494.8 263.7h0M405.6 257.5h0M562.2 264.1h0M537.9 264.2h0M485.6 264.4h0M397.2 284.9h0M405.5 273.9h0M378.2 260.3h0M283.2 255.5h0M465.9 266.5h0M322.8 284.2h0M497.3 263.1h0M440.6 265.1h0M473.9 267.0h0M530.1 264.3h0M548.9 267.7h0M399.1 271.5h0M532.1 270.3h0M423.2 260.4h0M222.9 258.1h0M651.8 260.8h0M465.0 263.6h0M431.5 262.0h0M586.8 259.9h0M503.8 261.1h0M480.8 267.6h0M491.4 259.5h0M442.1 268.8h0M238.3 256.7h0M474.8 264.6h0M372.6 257.7h0M362.6 267.2h0M464.7 268.0h0M661.7 261.4h0M348.3 268.9h0M489.1 262.6h0M321.6 266.9h0M309.5 263.2h0M425.7 265.7h0M546.1 262.9h0M486.3 258.3h0M486.4 273.9h0M574.4 265.3h0M505.7 268.0h0M405.0 279.1h0M370.6 271.7h0M431.2 261.1h0M429.1 267.8h0M437.4 259.0h0M407.2 267.0h0M384.4 259.2h0M347.4 260.3h0M385.2 264.0h0M626.4 267.5h0M560.6 261.9h0M589.4 264.5h0M470.8 262.7h0M448.4 261.7h0M536.1 268.3h0M424.7 279.3h0M566.9 256.7h0M472.4 264.3h0M534.4 267.7h0M387.4 262.5h0M630.4 265.4h0M479.6 263.2h0M522.6 271.1h0M395.7 273.8h0M525.8 267.5h0M576.6 266.1h0M404.6 265.0h0M550.5 272.6h0M398.9 273.4h0M455.9 271.9h0M468.1 267.1h0M546.0 261.8h0M380.2 265.2h0M511.9 264.3h0M487.8 270.8h0M532.7 264.6h0M460.5 260.5h0M391.4 274.1h0M424.6 264.8h0M560.5 271.8h0M571.2 264.2h0M373.1 265.3h0M445.0 279.4h0M453.3 271.1h0M371.4 263.5h0M423.4 245.6h0M359.8 271.0h0M512.1 259.2h0M370.9 255.6h0M276.3 263.1h0M513.1 259.6h0M516.4 256.9h0M398.7 274.4h0M300.6 273.5h0M475.8 259.0h0M344.8 287.2h0M560.9 265.9h0M469.2 270.1h0M457.5 266.4h0M469.2 273.4h0M529.0 266.0h0M456.7 263.1h0M509.9 261.9h0M492.7 270.7h0M410.1 269.3h0M561.5 266.4h0M607.6 254.5h0M561.8 273.5h0M469.6 269.3h0M521.7 263.8h0M359.1 278.8h0M381.6 258.2h0M376.2 267.6h0M403.8 269.6h0M535.5 254.5h0M381.3 267.2h0M398.5 255.1h0M317.3 255.6h0M393.3 266.4h0M302.7 248.0h0M540.2 261.1h0M442.7 274.0h0M543.5 266.6h0M584.0 265.5h0M500.8 264.8h0M488.3 266.1h0M469.6 270.6h0M417.5 258.8h0M255.8 267.1h0M474.2 263.1h0M392.5 251.3h0M365.1 245.8h0M403.5 280.1h0M455.0 251.6h0M521.4 265.2h0M365.3 269.5h0M340.5 266.3h0M557.0 262.9h0M508.5 269.2h0M531.1 258.4h0M432.0 271.9h0M328.5 266.4h0M579.8 256.2h0M572.4 261.3h0M401.7 269.6h0M495.6 269.5h0M558.5 261.7h0M687.7 264.4h0M569.4 261.6h0M509.4 269.3h0M438.3 263.5h0M453.1 279.7h0M397.5 264.9h0M517.8 264.7h0M472.3 255.7h0M437.7 277.1h0M366.1 263.4h0M470.1 250.6h0M428.9 278.2h0M496.1 272.6h0M372.6 263.3h0M522.9 264.1h0M449.7 267.1h0M637.8 257.1h0M390.0 282.9h0M643.1 269.2h0M730.1 271.3h0M459.3 259.6h0M651.7 271.5h0M568.6 264.7h0M351.4 263.4h0M412.5 265.5h0M558.8 257.5h0M493.8 255.8h0M546.8 267.7h0M505.8 269.7h0M601.7 264.3h0M368.8 247.6h0M404.9 261.7h0M464.0 262.6h0M382.8 257.7h0M463.7 260.5h0M446.9 265.6h0M437.3 266.2h0M462.2 263.8h0M430.1 259.0h0M557.6 261.7h0M475.3 266.8h0M537.2 265.4h0M332.9 275.0h0M468.6 250.7h0M421.9 279.4h0M285.3 257.8h0M654.7 272.1h0M343.9 272.6h0M541.9 267.4h0M535.5 262.3h0M572.9 265.3h0M425.2 267.5h0M229.3 238.1h0M524.4 264.0h0M456.5 272.8h0M527.2 256.0h0M451.9 267.5h0M514.6 262.0h0M434.3 253.7h0M689.6 272.0h0M411.9 262.3h0M264.5 264.0h0M478.2 259.6h0M511.8 271.9h0M520.3 265.1h0M417.7 270.2h0M466.2 266.0h0M389.7 267.9h0M429.1 264.9h0M529.2 267.3h0M419.4 275.6h0M534.2 265.1h0M444.8 272.2h0M475.7 269.5h0M437.6 269.6h0M573.5 261.1h0M478.1 267.7h0M394.7 258.7h0M478.8 277.5h0M491.5 256.3h0M369.2 265.4h0M396.8 263.0h0M371.0 274.8h0M592.3 263.4h0M483.0 262.2h0M546.9 266.4h0M542.1 272.1h0M435.4 282.3h0M454.7 263.7h0M495.0 263.1h0M277.7 263.8h0M425.4 269.2h0M392.1 280.0h0M481.7 266.6h0M344.9 273.7h0M437.1 261.6h0M225.0 268.6h0M440.0 269.8h0M396.1 254.8h0M620.8 266.3h0M477.4 269.1h0M515.2 256.4h0M419.1 262.3h0M351.1 266.1h0M580.9 272.9h0M548.6 267.9h0M470.2 255.3h0M474.1 267.0h0M468.3 269.8h0M453.4 265.1h0M518.5 262.4h0M444.3 265.6h0M390.9 258.4h0M608.1 260.1h0M418.7 267.7h0M391.1 262.4h0M674.0 266.2h0M469.0 267.7h0M445.4 265.5h0M334.0 242.4h0M363.6 248.8h0M587.6 265.7h0M430.8 280.3h0M568.0 266.3h0M361.5 265.9h0M538.3 262.9h0M476.8 262.1h0M425.4 268.9h0M299.8 277.6h0M589.2 262.4h0M478.1 276.6h0M463.7 256.3h0M548.6 266.4h0M373.4 261.1h0M598.9 266.9h0M542.7 271.7h0M520.1 253.6h0M524.5 265.7h0M407.2 266.0h0M510.4 266.6h0M422.1 270.9h0M595.4 263.1h0M546.0 269.0h0M599.1 262.7h0M330.2 273.1h0M424.2 267.7h0M398.6 268.7h0M442.6 265.2h0M601.2 254.7h0M512.3 265.8h0M507.0 268.5h0M565.9 255.7h0M570.0 268.1h0M576.6 266.5h0M557.2 273.2h0M498.2 262.8h0M517.7 263.1h0M343.4 272.9h0M455.2 265.3h0M265.2 276.9h0M460.2 273.2h0M478.2 264.8h0M398.4 276.6h0M419.9 258.8h0M565.9 259.4h0M435.4 264.2h0M469.4 261.3h0M644.0 271.2h0M497.7 269.9h0M552.6 267.3h0M508.9 263.6h0M519.5 273.3h0M571.8 266.4h0M446.3 273.8h0M535.7 269.0h0M421.3 273.6h0M427.7 266.3h0M522.7 262.6h0M408.4 260.3h0M222.9 270.9h0M442.9 262.0h0M583.2 261.9h0M370.8 270.5h0M517.7 266.1h0M428.8 265.0h0M322.8 282.9h0M432.8 267.1h0M250.6 276.0h0M571.6 262.3h0M425.2 271.0h0M495.7 262.8h0M460.0 262.5h0M323.2 283.0h0M423.3 266.3h0M568.6 266.7h0M534.2 262.2h0M424.8 269.2h0M392.4 265.4h0M452.0 262.9h0M339.2 270.7h0M482.0 260.2h0M307.8 272.0h0M389.4 262.6h0M536.1 271.6h0M458.1 260.9h0M471.5 256.9h0M433.7 259.2h0M481.2 256.7h0M557.9 264.6h0M449.0 258.8h0M301.9 271.1h0M497.2 268.1h0M384.6 281.4h0M563.8 261.7h0M548.5 270.8h0M457.0 266.2h0M500.7 265.6h0M324.1 245.1h0M298.6 270.4h0M426.9 254.9h0M490.0 268.7h0M583.3 261.4h0M397.1 270.1h0M373.7 246.2h0M380.4 260.0h0M390.3 275.8h0M474.9 266.2h0M327.8 257.3h0M338.1 255.2h0M666.4 263.1h0M446.8 277.5h0M467.5 267.6h0M306.8 250.2h0M485.4 262.7h0M283.6 262.2h0M536.1 255.5h0M400.0 256.0h0M481.7 270.0h0M505.6 257.7h0M544.5 268.0h0M582.6 265.1h0M562.3 262.2h0M527.3 267.6h0M402.8 275.8h0M354.7 264.0h0M527.3 263.4h0M489.1 277.2h0M411.3 263.9h0M454.0 262.6h0M545.2 262.3h0M542.1 264.2h0M403.9 266.0h0M338.5 288.3h0M283.2 267.8h0M416.7 266.3h0M430.2 259.4h0M337.5 256.7h0M556.5 263.4h0M632.9 264.8h0M388.8 253.3h0M527.0 279.2h0M448.7 258.8h0M511.8 258.6h0M475.4 271.1h0M452.0 273.6h0M546.2 258.2h0M523.9 266.5h0M421.8 270.6h0M504.3 259.6h0M404.7 255.7h0M456.2 264.1h0M515.4 259.1h0M502.7 271.2h0M317.7 271.4h0M513.7 262.0h0M350.3 267.2h0M480.2 260.8h0M524.6 266.7h0M322.8 270.4h0M534.8 260.9h0M489.0 265.8h0M269.7 256.5h0M547.8 273.0h0M403.7 263.0h0M352.4 264.0h0M483.6 267.6h0M402.1 262.4h0M463.8 266.8h0M483.8 261.9h0M682.4 270.4h0M545.0 263.0h0M483.7 272.8h0M491.9 273.6h0M504.8 259.2h0M402.8 275.6h0M506.8 266.0h0M396.9 247.5h0M408.0 278.3h0M451.8 273.4h0M553.2 268.6h0M535.6 264.3h0M570.8 259.4h0M465.3 264.3h0M467.1 264.9h0M593.4 267.0h0M393.7 255.8h0M364.0 265.3h0M277.9 276.5h0M534.6 271.8h0M384.9 269.4h0M364.1 264.7h0M494.8 264.2h0M365.9 262.5h0M384.6 264.1h0M494.9 269.2h0M394.6 280.7h0M411.8 264.0h0M440.9 267.7h0M289.2 260.7h0M434.3 263.5h0M291.5 253.1h0M347.1 273.9h0M413.1 262.7h0M467.0 278.9h0M432.7 270.1h0M552.9 273.1h0M466.7 262.9h0M508.1 271.7h0M412.1 275.2h0M396.7 270.2h0M609.2 270.2h0M305.3 262.2h0M562.7 272.9h0M386.6 273.1h0M516.6 262.6h0M337.3 272.9h0M500.7 269.7h0M484.3 266.1h0M262.2 253.1h0M396.5 253.3h0M514.3 265.9h0M548.4 263.7h0M482.6 260.6h0M403.6 268.5h0M450.7 256.7h0M336.6 275.5h0M364.5 288.1h0M455.1 267.5h0M520.0 260.9h0M472.0 256.1h0M508.9 259.6h0M446.3 271.1h0M511.6 267.1h0M680.5 266.5h0M366.2 267.1h0M468.9 268.9h0M414.1 264.2h0M502.2 260.9h0M499.2 263.1h0M383.1 264.9h0M471.6 262.3h0M476.8 265.0h0M447.6 264.8h0M584.9 270.2h0M514.1 262.1h0M434.9 250.7h0M480.8 263.1h0M641.8 273.5h0M402.6 255.6h0M561.8 263.9h0M398.3 261.7h0M313.1 274.1h0M396.2 280.5h0M490.3 265.6h0M437.6 262.8h0M395.1 283.6h0M387.5 266.3h0M371.1 246.8h0M361.8 271.1h0M403.4 271.6h0M231.0 257.5h0M498.0 254.6h0M485.1 263.6h0M467.7 262.8h0M541.8 265.8h0M404.1 275.1h0M457.7 254.7h0M475.4 259.8h0M421.6 265.4h0M513.4 263.3h0M535.5 262.6h0M441.8 262.3h0M342.4 268.7h0M488.6 254.1h0M535.1 277.1h0M541.1 269.0h0M409.7 265.1h0M373.3 271.9h0M432.6 272.5h0M362.2 276.3h0M260.3 242.1h0M490.3 281.6h0M496.9 267.1h0M516.7 262.4h0M378.4 256.0h0M453.0 266.8h0M345.5 272.9h0M321.0 277.5h0M499.1 259.9h0M289.4 265.9h0M424.7 274.7h0M671.2 265.1h0M567.2 263.2h0M517.8 266.0h0M511.6 275.1h0M437.9 269.5h0M402.2 267.4h0M640.8 264.3h0M438.7 261.9h0M402.5 271.8h0M517.7 266.0h0M451.5 280.0h0M576.0 264.7h0M399.2 270.3h0M381.7 253.2h0M420.5 261.5h0M604.0 267.0h0M543.0 252.3h0M482.0 270.4h0M466.5 259.3h0M489.8 274.0h0M369.6 251.3h0M505.2 271.5h0M413.6 276.7h0M480.2 261.4h0M461.0 260.4h0M486.9 264.2h0M417.1 264.4h0M546.4 264.8h0M389.0 267.7h0M499.7 266.2h0M428.4 273.9h0M494.7 263.4h0M537.2 261.6h0M415.2 271.8h0M466.0 265.5h0M463.4 264.0h0M645.7 271.4h0M492.0 265.2h0M355.8 249.1h0M470.2 259.0h0M410.1 266.5h0M683.1 265.7h0M402.5 256.7h0M359.2 269.3h0M527.4 279.6h0M412.8 274.3h0M425.6 265.4h0M439.1 266.2h0M398.9 267.7h0M422.8 282.8h0M259.9 265.1h0M451.5 266.6h0M519.8 261.9h0M631.6 273.2h0M467.1 261.0h0M537.0 267.2h0M395.4 245.2h0M595.0 269.5h0M666.6 267.6h0M492.5 263.3h0M431.0 255.9h0M466.9 264.8h0M604.0 270.2h0M348.9 246.4h0M579.4 265.7h0M371.9 265.9h0M387.2 275.2h0M487.4 266.7h0M521.7 276.5h0M551.2 264.6h0M593.3 262.4h0M359.6 244.7h0M469.8 264.9h0M533.6 257.9h0M488.1 263.9h0M566.2 265.5h0M466.8 266.9h0M436.3 256.5h0M258.6 276.6h0M291.7 275.9h0M535.2 269.3h0M358.3 270.2h0M491.2 265.4h0M522.5 262.5h0M452.3 257.8h0M555.5 267.1h0M404.0 270.2h0M516.9 256.6h0M451.5 264.7h0M327.1 265.6h0M279.7 251.9h0M445.1 274.0h0M611.5 259.1h0M569.0 260.5h0M506.1 266.1h0M535.6 265.2h0M545.1 252.8h0M440.2 267.6h0M582.6 262.6h0M486.7 257.5h0M416.0 259.9h0M523.8 265.8h0M451.8 247.9h0M533.0 267.4h0M351.5 279.1h0M350.6 281.4h0M638.7 261.5h0M519.9 270.8h0M363.5 283.6h0M452.4 270.6h0M365.8 253.9h0M583.0 259.4h0M284.3 261.0h0M573.6 267.0h0M366.9 266.9h0M345.4 265.0h0M464.1 260.8h0M343.3 276.8h0M405.9 275.7h0M408.2 264.0h0M235.8 231.8h0M349.8 268.7h0M267.4 256.6h0M332.8 270.2h0M373.8 261.9h0M543.4 265.5h0M543.4 261.3h0M596.2 264.9h0M369.3 279.1h0M533.8 264.3h0M480.2 263.7h0M338.0 267.2h0M506.4 266.5h0M457.3 263.2h0M396.6 256.2h0M357.8 265.3h0M504.3 270.5h0M499.0 277.3h0M431.2 269.3h0M422.3 268.3h0M402.3 270.6h0M528.4 260.1h0M475.9 259.4h0M292.5 276.0h0M465.8 261.6h0M501.5 265.8h0M402.0 266.7h0M413.7 270.6h0M403.0 254.1h0M516.5 272.0h0M420.5 265.5h0M455.1 266.9h0M465.8 259.5h0M601.4 264.4h0M318.1 272.5h0M674.5 272.4h0M345.9 263.7h0M437.6 276.8h0M382.8 264.7h0M470.3 261.6h0M509.3 269.0h0M569.2 267.5h0M395.2 262.1h0M478.8 271.5h0M469.6 268.5h0M396.6 275.4h0M513.6 261.2h0M483.4 267.5h0M417.3 266.9h0M524.6 263.3h0M447.9 258.4h0M569.7 259.1h0M539.1 260.0h0M346.2 276.2h0M263.2 263.1h0M462.7 255.2h0M395.8 268.7h0M362.1 262.7h0M391.4 275.9h0M593.3 264.0h0M438.2 266.0h0M635.6 263.2h0M531.5 262.9h0M297.0 274.0h0M500.4 264.5h0M597.7 268.3h0M293.1 248.5h0M340.8 276.7h0M448.8 258.3h0M407.9 277.2h0M617.0 266.4h0M378.8 249.7h0M618.0 269.4h0M328.6 262.2h0M490.2 266.7h0M507.7 278.4h0M473.6 270.7h0M609.7 263.0h0M629.2 267.1h0M643.8 264.4h0M451.0 260.0h0M541.9 259.7h0M594.0 266.7h0M244.1 246.0h0M399.7 274.6h0M440.4 283.1h0M414.9 270.9h0M609.2 261.6h0M330.7 252.8h0M384.2 268.8h0M348.4 260.9h0M456.7 276.6h0M548.8 272.7h0M544.1 257.5h0M263.2 260.7h0M261.6 258.6h0M537.0 263.6h0M497.1 249.7h0M311.6 272.7h0M457.2 257.5h0M344.7 265.3h0M535.5 261.7h0M337.1 260.1h0M402.5 270.7h0M504.7 260.7h0M465.0 267.8h0M558.7 266.9h0M499.4 262.8h0M320.4 264.0h0M482.5 261.1h0M354.9 275.0h0M595.5 258.7h0M607.9 264.8h0M566.5 267.4h0M665.8 265.8h0M535.2 266.0h0M598.3 266.5h0M543.2 271.2h0M487.9 253.7h0M629.0 269.5h0M358.6 274.1h0M388.3 277.8h0M608.7 264.5h0M435.2 273.6h0M384.1 267.6h0M381.1 247.4h0M503.4 263.3h0M454.9 273.0h0M572.2 264.8h0M429.8 279.4h0M545.2 264.5h0M379.3 269.7h0M510.5 268.9h0M744.3 270.9h0M441.7 265.9h0M448.5 256.7h0M551.3 272.7h0M368.0 269.1h0M417.6 258.1h0M409.6 285.4h0M484.3 268.0h0M332.4 263.2h0M594.2 265.3h0M473.3 264.6h0M477.8 266.7h0M457.5 268.4h0M244.7 269.8h0M579.8 270.2h0M378.5 257.1h0M537.8 267.7h0M446.5 277.7h0M441.3 273.7h0M507.4 258.1h0M618.0 266.1h0M452.0 270.3h0M406.9 266.3h0M504.7 271.4h0M230.0 256.0h0M380.5 255.3h0M368.2 266.9h0M426.8 258.6h0M332.8 262.1h0M539.5 259.3h0M431.7 264.3h0M473.5 260.7h0M461.9 267.2h0M431.2 266.6h0M399.4 257.0h0M581.1 266.6h0M538.0 266.4h0M600.1 265.8h0M445.6 260.1h0M486.5 273.2h0M494.1 262.5h0M429.9 263.5h0M457.1 274.6h0M309.3 271.8h0M349.5 268.7h0M374.6 264.0h0M353.9 266.4h0M500.9 266.9h0M494.5 265.8h0M498.5 266.0h0M436.2 261.7h0M554.8 264.2h0M513.8 256.7h0M429.3 260.4h0M604.6 266.9h0M349.5 266.8h0M308.1 265.6h0M338.8 265.5h0M573.0 271.7h0M469.3 261.6h0M405.5 273.2h0M243.5 250.0h0M439.3 262.7h0M367.7 273.7h0M265.3 273.4h0M562.1 259.1h0M463.4 265.2h0M590.0 265.5h0M458.8 269.6h0M512.8 269.8h0M396.0 268.1h0M518.8 266.1h0M423.0 272.6h0M517.4 266.2h0M480.4 267.1h0M358.4 276.9h0M462.8 252.9h0M476.4 262.9h0M395.5 262.7h0M450.2 261.0h0M547.6 269.9h0M576.1 258.6h0M466.9 265.1h0M248.9 256.1h0M531.1 268.8h0M632.6 270.1h0M439.3 260.6h0M381.1 252.7h0M489.4 263.2h0M480.9 258.7h0M543.5 267.9h0M402.7 261.4h0M624.2 274.6h0M546.7 266.9h0M366.8 262.4h0M449.5 259.8h0M526.1 270.3h0M495.5 265.2h0M466.5 249.8h0M491.0 265.1h0M422.2 258.3h0M392.9 269.4h0M439.6 266.6h0M435.0 259.7h0M498.0 264.6h0M479.1 268.5h0M310.5 276.5h0M539.4 263.4h0M457.4 264.8h0M541.4 260.8h0M525.0 265.0h0M486.9 267.4h0M514.4 269.8h0M328.1 263.7h0M606.1 265.0h0M642.1 267.2h0M413.9 271.8h0M526.7 269.7h0M430.5 266.8h0M613.7 272.9h0M421.3 278.6h0M354.1 272.5h0M385.3 267.2h0M393.2 272.0h0M529.4 257.1h0M458.1 266.9h0M488.2 270.1h0M430.8 272.7h0M585.1 256.0h0M464.0 262.5h0M483.2 252.7h0M609.1 267.5h0M490.6 264.7h0M414.3 261.4h0M440.1 258.2h0M568.8 268.1h0M498.4 267.1h0M391.0 265.3h0M572.0 262.2h0M327.4 278.0h0M263.1 284.9h0M371.7 249.7h0M286.9 260.4h0M444.5 262.1h0M465.9 262.8h0M437.9 259.5h0M409.3 264.2h0M364.6 249.3h0M548.9 262.0h0M280.0 256.4h0M530.1 270.8h0M486.5 269.1h0M456.0 269.9h0M504.0 265.7h0M317.7 262.5h0M553.4 261.0h0M509.7 260.6h0M565.9 257.6h0M270.5 280.5h0M485.6 258.0h0M449.7 262.6h0M247.9 281.5h0M430.8 262.4h0M466.9 258.2h0M388.6 260.4h0M497.5 262.9h0M514.3 274.6h0M420.1 269.1h0M429.4 276.5h0M533.3 262.4h0M370.4 262.5h0M508.2 264.0h0M585.3 259.8h0M458.7 264.2h0M496.4 264.8h0M464.1 267.1h0M321.7 278.6h0M302.8 272.0h0M381.9 257.0h0M404.2 265.9h0M589.0 259.4h0M515.6 271.6h0M577.7 263.6h0M423.5 261.3h0M411.5 271.2h0M318.1 266.0h0M569.3 265.2h0M511.1 265.9h0M457.4 270.8h0M335.6 271.6h0M366.1 263.8h0M506.3 260.9h0M460.1 262.9h0M562.9 265.0h0M478.1 267.9h0M395.3 261.2h0M350.8 247.9h0M460.1 271.1h0M612.6 267.5h0M391.9 274.3h0M508.2 267.8h0M393.2 262.8h0M484.8 258.3h0M401.4 264.4h0M292.0 263.7h0M595.5 262.4h0M423.8 255.9h0M503.1 268.9h0M463.0 273.8h0M335.6 274.0h0M517.8 267.0h0M560.7 262.9h0M481.0 267.8h0M511.5 263.9h0M563.6 274.2h0M513.5 253.2h0M449.2 253.8h0M308.6 255.2h0M381.4 261.0h0M389.4 270.1h0M530.9 262.1h0M585.3 262.2h0M463.0 263.4h0M553.4 273.1h0M238.4 278.5h0M487.1 265.9h0M351.4 269.0h0M548.9 265.6h0M578.9 261.3h0M566.6 261.0h0M536.4 255.5h0M568.8 268.6h0M630.1 271.3h0M415.3 264.5h0M610.0 265.3h0M434.2 263.1h0M337.1 255.2h0M520.5 257.9h0M536.2 268.3h0M495.5 262.0h0M406.1 262.1h0M522.8 260.4h0M445.1 263.4h0M694.7 268.1h0M499.6 262.8h0M504.8 266.9h0M419.1 263.2h0M522.9 256.3h0M622.2 264.5h0M400.7 268.6h0M433.5 271.5h0M289.6 275.6h0M459.6 263.1h0M616.0 265.4h0M355.1 271.8h0M429.1 264.6h0M395.4 253.3h0M438.9 262.1h0M392.3 255.0h0M430.8 257.9h0M360.1 246.3h0M483.1 270.7h0M553.6 268.2h0M534.5 262.2h0M290.1 267.3h0M586.0 272.2h0M530.0 262.2h0M569.0 257.7h0M381.8 267.2h0M408.1 285.7h0M526.2 264.8h0M625.8 265.5h0M375.3 273.0h0M489.3 263.1h0M504.2 274.3h0M430.8 266.7h0M495.8 265.4h0M416.3 261.8h0M582.5 262.4h0M313.5 270.7h0M492.0 260.3h0M415.9 267.7h0M457.4 272.6h0M379.1 254.5h0M604.0 265.8h0M530.7 262.9h0M502.5 262.1h0M460.9 266.9h0M492.9 261.3h0M435.3 275.1h0M475.3 267.1h0M593.8 267.4h0M406.9 265.3h0M384.9 264.7h0M638.2 269.3h0M419.9 272.9h0M485.8 257.0h0M449.4 268.4h0M520.4 265.8h0M525.0 264.4h0M476.6 252.3h0M375.5 264.5h0M377.9 286.7h0M472.2 268.0h0M634.2 262.5h0M300.2 263.8h0M455.4 264.8h0M508.1 265.4h0M412.1 263.0h0M486.2 278.3h0M455.1 265.1h0M538.2 277.7h0M618.0 264.7h0M435.4 268.3h0M492.1 265.5h0M505.8 269.2h0M479.1 268.5h0M465.0 261.6h0M266.2 267.0h0M472.7 266.6h0M365.2 279.3h0M423.3 256.2h0M503.3 261.9h0M515.6 265.3h0M421.3 266.3h0M419.7 260.4h0M436.4 272.7h0M365.2 271.5h0M605.5 264.3h0M623.1 262.8h0M444.7 267.2h0M610.7 268.5h0M533.6 264.1h0M362.6 266.9h0M523.6 264.3h0M476.1 257.5h0M327.0 264.2h0M248.7 269.0h0M458.6 269.6h0M434.5 258.0h0M358.2 257.2h0M345.6 241.5h0M584.2 270.5h0M320.9 286.7h0M528.6 279.8h0M470.7 266.5h0M575.2 261.2h0M310.9 287.6h0M470.8 267.0h0M576.0 265.3h0M445.7 264.6h0M330.4 254.6h0M280.6 237.2h0M396.0 266.7h0M554.6 264.0h0M466.5 261.7h0M543.1 268.5h0M553.7 263.6h0M517.1 265.9h0M383.7 268.2h0M528.4 262.6h0M368.2 270.6h0M535.0 264.5h0M561.5 269.3h0M450.7 268.7h0M603.0 264.1h0M551.9 269.1h0M458.3 279.3h0M491.6 258.8h0M465.0 274.6h0M468.1 265.1h0M530.4 265.3h0M564.5 264.4h0M464.7 264.3h0M532.4 261.8h0M487.1 264.4h0M478.3 260.7h0M373.6 258.4h0M499.0 267.6h0M453.3 260.9h0M490.6 267.0h0M556.9 267.3h0M533.3 261.8h0M529.9 264.2h0M417.1 269.6h0M315.6 251.2h0M427.5 256.8h0M461.7 254.9h0M481.1 256.3h0M587.9 265.8h0M490.8 257.6h0M594.9 267.8h0M426.0 260.0h0M363.3 262.4h0M542.8 272.6h0M359.5 247.4h0M318.6 265.4h0M411.6 253.4h0M564.0 278.6h0M463.8 267.1h0M546.2 260.7h0M461.0 256.6h0M313.1 240.1h0M361.5 267.4h0M309.2 270.2h0M444.0 265.9h0M270.5 250.7h0M330.8 263.7h0M385.5 265.2h0M544.2 272.1h0M510.8 270.0h0M426.5 250.4h0M479.7 263.5h0M438.5 247.8h0M712.1 268.3h0M308.2 259.4h0M274.2 262.1h0M283.6 248.1h0M329.0 263.3h0M427.5 265.1h0M545.1 267.8h0M437.1 261.6h0M434.1 267.4h0M444.5 267.6h0M475.5 267.6h0M373.5 264.1h0M452.4 278.2h0M479.0 269.7h0M506.9 270.6h0M508.7 260.8h0M528.7 262.7h0M376.9 270.2h0M499.4 265.9h0M314.1 269.9h0M264.1 252.9h0M421.3 252.0h0M492.8 268.9h0M499.2 272.1h0M487.9 278.5h0M293.5 287.8h0M404.6 255.8h0M433.9 259.1h0M380.7 255.4h0M507.5 266.5h0M482.8 263.0h0M465.1 269.0h0M665.6 257.5h0M461.7 268.8h0M457.3 261.5h0M566.0 267.3h0M621.1 258.1h0M372.6 281.4h0M365.1 264.5h0M578.7 267.3h0M558.1 270.9h0M533.1 260.7h0M432.8 267.0h0M516.2 256.1h0M328.1 254.9h0M351.9 268.7h0M597.8 268.6h0M342.0 264.5h0M441.9 273.0h0M513.6 265.0h0M484.8 263.4h0M356.9 266.3h0M402.5 251.4h0M509.0 257.0h0M416.4 269.3h0M443.3 256.6h0M620.9 261.5h0M454.1 275.1h0M567.4 258.2h0M461.6 259.9h0M332.4 251.9h0M507.8 269.2h0M462.1 265.6h0M487.4 267.0h0M405.6 266.8h0M369.1 244.0h0M366.7 260.7h0M444.5 264.0h0M536.7 268.8h0M422.4 270.8h0M352.5 271.7h0M377.1 263.8h0M348.5 263.5h0M304.2 264.2h0M417.4 269.1h0M392.1 259.5h0M418.8 260.5h0M623.3 269.1h0M537.7 274.7h0M584.2 268.9h0M455.1 271.4h0M477.2 259.0h0M380.3 260.6h0M293.0 269.4h0M309.5 280.9h0M419.8 259.7h0M496.3 262.3h0M656.6 259.5h0M446.3 268.1h0M314.0 258.5h0M418.9 252.8h0M499.3 263.6h0M347.8 262.1h0M409.4 270.0h0M499.1 276.3h0M464.3 266.0h0M493.5 265.3h0M459.9 266.7h0M452.6 271.0h0M578.9 265.9h0M537.0 261.5h0M478.3 268.3h0M503.6 258.3h0M450.9 273.2h0M451.0 257.7h0M493.5 274.0h0M475.6 265.0h0M688.7 265.8h0M480.3 266.3h0M496.0 256.2h0M652.3 264.0h0M375.0 270.9h0M469.4 265.0h0M574.1 272.9h0M479.2 260.7h0M456.2 268.1h0M384.4 271.9h0M461.9 259.6h0M395.9 273.8h0M555.2 263.4h0M511.7 262.3h0M434.2 272.3h0M565.2 259.4h0M368.3 250.8h0M528.0 271.9h0M485.8 263.5h0M392.7 268.1h0M439.2 266.6h0M402.0 259.9h0M479.0 266.1h0M450.3 266.6h0M504.4 269.1h0M454.1 259.2h0M492.2 253.0h0M420.9 269.3h0M494.8 265.4h0M491.4 268.0h0M523.5 262.2h0M491.3 268.9h0M424.5 263.1h0M454.0 258.1h0M577.2 264.6h0M436.0 249.1h0M465.8 268.0h0M602.9 256.4h0M517.7 268.9h0M521.8 265.5h0M380.3 259.4h0M378.9 265.3h0M485.3 264.2h0M651.3 268.8h0M297.4 289.5h0M307.7 277.8h0M510.1 266.8h0M482.5 271.5h0M370.9 269.8h0M540.5 255.1h0M476.2 259.1h0M415.8 257.9h0M451.2 270.9h0M409.9 269.1h0M485.9 249.2h0M395.2 267.9h0M393.5 271.0h0M491.2 263.4h0M559.3 261.6h0M401.0 257.0h0M366.4 262.8h0M484.5 259.4h0M558.2 264.8h0M423.9 266.8h0M593.9 267.0h0M388.3 281.0h0M586.7 258.6h0M520.4 265.3h0M306.2 273.8h0M506.1 264.0h0M438.5 267.0h0M442.7 271.1h0M392.8 257.6h0M460.1 261.6h0M399.7 259.0h0M470.6 267.8h0M553.9 269.1h0M581.8 264.2h0M557.9 264.1h0M537.2 262.1h0M497.8 264.5h0M440.5 274.5h0M358.2 276.1h0M549.3 255.5h0M419.1 282.7h0M475.3 269.0h0M335.9 249.7h0M498.1 262.3h0M582.5 260.9h0M450.3 259.6h0M539.6 258.6h0M445.2 257.6h0M473.4 273.2h0M415.8 266.4h0M491.2 278.3h0M502.1 260.7h0M510.5 270.0h0M611.4 263.7h0M500.2 261.2h0M399.7 274.6h0M720.4 271.3h0M337.8 258.6h0M424.7 276.1h0M414.7 258.0h0M555.5 269.5h0M489.3 263.0h0M507.8 260.9h0M302.0 266.1h0M412.3 265.2h0M552.6 259.4h0M414.0 259.5h0M347.5 252.3h0M478.0 266.5h0M406.7 272.7h0M459.6 278.3h0M491.7 264.8h0M371.2 256.1h0M455.8 265.4h0M581.6 274.0h0M436.8 266.8h0M440.7 270.1h0M409.4 267.5h0M490.7 256.5h0M507.1 262.3h0M472.3 265.8h0M312.8 274.1h0M551.0 263.3h0M541.8 269.6h0M323.1 280.3h0M312.2 262.7h0M409.5 258.6h0M585.3 266.9h0M402.4 259.0h0M462.9 268.9h0M470.6 263.8h0M452.4 260.1h0M639.6 267.1h0M485.2 262.8h0M354.0 264.2h0M486.5 274.1h0M518.3 256.7h0M362.6 266.6h0M476.8 266.3h0M405.2 267.5h0M341.2 265.5h0M377.3 247.1h0M532.6 262.7h0M444.2 252.5h0M310.1 274.4h0M525.1 264.4h0M431.2 261.7h0M360.5 253.2h0M244.4 284.8h0M708.7 268.4h0M643.9 259.8h0M483.6 266.7h0M381.7 273.3h0M352.1 274.4h0M391.2 250.3h0M481.1 258.9h0M573.7 260.0h0M464.1 260.5h0M573.2 261.7h0M447.8 270.8h0M488.7 278.9h0M552.5 266.7h0M560.3 260.0h0M375.9 260.8h0M435.8 274.0h0M462.8 264.7h0M492.5 260.3h0M512.8 262.8h0M550.2 264.9h0M423.6 265.6h0M364.0 260.0h0M419.9 270.9h0M442.3 270.4h0M419.7 264.0h0M375.7 267.8h0M540.3 268.7h0M549.1 261.0h0M550.8 267.4h0M531.5 267.4h0M509.7 271.9h0M419.5 260.0h0M423.9 277.9h0M486.9 267.4h0M292.2 264.5h0M483.0 268.2h0M280.6 284.5h0M627.8 264.9h0M518.1 262.0h0M403.2 281.5h0M458.3 270.2h0M413.9 270.5h0M601.5 260.4h0M562.3 262.6h0M469.7 257.9h0M415.4 276.5h0M515.5 279.6h0M485.9 259.7h0M458.0 255.0h0M414.8 273.2h0M320.9 270.5h0M337.6 258.9h0M395.3 266.2h0M312.8 263.7h0M375.6 262.3h0M624.0 268.5h0M464.1 256.6h0M525.2 263.1h0M407.8 273.4h0M583.7 263.6h0M473.3 262.1h0M534.8 262.5h0M562.4 266.7h0M502.0 264.4h0M638.2 264.8h0M431.9 277.0h0M507.3 254.7h0M453.5 271.0h0M503.8 269.1h0M660.4 269.5h0M434.7 263.7h0M487.0 264.5h0M414.6 263.8h0M387.3 246.6h0M287.2 260.9h0M505.5 263.5h0M589.6 262.3h0M465.2 268.0h0M572.4 256.5h0M340.6 260.0h0M445.0 262.5h0M448.0 264.4h0M528.9 264.7h0M466.0 262.2h0M510.8 266.6h0M596.4 266.5h0M360.3 277.6h0M450.8 260.1h0M497.2 265.8h0M400.4 276.1h0M494.8 265.7h0M300.7 263.3h0M368.4 264.3h0M437.0 270.4h0M295.3 263.0h0M657.6 259.5h0M574.8 253.5h0M536.8 267.4h0M543.5 262.3h0M436.0 282.6h0M439.3 265.8h0M273.7 277.3h0M545.1 274.1h0M443.1 272.8h0M279.5 252.5h0M383.6 266.7h0M505.7 266.1h0M311.5 256.8h0M411.9 269.8h0M260.4 246.8h0M414.6 267.4h0M451.8 274.9h0M238.5 224.9h0M387.4 266.6h0M498.2 264.5h0M424.0 265.4h0M592.5 262.9h0M537.3 265.0h0M563.1 264.4h0M345.0 259.8h0M371.9 268.1h0M488.2 265.8h0M505.0 269.4h0M409.2 269.2h0M437.5 253.7h0M368.9 268.9h0M413.7 272.3h0M493.9 272.2h0M589.5 257.7h0M509.4 272.7h0M539.3 266.6h0M464.9 270.1h0M505.6 268.5h0M547.8 267.2h0M375.9 264.6h0M547.8 268.1h0M513.7 271.2h0M551.8 264.3h0M397.4 259.4h0M419.0 274.7h0M461.9 272.1h0M227.9 272.0h0M402.2 264.2h0M408.0 268.6h0M366.9 277.9h0M431.6 274.5h0M399.6 261.1h0M576.5 261.4h0M455.5 266.7h0M449.6 281.8h0M532.2 265.2h0M448.9 278.2h0M454.3 252.7h0M563.1 263.9h0M544.6 264.2h0M438.0 254.1h0M337.5 260.4h0M401.7 259.3h0M507.3 265.7h0M308.2 257.1h0M428.6 268.1h0M452.6 260.0h0M320.8 254.0h0M566.3 261.6h0M434.7 264.2h0M318.3 261.8h0M366.7 255.9h0M495.8 270.6h0M581.8 264.6h0M484.4 267.2h0M474.9 260.4h0M440.3 266.3h0M604.0 272.1h0M574.8 263.5h0M313.2 260.2h0M460.6 261.1h0M510.7 259.3h0M441.1 273.3h0M499.0 260.0h0M518.4 265.8h0M376.9 262.6h0M575.1 259.8h0M472.7 267.5h0M555.8 255.4h0M484.0 264.0h0M451.1 259.1h0M580.7 265.5h0M493.3 273.6h0M601.9 271.4h0M514.1 259.3h0M656.3 265.1h0M466.8 265.9h0M390.2 253.9h0M360.8 288.3h0M476.5 259.9h0M325.8 260.3h0M450.1 256.4h0M576.2 266.1h0M507.8 263.6h0M410.7 263.2h0M436.1 272.4h0M523.5 267.5h0M600.2 265.4h0M435.9 259.7h0M470.1 273.2h0M503.1 270.3h0M442.2 269.5h0M491.1 265.4h0M483.4 252.0h0M577.9 261.5h0M405.5 274.0h0M465.8 261.6h0M489.9 263.9h0M393.4 282.6h0M428.8 262.2h0M456.6 270.3h0M327.7 263.8h0M414.7 260.3h0M356.7 259.4h0M412.7 267.3h0M397.3 265.7h0M414.2 284.1h0M521.4 264.1h0M569.6 257.1h0M532.9 255.0h0M386.0 253.1h0M487.4 272.0h0M344.3 262.3h0M508.6 266.7h0M427.1 261.5h0M461.6 266.3h0M531.4 257.0h0M523.5 274.4h0M407.9 263.5h0M392.2 270.9h0M306.6 272.6h0M426.9 254.0h0M404.1 269.2h0M456.6 262.1h0M331.6 259.7h0M388.8 270.1h0M426.1 263.2h0M313.3 268.0h0M439.1 274.8h0M488.2 258.1h0M516.3 274.2h0M518.8 262.4h0M433.5 270.4h0M478.2 260.8h0M474.9 256.2h0M550.2 262.0h0M291.9 276.4h0M433.8 264.9h0M388.1 269.3h0M465.6 261.7h0M549.5 270.4h0M475.2 267.5h0M468.4 264.3h0M484.7 263.2h0M477.3 271.4h0M366.7 284.6h0M513.0 259.0h0M414.6 282.7h0M266.8 273.7h0M439.1 262.5h0M500.8 259.9h0M495.7 274.2h0M467.2 255.8h0M451.1 256.4h0M514.4 257.0h0M506.3 268.3h0M292.2 272.3h0M390.8 264.9h0M463.6 262.7h0M448.6 269.7h0M528.9 266.2h0M544.8 269.7h0M421.5 265.3h0M608.9 264.6h0M379.6 262.7h0M446.3 255.3h0M637.1 258.6h0M512.4 257.4h0M509.6 260.7h0M455.6 263.2h0M564.0 260.5h0M717.7 271.6h0M485.1 263.7h0M436.3 254.6h0M561.4 264.1h0M627.8 267.4h0M490.2 269.3h0M383.3 280.6h0M488.5 266.6h0M387.3 267.9h0M543.9 273.2h0M439.1 266.2h0M504.4 263.7h0M464.9 269.5h0M531.7 253.0h0M276.8 253.7h0M487.7 273.9h0M475.1 260.7h0M483.9 268.8h0M328.1 270.9h0M579.6 263.5h0M399.5 278.4h0M499.6 260.8h0M411.6 279.6h0M439.9 267.9h0M417.5 265.5h0M312.7 275.9h0M400.4 279.7h0M575.5 263.0h0M356.1 266.4h0M469.3 267.6h0M300.3 264.6h0M555.7 269.4h0M334.4 245.9h0M354.2 260.1h0M444.2 266.4h0M506.9 260.8h0M340.5 246.4h0M449.7 267.9h0M506.6 261.8h0M459.5 260.8h0M498.7 270.7h0M558.8 267.2h0M666.5 261.9h0M574.4 259.9h0M306.0 269.3h0M575.6 262.6h0M551.9 268.4h0M486.5 264.4h0M521.7 277.0h0M560.4 262.5h0M436.3 266.7h0M348.9 276.6h0M436.2 265.4h0M519.7 260.4h0M409.4 250.1h0M401.2 276.6h0M345.9 265.9h0M508.4 267.0h0M363.5 271.1h0M440.9 263.3h0M394.4 253.6h0M577.5 265.3h0M551.1 261.4h0M668.0 268.9h0M397.1 267.8h0M371.7 259.0h0M484.4 266.7h0M415.6 263.9h0M521.8 266.7h0M465.3 258.2h0M537.4 261.8h0M393.3 254.8h0M418.2 264.5h0M448.3 265.1h0M536.5 265.2h0M560.8 267.5h0M570.1 264.7h0M470.3 260.8h0M395.5 266.8h0M423.1 271.2h0M461.3 267.2h0M321.3 262.4h0M376.3 262.2h0M486.8 269.4h0M377.3 269.2h0M547.0 263.2h0M469.0 266.1h0M449.2 264.7h0M520.8 263.2h0M491.1 248.4h0M365.2 258.5h0M400.0 271.0h0M331.4 278.8h0M515.8 257.3h0M450.7 254.3h0M542.5 261.1h0M396.7 264.6h0M353.5 256.6h0M561.0 270.1h0M535.7 263.5h0M329.2 262.6h0M555.7 268.7h0M395.8 260.0h0M596.8 265.0h0M505.7 271.5h0M405.5 270.8h0M439.0 256.1h0M445.4 277.0h0M432.6 266.6h0M528.2 270.1h0M524.5 264.0h0M638.0 261.7h0M534.6 278.7h0M375.9 266.3h0M388.0 265.6h0M513.3 269.5h0M621.8 268.3h0M507.4 269.3h0M421.8 270.5h0M623.5 271.8h0M407.1 261.2h0M580.3 260.9h0M522.1 264.2h0M449.9 251.4h0M409.7 275.6h0M459.0 263.0h0M455.6 270.8h0M582.0 259.6h0M554.5 269.1h0M469.2 262.5h0M574.0 265.2h0M478.7 262.0h0M626.6 261.6h0M452.2 263.7h0M395.3 268.5h0M422.0 256.5h0M472.9 278.9h0M475.3 263.4h0M410.4 268.0h0M414.4 261.8h0M412.6 269.9h0M608.3 267.8h0M443.8 250.0h0M372.6 264.3h0M400.4 266.5h0M391.2 268.5h0M449.9 280.4h0M383.6 273.3h0M565.3 257.1h0M384.6 246.5h0M436.4 260.0h0M591.8 269.3h0M456.8 265.5h0M573.6 269.7h0M442.2 269.4h0M531.0 274.9h0M655.9 269.9h0M376.5 253.2h0M507.3 269.9h0M360.2 251.7h0M456.3 264.0h0M398.9 278.4h0M470.6 268.9h0M351.1 277.5h0M267.5 278.8h0M511.7 267.3h0M468.8 257.6h0M576.6 269.0h0M477.4 266.1h0M468.4 265.8h0M381.1 264.6h0M334.2 268.1h0M471.6 264.7h0M353.0 278.7h0M585.0 267.6h0M588.8 270.5h0M508.1 270.5h0M570.3 265.6h0M451.7 269.4h0M410.5 266.9h0M679.1 258.3h0M437.2 273.7h0M575.6 259.1h0M386.0 259.2h0M496.0 262.2h0M537.3 261.2h0M306.7 268.1h0M321.5 282.1h0M394.6 254.5h0M426.4 263.8h0M464.1 268.0h0M389.9 263.6h0M391.1 266.1h0M364.0 265.3h0M364.4 261.2h0M492.1 265.5h0M411.1 262.6h0M359.0 262.7h0M351.0 279.4h0M385.3 263.8h0M311.0 265.3h0M476.4 266.2h0M494.9 266.1h0M336.3 269.5h0M408.5 268.2h0M424.4 272.0h0M531.1 260.9h0M390.0 258.9h0M363.7 259.1h0M369.2 248.2h0M397.0 262.9h0M758.7 267.4h0M561.2 268.1h0M490.7 272.1h0M483.4 267.0h0M318.1 276.2h0M368.7 273.6h0M527.6 266.5h0M460.5 256.9h0M559.6 264.9h0M459.8 271.1h0M509.3 269.2h0M469.7 268.6h0M508.0 262.2h0M493.4 252.6h0M559.6 262.1h0M411.4 270.5h0M438.7 267.1h0M396.3 267.7h0M458.3 254.6h0M501.4 269.1h0M466.2 270.0h0M280.6 293.8h0M395.2 268.1h0M409.7 278.7h0M429.1 263.9h0M400.5 262.2h0M425.3 268.4h0M542.9 268.8h0M513.7 261.9h0M589.7 265.4h0M309.8 253.8h0M362.9 275.6h0M343.2 262.6h0M551.5 271.0h0M524.0 272.4h0M405.9 260.6h0M409.6 261.2h0M484.2 254.4h0M580.0 261.6h0M601.5 269.2h0M400.3 261.5h0M541.7 253.8h0M442.0 264.0h0M606.4 268.5h0M510.3 265.7h0M516.1 275.1h0M222.8 253.0h0M512.0 263.1h0M302.2 263.3h0M404.8 277.3h0M313.2 285.2h0M677.0 272.2h0M409.5 271.3h0M409.5 272.4h0M523.6 267.4h0M405.8 263.0h0M454.4 264.4h0M244.5 254.4h0M548.3 255.7h0M523.0 263.8h0M427.3 267.2h0M430.8 268.5h0M358.4 274.7h0M391.1 275.1h0M481.2 262.2h0M487.2 260.6h0M527.2 264.2h0M566.3 258.9h0M551.3 270.3h0M497.0 266.6h0M491.3 270.4h0M440.9 274.8h0M573.9 274.4h0M392.0 259.9h0M386.4 267.5h0M491.1 252.9h0M327.2 270.7h0M430.2 262.8h0M319.4 263.9h0M380.2 275.2h0M307.7 281.4h0M550.9 253.3h0M404.4 266.7h0M353.4 271.5h0M321.6 270.1h0M515.5 264.0h0M424.0 264.3h0M460.2 259.3h0M611.6 262.8h0M333.0 250.4h0M261.7 287.0h0M471.2 261.0h0M585.8 260.9h0M474.2 271.1h0M589.1 262.1h0M564.5 265.3h0M491.9 271.0h0M390.0 274.3h0M473.8 262.2h0M566.4 267.9h0M459.8 263.1h0M496.6 260.3h0M460.2 257.1h0M537.4 276.0h0M440.2 255.1h0M612.9 276.0h0M297.8 251.4h0M263.1 267.6h0M445.5 261.5h0M420.6 264.7h0M640.3 267.3h0M393.2 260.5h0M372.4 267.6h0M535.1 272.2h0M273.1 261.7h0M468.5 265.3h0M340.5 286.7h0M292.9 256.7h0M445.3 264.7h0M433.9 262.3h0M372.9 262.9h0M482.9 266.3h0M462.2 263.2h0M607.3 265.0h0M546.3 269.6h0M370.8 275.2h0M395.8 257.9h0M369.1 240.8h0M469.5 256.1h0M551.3 262.0h0M601.7 263.8h0M471.8 259.4h0M399.9 276.5h0M357.6 252.3h0M616.0 261.1h0M409.7 263.9h0M626.3 267.8h0M398.1 270.6h0M448.6 256.8h0M497.0 256.4h0M286.9 240.0h0M332.8 255.7h0M758.8 273.0h0M491.9 268.4h0M276.2 281.0h0M404.8 272.0h0M449.2 262.4h0M514.6 261.9h0M449.8 265.8h0M459.0 266.0h0M562.1 270.5h0M403.6 255.7h0M352.6 259.5h0M357.9 271.9h0M246.1 256.6h0M574.0 259.4h0M489.8 263.1h0M450.9 260.1h0M475.1 260.9h0M575.2 270.5h0M424.6 273.9h0M336.6 267.5h0M560.3 258.5h0M246.8 283.9h0M426.3 267.1h0M567.7 267.6h0M601.6 264.4h0M452.7 268.6h0M451.7 260.5h0M447.9 260.5h0M434.8 252.1h0M449.0 263.8h0M588.3 268.5h0M505.0 266.8h0M618.4 262.0h0M512.3 259.5h0M426.0 263.3h0M434.9 268.7h0M662.1 259.8h0M403.2 275.4h0M555.5 261.2h0M371.2 252.3h0M510.9 267.5h0M427.1 253.3h0M419.6 265.8h0M380.0 271.6h0M390.3 264.2h0M474.3 269.3h0M587.6 266.7h0M495.9 265.8h0M377.4 274.4h0M501.0 257.0h0M226.7 269.7h0M451.9 260.1h0M668.4 268.0h0M236.3 277.7h0M429.1 263.7h0M551.2 265.4h0M634.7 268.1h0M576.1 264.4h0M418.8 269.6h0M607.0 266.4h0M429.2 264.7h0M468.2 256.9h0M377.0 254.0h0M432.0 264.2h0M589.3 261.5h0M352.0 257.4h0M572.1 266.6h0M493.6 268.0h0M495.8 260.7h0M405.6 256.6h0M532.2 268.6h0M448.3 265.7h0M443.3 260.4h0M311.8 253.7h0M463.5 269.9h0M425.3 263.6h0M540.8 259.8h0M472.6 259.4h0M452.9 261.2h0M411.2 245.7h0M403.4 255.5h0M392.3 257.7h0M524.9 263.8h0M323.6 275.6h0M322.0 270.0h0M483.3 268.9h0M592.6 262.4h0M489.5 253.8h0M442.0 272.3h0M656.0 265.1h0M488.1 258.3h0M405.1 267.5h0M474.4 260.0h0M552.3 259.9h0M422.3 253.4h0M532.6 265.9h0M425.5 266.9h0M486.2 266.5h0M227.1 258.1h0M571.8 261.0h0M510.9 263.4h0M496.8 258.4h0M472.2 278.7h0M432.3 266.5h0M580.3 271.3h0M454.2 266.0h0M534.5 267.4h0M294.5 285.0h0M637.8 266.8h0M473.1 248.2h0M479.9 269.6h0M357.6 259.1h0M368.7 267.0h0M490.9 271.2h0M568.0 265.8h0M380.5 258.7h0M375.2 250.4h0M452.3 263.3h0M626.3 267.6h0M469.5 257.9h0M551.1 268.2h0M331.3 250.0h0M392.4 259.3h0M530.5 265.3h0M340.9 269.0h0M382.8 256.7h0M412.5 276.3h0M426.6 261.7h0M514.0 261.9h0M507.1 265.7h0M406.7 268.4h0M499.7 266.6h0M458.8 281.7h0M359.1 265.3h0M509.9 275.1h0M417.2 270.1h0M563.4 262.0h0M317.5 285.6h0M554.3 260.9h0M339.8 258.8h0M489.8 260.9h0M345.9 269.4h0M364.4 271.5h0M516.1 268.1h0M297.3 267.6h0M535.8 272.8h0M647.1 266.6h0M516.7 262.5h0M306.0 255.3h0M510.6 259.0h0M441.5 278.4h0M467.0 267.0h0M449.8 273.4h0M551.5 253.3h0M611.1 268.3h0M483.5 262.5h0M585.7 263.5h0M408.6 263.8h0M676.0 270.1h0M365.1 269.1h0M352.7 249.5h0M420.0 258.9h0M531.2 266.6h0M547.8 265.6h0M309.1 267.0h0M477.9 266.8h0M493.3 258.0h0M695.0 268.6h0M428.3 275.5h0M325.6 289.0h0M300.4 271.8h0M437.9 270.8h0M504.6 266.7h0M477.8 276.1h0M449.3 272.7h0M453.1 280.6h0M460.4 272.7h0M448.4 261.1h0M354.8 258.9h0M414.1 265.9h0M434.8 260.1h0M257.5 272.1h0M452.2 268.7h0M471.6 264.1h0M468.4 256.6h0M360.9 267.9h0M430.2 282.6h0M481.2 261.2h0M532.7 267.6h0M483.2 263.4h0M332.3 259.1h0M520.4 276.0h0M601.1 273.0h0M432.7 260.2h0M535.9 272.4h0M555.4 272.8h0M460.3 258.7h0M566.5 266.9h0M536.9 257.8h0M459.4 258.8h0M445.2 258.0h0M479.3 272.7h0M558.0 269.5h0M474.2 255.1h0M351.0 242.0h0M403.5 262.4h0M475.9 267.0h0M497.0 273.8h0M407.4 271.7h0M530.9 257.0h0M401.6 255.4h0M551.9 265.2h0M537.7 264.8h0M468.9 260.2h0M513.7 262.2h0M259.1 293.6h0M594.8 270.1h0M375.6 272.0h0M362.7 260.4h0M415.0 265.0h0M361.4 271.3h0M421.6 267.8h0M442.0 254.2h0M556.1 266.7h0M484.9 276.4h0M390.5 280.4h0M428.5 265.5h0M367.9 266.3h0M539.9 264.5h0M342.0 253.6h0M406.4 275.1h0M598.6 267.7h0M416.4 264.5h0M459.6 275.7h0M491.9 262.7h0M292.3 278.9h0M463.4 257.6h0M536.8 275.9h0M462.1 259.6h0M501.5 261.8h0M361.7 274.4h0M450.0 270.1h0M416.7 280.1h0M446.5 268.8h0M321.7 278.3h0M387.5 261.4h0M490.3 262.4h0M386.2 265.6h0M495.8 262.4h0M470.9 260.2h0M455.0 256.9h0M503.8 252.5h0M363.5 275.6h0M399.8 267.6h0M347.2 264.1h0M368.7 262.4h0M605.2 275.8h0M376.2 273.8h0M447.2 274.3h0M415.9 266.0h0M408.2 253.8h0M420.9 247.3h0M428.0 270.4h0M479.7 275.3h0M420.4 271.1h0M485.6 267.7h0M433.9 266.8h0M421.3 272.9h0M430.2 263.6h0M604.7 265.1h0M339.2 259.9h0M435.3 268.3h0M499.2 258.1h0M359.2 256.8h0M349.5 245.8h0M443.9 262.6h0M555.6 265.1h0M517.3 258.1h0M443.4 268.4h0M417.5 263.2h0M429.4 262.1h0M434.9 262.9h0M322.5 266.3h0M323.1 276.2h0M442.6 269.5h0M622.2 266.9h0M470.7 277.1h0M290.6 255.6h0M349.6 264.9h0M442.8 262.1h0M358.8 277.2h0M470.3 266.7h0M383.0 273.5h0M377.8 264.8h0M329.6 265.7h0M488.0 268.5h0M479.7 265.4h0M485.6 273.2h0M438.3 258.9h0M559.4 266.1h0M357.7 267.8h0M518.2 263.5h0M413.6 255.4h0M407.2 266.5h0M389.6 266.7h0M502.8 262.8h0M469.9 260.3h0M551.2 263.5h0M370.6 269.1h0M472.2 249.4h0M367.2 264.1h0M501.3 259.1h0M581.9 275.8h0M553.7 254.1h0M363.6 271.3h0M589.3 266.9h0M469.7 281.3h0M506.2 262.7h0M357.4 263.4h0M601.9 266.6h0M447.3 269.2h0M415.2 261.0h0M545.3 261.0h0M387.4 265.8h0M432.8 260.9h0M423.3 270.5h0M386.4 259.3h0M555.4 266.8h0M609.3 264.6h0M372.2 261.2h0M599.8 260.6h0M556.5 255.9h0M425.6 264.3h0M516.3 268.7h0M638.9 263.3h0M401.3 274.6h0M408.1 267.6h0M369.2 261.6h0M646.7 269.6h0M550.9 278.2h0M387.7 266.1h0M446.6 268.0h0M519.7 263.1h0M436.7 265.4h0M565.1 264.2h0M466.1 256.5h0M574.0 267.7h0M492.1 259.6h0M481.3 260.8h0M408.2 264.3h0M492.8 250.1h0M536.3 267.2h0M321.3 269.8h0M514.4 272.2h0M579.4 274.5h0M547.4 264.2h0M501.5 271.1h0M447.4 270.2h0M368.9 264.9h0M384.2 272.3h0M433.4 258.0h0M370.9 260.1h0M475.6 262.8h0M422.0 246.5h0M439.7 274.0h0M576.8 256.3h0M484.8 265.4h0M529.9 254.3h0M314.7 263.7h0M518.9 259.9h0M394.6 250.1h0M611.4 263.6h0M334.8 265.0h0M399.3 262.2h0M541.1 267.0h0M652.1 261.9h0M337.6 277.7h0M448.6 276.6h0M401.9 264.1h0M611.9 267.3h0M653.1 274.7h0M497.2 267.1h0M553.4 269.1h0M416.9 251.1h0M371.5 262.4h0M519.4 266.9h0M433.8 252.8h0M541.2 263.8h0M448.5 270.5h0M589.6 270.9h0M458.9 258.5h0M472.1 265.6h0M557.8 263.1h0M488.4 256.0h0M594.2 264.5h0M418.7 264.5h0M389.3 266.7h0M551.6 256.0h0M515.8 260.3h0M419.2 273.0h0M371.3 270.6h0M409.5 260.4h0M465.2 248.5h0M445.7 262.5h0M370.9 286.0h0M390.9 266.0h0M514.8 269.9h0M565.2 258.0h0M600.8 264.7h0M397.5 270.3h0M369.5 249.9h0M515.9 268.0h0M437.1 273.1h0M531.8 272.8h0M545.0 254.9h0M429.3 263.9h0M451.2 266.7h0M322.0 277.9h0M324.8 277.5h0M524.4 267.9h0M644.8 270.1h0M311.5 267.4h0M726.7 273.2h0M729.0 272.9h0M754.3 269.6h0M710.5 270.2h0M741.8 274.3h0M729.4 264.1h0M632.3 260.9h0M763.0 273.7h0M756.2 278.1h0M645.6 266.3h0M753.4 272.3h0M686.2 265.4h0M665.2 267.8h0M759.4 275.2h0M724.5 269.0h0M712.8 267.8h0M684.3 266.2h0M749.3 271.0h0M715.7 272.9h0M707.7 276.6h0M635.4 272.2h0M675.8 273.6h0M732.0 267.4h0M631.4 265.4h0M716.3 264.6h0M650.0 265.1h0M719.0 272.8h0M759.7 269.2h0M682.9 268.2h0M746.5 270.7h0M645.7 267.0h0M647.1 260.1h0M633.8 260.2h0M746.9 275.4h0M697.7 269.2h0M662.4 267.6h0M757.9 272.0h0M629.3 260.5h0M742.4 267.9h0M690.5 267.1h0M731.8 266.4h0M696.6 264.3h0M662.0 268.2h0M736.7 269.6h0M657.2 266.6h0M634.6 266.1h0M795.7 273.1h0M798.7 271.9h0M738.6 278.0h0M725.9 271.3h0M768.2 278.8h0M232.1 247.1h0M231.5 282.0h0M231.4 273.9h0M229.1 303.4h0M223.1 256.7h0M228.5 272.6h0M229.8 280.3h0M234.8 281.8h0M238.7 283.2h0M227.6 273.1h0M235.6 285.9h0M232.1 266.8h0M238.3 261.7h0M226.6 255.9h0M237.5 270.3h0M236.9 255.9h0M223.6 273.3h0M224.8 252.2h0M234.1 276.6h0M238.1 266.6h0M226.7 283.7h0M229.2 248.5h0M238.2 266.5h0M236.1 261.4h0M237.1 239.7h0M237.2 277.4h0M229.0 269.8h0M238.4 262.7h0M229.6 235.1h0M238.7 257.4h0M224.8 287.6h0M237.7 253.5h0M224.0 247.6h0M230.5 278.6h0M227.0 297.7h0M226.0 278.9h0M237.2 271.2h0M231.2 281.7h0M236.6 288.2h0M230.9 265.8h0M234.3 246.3h0M238.5 255.7h0M231.3 275.8h0M228.4 264.9h0M224.5 231.9h0M231.7 279.5h0M238.4 259.1h0M235.1 248.9h0M232.2 309.1h0M231.6 255.0h0M238.3 264.2h0M231.1 254.6h0M225.7 281.1h0M229.5 280.8h0M231.4 271.2h0M226.1 253.9h0M234.3 299.7h0M228.4 250.3h0M233.1 271.0h0M231.0 270.5h0M234.6 267.3h0M228.5 272.5h0M234.4 255.0h0M229.3 285.1h0M228.2 255.1h0M227.7 260.5h0M233.9 259.7h0M235.2 258.6h0M227.0 251.8h0M238.0 267.0h0M238.5 266.3h0M226.5 263.5h0M222.6 282.6h0M224.8 261.9h0M224.7 267.3h0M228.3 274.5h0M229.3 264.3h0M227.3 273.9h0M228.0 262.5h0M237.2 277.4h0M226.6 273.5h0M232.9 291.5h0M233.4 271.7h0M233.1 268.1h0M231.4 272.4h0M237.9 271.7h0M228.3 252.0h0M224.0 289.2h0M233.4 259.7h0M236.9 273.3h0M225.6 265.9h0M231.3 239.7h0M230.4 277.6h0M231.6 270.2h0M231.4 280.3h0M228.9 260.0h0M227.6 281.7h0M232.3 267.6h0M229.6 257.3h0M227.3 264.0h0M239.1 260.8h0M238.1 282.1h0M225.1 274.1h0M236.2 251.3h0M228.4 290.0h0M238.0 240.9h0M225.6 251.2h0M223.8 229.3h0M230.9 246.6h0M227.1 258.3h0M228.1 282.8h0M235.8 252.6h0M224.7 276.4h0M233.5 274.0h0M232.7 287.3h0M227.2 234.4h0M234.0 282.0h0M231.6 241.3h0M228.7 273.6h0M226.3 306.0h0M237.9 272.5h0M225.1 273.4h0M233.3 267.1h0M237.5 267.3h0M230.5 285.8h0M234.5 277.7h0M225.0 217.1h0M224.7 246.0h0M225.8 253.4h0M237.2 299.3h0M235.7 311.8h0M232.9 243.4h0M232.1 250.4h0M229.6 261.6h0M223.9 264.9h0M223.8 266.3h0M229.8 285.3h0M237.1 232.1h0M233.8 276.9h0M234.9 272.8h0M235.9 311.0h0M237.4 255.6h0M224.2 273.7h0M223.5 272.9h0M235.2 285.2h0M228.2 262.0h0M231.0 262.8h0M235.5 293.2h0M235.2 285.4h0M238.4 257.3h0M225.4 280.9h0M229.2 269.4h0M232.7 284.5h0M234.6 273.0h0M223.3 289.6h0M223.5 279.1h0M231.1 297.8h0M229.1 277.6h0M231.4 243.9h0M232.1 269.5h0M222.4 252.6h0M224.3 303.9h0M227.8 287.5h0M237.5 266.5h0M227.2 249.6h0M232.9 284.9h0M224.4 245.7h0M235.2 266.9h0M222.8 252.0h0M227.1 272.8h0M227.3 254.2h0M225.0 239.2h0M227.7 268.5h0M225.8 288.8h0M224.4 269.0h0M232.1 287.1h0M228.6 304.8h0M234.8 260.4h0M223.1 251.4h0M229.2 254.2h0M230.8 269.6h0M231.2 268.3h0M225.3 296.9h0M232.8 254.5h0M222.9 259.0h0M232.9 273.4h0M233.6 266.7h0M224.9 273.0h0M227.9 286.6h0M223.8 228.5h0M223.1 272.5h0M236.9 230.2h0M224.1 257.7h0M234.2 276.6h0M233.4 263.6h0M237.0 279.4h0M238.0 258.9h0M236.5 270.9h0M239.3 305.3h0M234.9 294.4h0M232.1 253.3h0M224.8 281.7h0M229.6 280.3h0M223.1 258.4h0M233.7 279.2h0M235.7 275.9h0M236.5 263.0h0M232.1 252.3h0M235.6 245.9h0M228.7 276.2h0M227.7 262.9h0M226.4 263.6h0M227.6 257.4h0M222.8 286.6h0M223.8 288.2h0M231.6 273.2h0M223.4 253.4h0M227.0 249.5h0M226.9 258.7h0M225.6 251.1h0M224.4 280.9h0M235.1 259.9h0M229.5 252.4h0M224.2 257.9h0M233.0 261.6h0M230.3 274.6h0M224.0 265.1h0M237.8 251.9h0M223.9 269.1h0M232.3 284.0h0M232.3 280.3h0M235.7 266.5h0M237.3 284.2h0M230.5 247.6h0M232.5 250.8h0M230.9 256.1h0M228.3 305.1h0M239.0 277.3h0M224.5 235.5h0M229.8 277.9h0M223.1 239.2h0M235.5 252.6h0M237.4 245.7h0M223.1 275.9h0M222.4 261.7h0M222.4 248.6h0M239.2 265.2h0M230.3 246.0h0M225.3 271.9h0M237.0 255.9h0M224.5 292.4h0M236.2 299.4h0M224.8 269.6h0M230.5 279.7h0M232.4 262.7h0M237.6 259.8h0M233.4 274.0h0M224.2 248.4h0M229.0 260.6h0M238.9 275.3h0M238.0 282.0h0M229.5 280.7h0M231.6 296.0h0M238.1 263.8h0M235.5 253.2h0M235.7 256.4h0M225.4 260.4h0M234.1 256.8h0M223.6 257.1h0M232.1 274.5h0M231.9 236.2h0M235.3 276.1h0M238.7 257.0h0M235.6 257.0h0M222.6 267.0h0M228.1 252.4h0M233.8 253.6h0M230.3 291.1h0M238.8 279.9h0M234.2 265.2h0M238.1 267.5h0M234.3 264.6h0M235.8 243.8h0M230.5 303.7h0M233.8 265.4h0M234.5 254.0h0M230.4 265.8h0M223.5 271.1h0M238.9 270.1h0M230.3 233.4h0M223.2 274.8h0M230.5 259.9h0M226.6 251.4h0M237.1 271.6h0M237.0 235.6h0M237.6 280.6h0M229.9 256.4h0M224.4 282.7h0M234.3 243.0h0M234.8 246.7h0M230.3 282.8h0M230.4 266.3h0M223.5 257.9h0M239.1 278.6h0M230.1 248.9h0M236.6 255.4h0M226.9 284.3h0M237.1 264.3h0M238.8 273.9h0M232.9 237.2h0M232.1 281.0h0M232.2 269.5h0M233.6 221.5h0M226.2 263.0h0M226.8 277.5h0M228.4 271.4h0M226.7 287.8h0M234.9 276.7h0M224.5 261.9h0M227.3 276.3h0M230.8 290.7h0M229.9 263.5h0M237.0 269.6h0M236.8 265.2h0M236.5 270.6h0M225.5 274.1h0M232.7 298.6h0M231.8 270.2h0M234.8 282.1h0M236.1 242.5h0M229.3 260.3h0M236.1 257.1h0M226.3 257.7h0M223.1 274.8h0M238.5 275.5h0M239.1 263.3h0M230.8 261.2h0M235.8 272.6h0M232.2 286.2h0M230.1 272.7h0M236.2 277.5h0M230.7 292.2h0M224.0 257.5h0M235.8 293.2h0M233.8 275.1h0M223.8 268.5h0M238.5 276.3h0M235.9 280.1h0M231.2 286.3h0M230.4 265.3h0M232.8 270.1h0M228.6 282.7h0M232.3 260.3h0M237.2 273.9h0M230.8 264.1h0M228.3 227.4h0M228.7 265.4h0M234.0 286.1h0M234.5 274.1h0M229.1 255.5h0M233.5 218.8h0M233.6 264.2h0M235.4 277.8h0M223.6 262.9h0M233.9 261.7h0M225.3 255.9h0M238.9 301.9h0M223.8 271.0h0M233.1 259.0h0M236.3 299.7h0M235.6 272.6h0M232.0 269.1h0M231.1 237.9h0M233.0 265.3h0M229.9 262.4h0M226.4 270.7h0M235.6 288.0h0M232.7 289.7h0M226.0 264.3h0M233.9 235.7h0M238.2 247.2h0M236.0 273.3h0M237.8 269.0h0M223.6 298.6h0M235.3 278.9h0M228.4 256.9h0M230.5 248.0h0M231.4 267.7h0M224.8 270.9h0M227.1 253.1h0M236.4 264.7h0M233.8 240.1h0M232.6 304.1h0M233.4 268.1h0M234.9 259.8h0M223.6 289.1h0M232.6 263.1h0M235.4 249.0h0M230.5 236.8h0M227.8 247.2h0M235.9 260.6h0M228.0 252.0h0M228.3 259.1h0M237.8 293.2h0M232.0 264.6h0M227.5 269.5h0M237.2 303.8h0M224.6 245.2h0M235.5 303.2h0M232.8 276.1h0M237.3 272.3h0M239.2 257.4h0M237.4 270.3h0M234.8 266.3h0M229.0 273.1h0M230.8 288.6h0M236.7 263.0h0M225.9 256.0h0M224.0 268.2h0M233.9 286.2h0M233.3 270.9h0M225.4 276.2h0M232.0 273.7h0M233.0 263.4h0M227.0 267.0h0M231.4 311.2h0M225.3 263.4h0M230.0 294.8h0M233.5 276.1h0M223.6 252.3h0M223.1 276.9h0M223.7 283.3h0M231.2 278.5h0M223.6 298.4h0M232.9 261.2h0M235.9 261.5h0M236.8 244.4h0M231.3 278.1h0M228.3 273.8h0M233.5 263.2h0M239.1 270.1h0M227.8 263.0h0M223.2 236.9h0M238.8 285.9h0M222.9 259.5h0M238.4 267.0h0M232.3 268.6h0M236.0 243.0h0M223.8 242.7h0M237.1 230.2h0M239.0 264.7h0M229.1 245.3h0M232.4 239.4h0M232.8 264.1h0M235.8 231.9h0M224.3 252.9h0M226.3 248.7h0M223.8 244.7h0M237.3 275.5h0M238.9 258.7h0M231.6 283.5h0M231.7 273.8h0M235.6 232.7h0M228.1 255.8h0M238.5 282.2h0M224.9 270.2h0M226.2 281.0h0M237.5 285.7h0M229.5 261.8h0M234.7 254.5h0M227.5 246.4h0M236.3 288.3h0M237.0 245.1h0M236.5 272.0h0M238.3 263.0h0M236.9 260.8h0M231.2 259.6h0M222.6 249.8h0M232.7 272.2h0M223.4 271.6h0M229.7 272.6h0M231.0 263.4h0M239.1 256.8h0M224.4 249.1h0M232.3 293.0h0M223.8 277.6h0M223.9 264.0h0M224.7 238.5h0M239.2 247.1h0M223.4 234.2h0M235.8 257.9h0M225.8 284.1h0M230.9 263.9h0M229.2 276.8h0M239.2 263.6h0M236.3 269.9h0M225.3 279.4h0M235.3 271.6h0M232.1 265.0h0M227.8 261.1h0M231.9 257.7h0M227.6 259.1h0M237.8 257.9h0M224.9 269.5h0M226.5 251.5h0M231.0 289.4h0M229.2 272.6h0M223.1 267.8h0M223.5 247.4h0M233.1 255.4h0M239.0 251.8h0M232.7 284.9h0M227.6 253.2h0M236.7 268.0h0M229.6 277.4h0M230.2 268.0h0M236.8 260.5h0M233.2 276.9h0M231.3 274.0h0M236.3 266.3h0M226.0 180.4h0M240.0 214.0h0M251.0 216.0h0" stroke="#0a0a0a" stroke-width="3.4" stroke-linecap="round" fill="none"/>
<g fill="#da2a1c"><circle cx="326.3" cy="96" r="5.1"/><circle cx="228.6" cy="151.6" r="5.1"/><circle cx="397.4" cy="144.4" r="5.1"/><circle cx="335" cy="161.4" r="5.1"/><circle cx="390" cy="173.4" r="5.1"/><circle cx="407.6" cy="176.2" r="5.1"/><circle cx="376.2" cy="181.8" r="5.1"/><circle cx="374.2" cy="190" r="5.1"/><circle cx="387" cy="198.2" r="5.1"/><circle cx="230" cy="196" r="5.1"/><circle cx="251.4" cy="202.6" r="5.1"/><circle cx="268" cy="207" r="5.1"/><circle cx="273" cy="205.6" r="5.1"/><circle cx="280" cy="208.4" r="5.1"/><circle cx="308.2" cy="203" r="5.1"/><circle cx="374" cy="203.6" r="5.1"/><circle cx="344.8" cy="208.8" r="5.1"/><circle cx="387.4" cy="212.4" r="5.1"/><circle cx="272.8" cy="218" r="5.1"/><circle cx="315" cy="219" r="5.1"/><circle cx="313" cy="224.4" r="5.1"/><circle cx="322" cy="223" r="5.1"/><circle cx="329.6" cy="223.4" r="5.1"/><circle cx="343" cy="222" r="5.1"/><circle cx="344" cy="227.6" r="5.1"/><circle cx="378" cy="230.6" r="5.1"/><circle cx="396" cy="228.4" r="5.1"/><circle cx="400" cy="228.4" r="5.1"/><circle cx="430" cy="234.6" r="5.1"/><circle cx="455.4" cy="238.6" r="5.1"/><circle cx="472.4" cy="234" r="5.1"/><circle cx="497" cy="235" r="5.1"/><circle cx="505.6" cy="218" r="5.1"/><circle cx="512" cy="225" r="5.1"/><circle cx="518.6" cy="223.6" r="5.1"/><circle cx="527.4" cy="232" r="5.1"/><circle cx="545.8" cy="215.2" r="5.1"/><circle cx="552.8" cy="241" r="5.1"/></g>
<g fill="#404ba8"><circle cx="232" cy="321" r="5.1"/><circle cx="236" cy="323.6" r="5.1"/><circle cx="248" cy="316" r="5.1"/><circle cx="263" cy="319" r="5.1"/><circle cx="267" cy="310" r="5.1"/><circle cx="272" cy="314" r="5.1"/><circle cx="278" cy="310" r="5.1"/><circle cx="276" cy="322" r="5.1"/><circle cx="289" cy="312" r="5.1"/><circle cx="288" cy="318" r="5.1"/><circle cx="294" cy="319" r="5.1"/><circle cx="299" cy="318" r="5.1"/><circle cx="305" cy="316" r="5.1"/><circle cx="308" cy="310" r="5.1"/><circle cx="310" cy="305" r="5.1"/><circle cx="314" cy="304" r="5.1"/><circle cx="316" cy="310" r="5.1"/><circle cx="306" cy="305" r="5.1"/><circle cx="302" cy="312" r="5.1"/><circle cx="324.4" cy="310.6" r="5.1"/><circle cx="334.4" cy="306" r="5.1"/><circle cx="343" cy="310" r="5.1"/><circle cx="349" cy="314" r="5.1"/><circle cx="356" cy="300" r="5.1"/><circle cx="362" cy="304" r="5.1"/><circle cx="368" cy="303" r="5.1"/><circle cx="356" cy="308" r="5.1"/><circle cx="379" cy="295" r="5.1"/><circle cx="390" cy="296" r="5.1"/><circle cx="380" cy="304" r="5.1"/><circle cx="379" cy="314" r="5.1"/><circle cx="390" cy="316" r="5.1"/><circle cx="396" cy="308" r="5.1"/><circle cx="402" cy="292" r="5.1"/><circle cx="410" cy="298" r="5.1"/><circle cx="416" cy="290" r="5.1"/><circle cx="420" cy="296" r="5.1"/><circle cx="424" cy="299" r="5.1"/><circle cx="414" cy="310" r="5.1"/><circle cx="418" cy="314" r="5.1"/><circle cx="412" cy="304" r="5.1"/><circle cx="434" cy="291" r="5.1"/><circle cx="440" cy="290" r="5.1"/><circle cx="383" cy="300" r="5.1"/><circle cx="386" cy="308" r="5.1"/><circle cx="393" cy="302" r="5.1"/><circle cx="399" cy="312" r="5.1"/><circle cx="405" cy="300" r="5.1"/><circle cx="407" cy="310" r="5.1"/><circle cx="411" cy="318" r="5.1"/><circle cx="420" cy="306" r="5.1"/><circle cx="422" cy="311" r="5.1"/><circle cx="416" cy="302" r="5.1"/><circle cx="398" cy="296" r="5.1"/><circle cx="384" cy="291" r="5.1"/><circle cx="362" cy="297" r="5.1"/><circle cx="369" cy="296" r="5.1"/><circle cx="371" cy="301" r="5.1"/><circle cx="395" cy="290" r="5.1"/><circle cx="405" cy="306" r="5.1"/><circle cx="452" cy="292" r="5.1"/><circle cx="458" cy="293" r="5.1"/><circle cx="467" cy="289" r="5.1"/><circle cx="471" cy="297" r="5.1"/><circle cx="480" cy="300" r="5.1"/><circle cx="487" cy="308" r="5.1"/><circle cx="507" cy="287.6" r="5.1"/><circle cx="503" cy="297" r="5.1"/><circle cx="514" cy="295" r="5.1"/><circle cx="515" cy="306" r="5.1"/><circle cx="522.4" cy="304.4" r="5.1"/><circle cx="546" cy="286.6" r="5.1"/><circle cx="551.4" cy="288" r="5.1"/><circle cx="598.8" cy="293.6" r="5.1"/><circle cx="622" cy="291.2" r="5.1"/><circle cx="680.4" cy="291" r="5.1"/><circle cx="224" cy="340" r="5.1"/><circle cx="236" cy="341" r="5.1"/><circle cx="239" cy="338" r="5.1"/><circle cx="258" cy="346" r="5.1"/><circle cx="228" cy="356" r="5.1"/><circle cx="236" cy="363" r="5.1"/><circle cx="242" cy="361" r="5.1"/><circle cx="248" cy="360" r="5.1"/><circle cx="224" cy="371" r="5.1"/><circle cx="267" cy="368" r="5.1"/><circle cx="272" cy="332" r="5.1"/><circle cx="282" cy="334" r="5.1"/><circle cx="292" cy="334" r="5.1"/><circle cx="294" cy="332" r="5.1"/><circle cx="308" cy="328.6" r="5.1"/><circle cx="306" cy="351" r="5.1"/><circle cx="313" cy="356" r="5.1"/><circle cx="321" cy="350" r="5.1"/><circle cx="342" cy="357" r="5.1"/><circle cx="343" cy="368" r="5.1"/><circle cx="355" cy="325" r="5.1"/><circle cx="361" cy="332" r="5.1"/><circle cx="387" cy="334" r="5.1"/><circle cx="374.4" cy="382.4" r="5.1"/><circle cx="476" cy="341" r="5.1"/><circle cx="257.5" cy="383" r="5.1"/><circle cx="282.4" cy="393.3" r="5.1"/><circle cx="289.7" cy="411" r="5.1"/><circle cx="255.5" cy="421" r="5.1"/><circle cx="271.3" cy="446.6" r="5.1"/><circle cx="477" cy="529.6" r="5.1"/><circle cx="313" cy="599.4" r="5.1"/></g>
<rect x="198.6" y="75.6" width="622.9" height="544" fill="none" stroke="#222" stroke-width="2"/>
<line x1="185.3" y1="121.3" x2="198.6" y2="121.3" stroke="#222" stroke-width="2"/>
<text transform="translate(167.7,113.6) rotate(-90)" font-size="31.9" text-anchor="end">5</text>
<line x1="185.3" y1="263.6" x2="198.6" y2="263.6" stroke="#222" stroke-width="2"/>
<text transform="translate(167.7,264.1) rotate(-90)" font-size="31.9" text-anchor="middle">0</text>
<line x1="185.3" y1="405.9" x2="198.6" y2="405.9" stroke="#222" stroke-width="2"/>
<text transform="translate(167.7,394.6) rotate(-90)" font-size="31.9" text-anchor="end"><tspan font-size="23">−</tspan>5</text>
<line x1="185.3" y1="548.2" x2="198.6" y2="548.2" stroke="#222" stroke-width="2"/>
<text transform="translate(167.7,525.8) rotate(-90)" font-size="31.9" text-anchor="end"><tspan font-size="23">−</tspan>10</text>
<line x1="222.4" y1="619.6" x2="222.4" y2="633.2" stroke="#222" stroke-width="2"/>
<text x="222.4" y="667" font-size="31.9" text-anchor="middle">0</text>
<line x1="307" y1="619.6" x2="307" y2="633.2" stroke="#222" stroke-width="2"/>
<text x="307" y="667" font-size="31.9" text-anchor="middle">2</text>
<line x1="391.6" y1="619.6" x2="391.6" y2="633.2" stroke="#222" stroke-width="2"/>
<text x="391.6" y="667" font-size="31.9" text-anchor="middle">4</text>
<line x1="476.3" y1="619.6" x2="476.3" y2="633.2" stroke="#222" stroke-width="2"/>
<text x="476.3" y="667" font-size="31.9" text-anchor="middle">6</text>
<line x1="560.9" y1="619.6" x2="560.9" y2="633.2" stroke="#222" stroke-width="2"/>
<text x="560.9" y="667" font-size="31.9" text-anchor="middle">8</text>
<line x1="645.5" y1="619.6" x2="645.5" y2="633.2" stroke="#222" stroke-width="2"/>
<text x="645.5" y="667" font-size="31.9" text-anchor="middle">10</text>
<line x1="730.1" y1="619.6" x2="730.1" y2="633.2" stroke="#222" stroke-width="2"/>
<text x="730.1" y="667" font-size="31.9" text-anchor="middle">12</text>
<line x1="814.7" y1="619.6" x2="814.7" y2="633.2" stroke="#222" stroke-width="2"/>
<text x="814.7" y="667" font-size="31.9" text-anchor="middle">14</text>
<text x="473.6" y="716.5" font-size="31.9" text-anchor="middle">Average Log2 CPM</text>
<text transform="translate(123.8,338.2) rotate(-90)" font-size="31.9" text-anchor="middle">Log2 fold change</text>
<circle cx="599.5" cy="494.2" r="4.6" fill="#da2a1c"/>
<circle cx="599.5" cy="538.3" r="1.8" fill="#111"/>
<circle cx="599.5" cy="580.6" r="4.6" fill="#404ba8"/>
<text x="615.2" y="507" font-size="31.9">Up in WT</text>
<text x="615.2" y="548.1" font-size="31.9">Not sig.</text>
<text x="615.2" y="592.5" font-size="31.9">Down in WT</text>
<text x="1140.3" y="40.9" font-size="57" font-weight="bold">B</text>
<text x="1577" y="122.3" font-size="31.9" text-anchor="middle">Transcriptional abundance</text>
<text x="1582" y="159.3" font-size="31.9" text-anchor="middle">(fold change)</text>
<text x="1469.3" y="221.4" font-size="31.9" text-anchor="middle">Down in WT</text>
<text x="1688.6" y="221.4" font-size="31.9" text-anchor="middle">Up in WT</text>
<line x1="1359.3" y1="287.6" x2="1359.3" y2="311.4" stroke="#111" stroke-width="2.4"/>
<text x="1366.4" y="269.2" font-size="31.5" text-anchor="middle">&gt;−20</text>
<line x1="1467.9" y1="287.6" x2="1467.9" y2="311.4" stroke="#111" stroke-width="2.4"/>
<text x="1472" y="269.2" font-size="31.5" text-anchor="middle">−10</text>
<line x1="1577.7" y1="287.6" x2="1577.7" y2="311.4" stroke="#111" stroke-width="2.4"/>
<text x="1580.8" y="269.2" font-size="31.5" text-anchor="middle">0</text>
<line x1="1687.4" y1="287.6" x2="1687.4" y2="311.4" stroke="#111" stroke-width="2.4"/>
<text x="1692.5" y="269.2" font-size="31.5" text-anchor="middle">10</text>
<line x1="1796.6" y1="287.6" x2="1796.6" y2="311.4" stroke="#111" stroke-width="2.4"/>
<text x="1801.2" y="272.4" font-size="31.5" text-anchor="middle">&gt;20</text>
<line x1="1335.8" y1="344.8" x2="1359.3" y2="344.8" stroke="#111" stroke-width="2.4"/>
<text x="1328.6" y="356.8" font-size="32.6" text-anchor="end">Gprc5b</text>
<line x1="1335.8" y1="378.8" x2="1359.3" y2="378.8" stroke="#111" stroke-width="2.4"/>
<text x="1328.6" y="390.8" font-size="32.6" text-anchor="end">Rps15a-ps8</text>
<line x1="1335.8" y1="412.8" x2="1359.3" y2="412.8" stroke="#111" stroke-width="2.4"/>
<text x="1328.6" y="424.8" font-size="32.6" text-anchor="end">Lad1</text>
<line x1="1335.8" y1="446.8" x2="1359.3" y2="446.8" stroke="#111" stroke-width="2.4"/>
<text x="1328.6" y="458.8" font-size="32.6" text-anchor="end">Gpat2</text>
<line x1="1335.8" y1="480.8" x2="1359.3" y2="480.8" stroke="#111" stroke-width="2.4"/>
<text x="1328.6" y="492.8" font-size="32.6" text-anchor="end">Ttn</text>
<line x1="1335.8" y1="514.8" x2="1359.3" y2="514.8" stroke="#111" stroke-width="2.4"/>
<text x="1328.6" y="526.8" font-size="32.6" text-anchor="end">Ccl22</text>
<line x1="1335.8" y1="548.8" x2="1359.3" y2="548.8" stroke="#111" stroke-width="2.4"/>
<text x="1328.6" y="560.8" font-size="32.6" text-anchor="end">Zc3h12c</text>
<line x1="1335.8" y1="582.8" x2="1359.3" y2="582.8" stroke="#111" stroke-width="2.4"/>
<text x="1328.6" y="594.8" font-size="32.6" text-anchor="end">Gbp2b</text>
<line x1="1335.8" y1="616.8" x2="1359.3" y2="616.8" stroke="#111" stroke-width="2.4"/>
<text x="1328.6" y="628.8" font-size="32.6" text-anchor="end">Rnf165</text>
<line x1="1335.8" y1="650.8" x2="1359.3" y2="650.8" stroke="#111" stroke-width="2.4"/>
<text x="1328.6" y="662.8" font-size="32.6" text-anchor="end">Tanc2</text>
<line x1="1335.8" y1="684.8" x2="1359.3" y2="684.8" stroke="#111" stroke-width="2.4"/>
<text x="1328.6" y="696.8" font-size="32.6" text-anchor="end">Dse</text>
<line x1="1335.8" y1="718.8" x2="1359.3" y2="718.8" stroke="#111" stroke-width="2.4"/>
<text x="1328.6" y="730.8" font-size="32.6" text-anchor="end">Lifr</text>
<line x1="1335.8" y1="752.8" x2="1359.3" y2="752.8" stroke="#111" stroke-width="2.4"/>
<text x="1328.6" y="764.8" font-size="32.6" text-anchor="end">Serpina3f</text>
<line x1="1335.8" y1="786.8" x2="1359.3" y2="786.8" stroke="#111" stroke-width="2.4"/>
<text x="1328.6" y="798.8" font-size="32.6" text-anchor="end">Ccr4</text>
<line x1="1335.8" y1="820.8" x2="1359.3" y2="820.8" stroke="#111" stroke-width="2.4"/>
<text x="1328.6" y="832.8" font-size="32.6" text-anchor="end">Mfhas1</text>
<line x1="1335.8" y1="854.8" x2="1359.3" y2="854.8" stroke="#111" stroke-width="2.4"/>
<text x="1328.6" y="866.8" font-size="32.6" text-anchor="end">Ryr2</text>
<line x1="1335.8" y1="888.8" x2="1359.3" y2="888.8" stroke="#111" stroke-width="2.4"/>
<text x="1328.6" y="900.8" font-size="32.6" text-anchor="end">Ighe</text>
<line x1="1335.8" y1="922.8" x2="1359.3" y2="922.8" stroke="#111" stroke-width="2.4"/>
<text x="1328.6" y="934.8" font-size="32.6" text-anchor="end">Cdkn2a</text>
<line x1="1335.8" y1="956.8" x2="1359.3" y2="956.8" stroke="#111" stroke-width="2.4"/>
<text x="1328.6" y="968.8" font-size="32.6" text-anchor="end">Zfp365</text>
<line x1="1335.8" y1="990.8" x2="1359.3" y2="990.8" stroke="#111" stroke-width="2.4"/>
<text x="1328.6" y="1002.8" font-size="32.6" text-anchor="end">Adc</text>
<line x1="1335.8" y1="1024.8" x2="1359.3" y2="1024.8" stroke="#111" stroke-width="2.4"/>
<text x="1328.6" y="1036.8" font-size="32.6" text-anchor="end">Fam129a</text>
<line x1="1335.8" y1="1058.8" x2="1359.3" y2="1058.8" stroke="#111" stroke-width="2.4"/>
<text x="1328.6" y="1070.8" font-size="32.6" text-anchor="end">Gm8995</text>
<line x1="1335.8" y1="1092.8" x2="1359.3" y2="1092.8" stroke="#111" stroke-width="2.4"/>
<text x="1328.6" y="1104.8" font-size="32.6" text-anchor="end">Il9r</text>
<line x1="1335.8" y1="1126.8" x2="1359.3" y2="1126.8" stroke="#111" stroke-width="2.4"/>
<text x="1328.6" y="1138.8" font-size="32.6" text-anchor="end">Plbd1</text>
<line x1="1335.8" y1="1160.8" x2="1359.3" y2="1160.8" stroke="#111" stroke-width="2.4"/>
<text x="1328.6" y="1172.8" font-size="32.6" text-anchor="end">Plac8</text>
<line x1="1335.8" y1="1194.8" x2="1359.3" y2="1194.8" stroke="#111" stroke-width="2.4"/>
<text x="1328.6" y="1206.8" font-size="32.6" text-anchor="end">Gpr183</text>
<line x1="1335.8" y1="1228.8" x2="1359.3" y2="1228.8" stroke="#111" stroke-width="2.4"/>
<text x="1328.6" y="1240.8" font-size="32.6" text-anchor="end">Sell</text>
<line x1="1335.8" y1="1262.8" x2="1359.3" y2="1262.8" stroke="#111" stroke-width="2.4"/>
<text x="1328.6" y="1274.8" font-size="32.6" text-anchor="end">S100a10</text>
<line x1="1335.8" y1="1296.8" x2="1359.3" y2="1296.8" stroke="#111" stroke-width="2.4"/>
<text x="1328.6" y="1308.8" font-size="32.6" text-anchor="end">Serpinb6b</text>
<line x1="1335.8" y1="1330.8" x2="1359.3" y2="1330.8" stroke="#111" stroke-width="2.4"/>
<text x="1328.6" y="1342.8" font-size="32.6" text-anchor="end">Pfn2</text>
<line x1="1335.8" y1="1364.8" x2="1359.3" y2="1364.8" stroke="#111" stroke-width="2.4"/>
<text x="1328.6" y="1376.8" font-size="32.6" text-anchor="end">St7</text>
<line x1="1335.8" y1="1398.8" x2="1359.3" y2="1398.8" stroke="#111" stroke-width="2.4"/>
<text x="1328.6" y="1410.8" font-size="32.6" text-anchor="end">S1pr1</text>
<line x1="1335.8" y1="1432.8" x2="1359.3" y2="1432.8" stroke="#111" stroke-width="2.4"/>
<text x="1328.6" y="1444.8" font-size="32.6" text-anchor="end">Cd36</text>
<line x1="1335.8" y1="1466.8" x2="1359.3" y2="1466.8" stroke="#111" stroke-width="2.4"/>
<text x="1328.6" y="1478.8" font-size="32.6" text-anchor="end">Cd72</text>
<line x1="1335.8" y1="1500.8" x2="1359.3" y2="1500.8" stroke="#111" stroke-width="2.4"/>
<text x="1328.6" y="1512.8" font-size="32.6" text-anchor="end">Slpi</text>
<line x1="1335.8" y1="1534.8" x2="1359.3" y2="1534.8" stroke="#111" stroke-width="2.4"/>
<text x="1328.6" y="1546.8" font-size="32.6" text-anchor="end">Ctse</text>
<line x1="1335.8" y1="1568.8" x2="1359.3" y2="1568.8" stroke="#111" stroke-width="2.4"/>
<text x="1328.6" y="1580.8" font-size="32.6" text-anchor="end">Il21r</text>
<line x1="1335.8" y1="1602.8" x2="1359.3" y2="1602.8" stroke="#111" stroke-width="2.4"/>
<text x="1328.6" y="1614.8" font-size="32.6" text-anchor="end">Wdfy1</text>
<line x1="1335.8" y1="1636.8" x2="1359.3" y2="1636.8" stroke="#111" stroke-width="2.4"/>
<text x="1328.6" y="1648.8" font-size="32.6" text-anchor="end">Trim5</text>
<line x1="1335.8" y1="1670.8" x2="1359.3" y2="1670.8" stroke="#111" stroke-width="2.4"/>
<text x="1328.6" y="1682.8" font-size="32.6" text-anchor="end">Nrgn</text>
<line x1="1335.8" y1="1704.8" x2="1359.3" y2="1704.8" stroke="#111" stroke-width="2.4"/>
<text x="1328.6" y="1716.8" font-size="32.6" text-anchor="end">Fam46c</text>
<line x1="1335.8" y1="1738.8" x2="1359.3" y2="1738.8" stroke="#111" stroke-width="2.4"/>
<text x="1328.6" y="1750.8" font-size="32.6" text-anchor="end">Pde2a</text>
<line x1="1335.8" y1="1772.8" x2="1359.3" y2="1772.8" stroke="#111" stroke-width="2.4"/>
<text x="1328.6" y="1784.8" font-size="32.6" text-anchor="end">Hgsnat</text>
<line x1="1335.8" y1="1806.8" x2="1359.3" y2="1806.8" stroke="#111" stroke-width="2.4"/>
<text x="1328.6" y="1818.8" font-size="32.6" text-anchor="end">Trim34a</text>
<line x1="1335.8" y1="1840.8" x2="1359.3" y2="1840.8" stroke="#111" stroke-width="2.4"/>
<text x="1328.6" y="1852.8" font-size="32.6" text-anchor="end">Osbpl3</text>
<line x1="1335.8" y1="1874.8" x2="1359.3" y2="1874.8" stroke="#111" stroke-width="2.4"/>
<text x="1328.6" y="1886.8" font-size="32.6" text-anchor="end">Trim12a</text>
<line x1="1335.8" y1="1908.8" x2="1359.3" y2="1908.8" stroke="#111" stroke-width="2.4"/>
<text x="1328.6" y="1920.8" font-size="32.6" text-anchor="end">Tox2</text>
<line x1="1335.8" y1="1942.8" x2="1359.3" y2="1942.8" stroke="#111" stroke-width="2.4"/>
<text x="1328.6" y="1954.8" font-size="32.6" text-anchor="end">Apobr</text>
<line x1="1335.8" y1="1976.8" x2="1359.3" y2="1976.8" stroke="#111" stroke-width="2.4"/>
<text x="1328.6" y="1988.8" font-size="32.6" text-anchor="end">Gm1966</text>
<line x1="1335.8" y1="2010.8" x2="1359.3" y2="2010.8" stroke="#111" stroke-width="2.4"/>
<text x="1328.6" y="2022.8" font-size="32.6" text-anchor="end">Trim30d</text>
<g fill="none" stroke-width="1.5"><rect x="1359.3" y="329.6" width="218.4" height="31.4" stroke="#4a55b8"/><rect x="1359.3" y="363.6" width="218.4" height="31.4" stroke="#4a55b8"/><rect x="1359.3" y="397.6" width="218.4" height="31.4" stroke="#4a55b8"/><rect x="1359.3" y="431.6" width="218.4" height="31.4" stroke="#4a55b8"/><rect x="1359.3" y="465.6" width="218.4" height="31.4" stroke="#4a55b8"/><rect x="1381.7" y="499.6" width="196" height="31.4" stroke="#4a55b8"/><rect x="1382.8" y="533.6" width="194.9" height="31.4" stroke="#4a55b8"/><rect x="1385" y="567.6" width="192.7" height="31.4" stroke="#4a55b8"/><rect x="1439.3" y="601.6" width="138.4" height="31.4" stroke="#4a55b8"/><rect x="1448.2" y="635.6" width="129.5" height="31.4" stroke="#4a55b8"/><rect x="1460.2" y="669.6" width="117.5" height="31.4" stroke="#4a55b8"/><rect x="1471.4" y="703.6" width="106.3" height="31.4" stroke="#4a55b8"/><rect x="1471.4" y="737.6" width="106.3" height="31.4" stroke="#4a55b8"/><rect x="1475.5" y="771.6" width="102.2" height="31.4" stroke="#4a55b8"/><rect x="1481.1" y="805.6" width="96.6" height="31.4" stroke="#4a55b8"/><rect x="1488.9" y="839.6" width="88.8" height="31.4" stroke="#4a55b8"/><rect x="1508.4" y="873.6" width="69.3" height="31.4" stroke="#4a55b8"/><rect x="1517.3" y="907.6" width="60.4" height="31.4" stroke="#4a55b8"/><rect x="1520.6" y="941.6" width="57.1" height="31.4" stroke="#4a55b8"/><rect x="1520.6" y="975.6" width="57.1" height="31.4" stroke="#4a55b8"/><rect x="1524.8" y="1009.6" width="52.9" height="31.4" stroke="#4a55b8"/><rect x="1527.9" y="1043.6" width="49.8" height="31.4" stroke="#4a55b8"/><rect x="1540.4" y="1077.6" width="37.3" height="31.4" stroke="#4a55b8"/><rect x="1540.4" y="1111.6" width="37.3" height="31.4" stroke="#4a55b8"/><rect x="1540.4" y="1145.6" width="37.3" height="31.4" stroke="#4a55b8"/><rect x="1541.3" y="1179.6" width="36.4" height="31.4" stroke="#4a55b8"/><rect x="1543.2" y="1213.6" width="34.5" height="31.4" stroke="#4a55b8"/><rect x="1545.1" y="1247.6" width="32.6" height="31.4" stroke="#4a55b8"/><rect x="1546.5" y="1281.6" width="31.2" height="31.4" stroke="#4a55b8"/><rect x="1546.8" y="1315.6" width="30.9" height="31.4" stroke="#4a55b8"/><rect x="1547.7" y="1349.6" width="30" height="31.4" stroke="#4a55b8"/><rect x="1548.8" y="1383.6" width="28.9" height="31.4" stroke="#4a55b8"/><rect x="1549.9" y="1417.6" width="27.8" height="31.4" stroke="#4a55b8"/><rect x="1551.2" y="1451.6" width="26.5" height="31.4" stroke="#4a55b8"/><rect x="1577.7" y="1485.6" width="27.2" height="31.4" stroke="#e0402e"/><rect x="1577.7" y="1519.6" width="32.6" height="31.4" stroke="#e0402e"/><rect x="1577.7" y="1553.6" width="34.7" height="31.4" stroke="#e0402e"/><rect x="1577.7" y="1587.6" width="36.8" height="31.4" stroke="#e0402e"/><rect x="1577.7" y="1621.6" width="40.1" height="31.4" stroke="#e0402e"/><rect x="1577.7" y="1655.6" width="41.3" height="31.4" stroke="#e0402e"/><rect x="1577.7" y="1689.6" width="45.9" height="31.4" stroke="#e0402e"/><rect x="1577.7" y="1723.6" width="51.3" height="31.4" stroke="#e0402e"/><rect x="1577.7" y="1757.6" width="65.9" height="31.4" stroke="#e0402e"/><rect x="1577.7" y="1791.6" width="72.6" height="31.4" stroke="#e0402e"/><rect x="1577.7" y="1825.6" width="95.4" height="31.4" stroke="#e0402e"/><rect x="1577.7" y="1859.6" width="114.1" height="31.4" stroke="#e0402e"/><rect x="1577.7" y="1893.6" width="118.3" height="31.4" stroke="#e0402e"/><rect x="1577.7" y="1927.6" width="127" height="31.4" stroke="#e0402e"/><rect x="1577.7" y="1961.6" width="218.5" height="31.4" stroke="#e0402e"/><rect x="1577.7" y="1995.6" width="218.5" height="31.4" stroke="#e0402e"/></g>
<rect x="1359.3" y="311.4" width="437.3" height="1729.3" fill="none" stroke="#111" stroke-width="2.4"/>
<line x1="1577.7" y1="311.4" x2="1577.7" y2="2040.7" stroke="#111" stroke-width="2.4"/>
<text x="0" y="813.8" font-size="57" font-weight="bold">C</text>
<text x="218" y="864.4" font-size="31.9">Limma barcode plot comparing WT vs <tspan font-style="italic">Il21r</tspan><tspan font-style="italic" font-size="15.5" dy="-10.5">-/-</tspan></text>
<text x="56.6" y="901.6" font-size="31.9">GC B cell gene signature to Victora et al., 2010 GC zone signature.</text>
<line x1="148.9" y1="974.7" x2="148.9" y2="1081.7" stroke="#222" stroke-width="2"/>
<line x1="131.3" y1="974.7" x2="148.9" y2="974.7" stroke="#222" stroke-width="2"/>
<line x1="131.3" y1="1081.7" x2="148.9" y2="1081.7" stroke="#222" stroke-width="2"/>
<text transform="translate(122.5,973.2) rotate(-90)" font-size="25.5" text-anchor="middle">1.8</text>
<text transform="translate(122.5,1080.2) rotate(-90)" font-size="25.5" text-anchor="middle">0</text>
<text transform="translate(87.8,1018.4) rotate(-90)" font-size="31.9" text-anchor="middle">Enrichment</text>
<line x1="148.9" y1="1022.9" x2="823.8" y2="1022.9" stroke="#222" stroke-width="2" stroke-dasharray="9.5 9.5"/>
<path d="M172.6 1044C178.7 1045.5 193.7 1050.3 209 1052.7C224.3 1055.1 248.5 1058 264.6 1058.5C280.7 1059 292.9 1057.7 305.8 1055.6C318.7 1053.5 328 1049.7 342.1 1045.9C356.2 1042.1 374.5 1035.8 390.6 1032.6C406.8 1029.4 424.1 1027.6 439 1026.5C453.9 1025.4 467.1 1026.3 480 1026C492.9 1025.7 506.2 1025.5 516.3 1024.7C526.4 1023.9 530.4 1022.8 540.5 1021C550.6 1019.2 564.8 1015.7 576.9 1013.8C589 1011.9 599.1 1010.9 613.2 1009.7C627.3 1008.5 647.5 1008.9 661.6 1006.6C675.7 1004.4 687.9 998.8 698 996.2C708.1 993.6 711.9 992.9 722 990.8C732.1 988.7 745.7 986.2 758.4 983.6C771.1 981 791.7 976.5 798.4 975.1" fill="none" stroke="#da2a1c" stroke-width="4.6" stroke-linecap="round"/>
<text x="431.2" y="980.2" font-size="25.5" fill="#da2a1c">p = 0.01</text>
<line x1="148.9" y1="1318.3" x2="148.9" y2="1425.4" stroke="#222" stroke-width="2"/>
<line x1="131.3" y1="1318.3" x2="148.9" y2="1318.3" stroke="#222" stroke-width="2"/>
<line x1="131.3" y1="1425.4" x2="148.9" y2="1425.4" stroke="#222" stroke-width="2"/>
<text transform="translate(122.5,1316.8) rotate(-90)" font-size="25.5" text-anchor="middle">0</text>
<text transform="translate(122.5,1423.9) rotate(-90)" font-size="25.5" text-anchor="middle">3.3</text>
<text transform="translate(87.8,1368.3) rotate(-90)" font-size="31.9" text-anchor="middle">Enrichment</text>
<line x1="148.9" y1="1350.3" x2="826.4" y2="1350.3" stroke="#222" stroke-width="2" stroke-dasharray="9.5 9.5"/>
<path d="M173.6 1425.4C179.5 1422.2 197.9 1412 209 1406C220.1 1400 230.3 1394.9 240.4 1389.3C250.5 1383.7 260.6 1377.3 269.5 1372.3C278.4 1367.2 285.6 1362.2 293.7 1359C301.8 1355.8 309.9 1354.5 318 1353C326.1 1351.5 334 1351 342 1350C350 1349 353.9 1348.9 366 1347C378.1 1345.1 400.6 1340.6 414.8 1338.4C429 1336.2 439.9 1334.9 451 1333.6C462.1 1332.2 471.2 1331 481.3 1330.3C491.4 1329.6 496.5 1329.2 511.6 1329.4C526.7 1329.7 554.4 1331.5 572 1331.8C589.6 1332.1 602.3 1331.7 617.5 1331.2C632.7 1330.7 651.4 1329.1 663 1328.8C674.6 1328.5 676.9 1328.4 687 1329.4C697.1 1330.4 709.9 1332.6 723.5 1334.8C737.1 1337 756.5 1340 768.9 1342.4C781.2 1344.8 792.8 1348.2 797.6 1349.3" fill="none" stroke="#404ba8" stroke-width="4.6" stroke-linecap="round"/>
<text x="416.1" y="1403.8" font-size="25.5" fill="#404ba8">p &lt; 0.0001</text>
<rect x="174" y="1146.7" width="623.5" height="106.9" fill="#dad8d9"/>
<rect x="174" y="1146.7" width="52.4" height="106.9" fill="#c6e4ef"/>
<rect x="762.3" y="1146.7" width="35.2" height="106.9" fill="#fdc9d9"/>
<path d="M174.3 1092.5V1199.9M185.5 1092.5V1199.9M199.3 1092.5V1199.9M200.3 1092.5V1199.9M203.4 1092.5V1199.9M218.6 1092.5V1199.9M309.7 1092.5V1199.9M338.5 1092.5V1199.9M348.2 1092.5V1199.9M355.0 1092.5V1199.9M365.6 1092.5V1199.9M370.7 1092.5V1199.9M385.7 1092.5V1199.9M388.6 1092.5V1199.9M393.2 1092.5V1199.9M399.5 1092.5V1199.9M434.6 1092.5V1199.9M439.5 1092.5V1199.9M451.1 1092.5V1199.9M461.5 1092.5V1199.9M468.5 1092.5V1199.9M483.5 1092.5V1199.9M492.3 1092.5V1199.9M526.7 1092.5V1199.9M534.5 1092.5V1199.9M538.1 1092.5V1199.9M552.2 1092.5V1199.9M557.5 1092.5V1199.9M559.2 1092.5V1199.9M590.7 1092.5V1199.9M602.3 1092.5V1199.9M612.4 1092.5V1199.9M616.8 1092.5V1199.9M618.5 1092.5V1199.9M620.0 1092.5V1199.9M629.6 1092.5V1199.9M636.7 1092.5V1199.9M639.1 1092.5V1199.9M645.9 1092.5V1199.9M652.4 1092.5V1199.9M668.4 1092.5V1199.9M670.1 1092.5V1199.9M676.6 1092.5V1199.9M683.4 1092.5V1199.9M702.3 1092.5V1199.9M714.4 1092.5V1199.9M725.3 1092.5V1199.9M727.0 1092.5V1199.9M728.7 1092.5V1199.9M740.8 1092.5V1199.9M750.7 1092.5V1199.9M757.2 1092.5V1199.9M762.3 1092.5V1199.9M778.5 1092.5V1199.9M782.7 1092.5V1199.9M784.6 1092.5V1199.9M787.5 1092.5V1199.9M791.1 1092.5V1199.9M794.3 1092.5V1199.9M796.2 1092.5V1199.9M797.2 1092.5V1199.9" stroke="#dc3a28" stroke-width="1.1" stroke-opacity="0.85" fill="none"/>
<path d="M173.8 1199.9V1307.5M175.5 1199.9V1307.5M177.5 1199.9V1307.5M179.4 1199.9V1307.5M183.3 1199.9V1307.5M188.4 1199.9V1307.5M190.8 1199.9V1307.5M192.0 1199.9V1307.5M193.2 1199.9V1307.5M198.5 1199.9V1307.5M213.8 1199.9V1307.5M224.5 1199.9V1307.5M239.5 1199.9V1307.5M243.6 1199.9V1307.5M257.6 1199.9V1307.5M283.0 1199.9V1307.5M296.4 1199.9V1307.5M305.3 1199.9V1307.5M314.5 1199.9V1307.5M327.1 1199.9V1307.5M365.4 1199.9V1307.5M379.4 1199.9V1307.5M395.4 1199.9V1307.5M397.3 1199.9V1307.5M401.5 1199.9V1307.5M476.3 1199.9V1307.5M559.9 1199.9V1307.5M578.3 1199.9V1307.5M610.7 1199.9V1307.5M662.3 1199.9V1307.5M751.7 1199.9V1307.5M762.3 1199.9V1307.5M784.6 1199.9V1307.5M794.8 1199.9V1307.5M796.7 1199.9V1307.5" stroke="#4049aa" stroke-width="1.1" stroke-opacity="0.9" fill="none"/>
<text transform="translate(149.2,1203) rotate(-90)" font-size="31.9" text-anchor="middle">Down in WT</text>
<text transform="translate(830.8,1208.5) rotate(-90)" font-size="31.9" text-anchor="middle">Up in WT</text>
<text x="858" y="1136.6" font-size="31.9" fill="#da2a1c">Genes up</text>
<text x="858" y="1174.8" font-size="31.9" fill="#da2a1c">in DZ</text>
<text x="858" y="1247.3" font-size="31.9" fill="#404ba8">Genes down</text>
<text x="858" y="1285.5" font-size="31.9" fill="#404ba8">in DZ</text>
<line x1="173.6" y1="1443.4" x2="797.6" y2="1443.4" stroke="#111" stroke-width="2"/>
<line x1="173.6" y1="1443.4" x2="173.6" y2="1460.9" stroke="#111" stroke-width="2"/>
<text transform="translate(181.4,1473.6) rotate(-90)" font-size="25.5" text-anchor="end">−23.16</text>
<line x1="236" y1="1443.4" x2="236" y2="1460.9" stroke="#111" stroke-width="2"/>
<text transform="translate(243.8,1473.6) rotate(-90)" font-size="25.5" text-anchor="end">−1.28</text>
<line x1="298.4" y1="1443.4" x2="298.4" y2="1460.9" stroke="#111" stroke-width="2"/>
<text transform="translate(306.2,1473.6) rotate(-90)" font-size="25.5" text-anchor="end">−0.78</text>
<line x1="360.8" y1="1443.4" x2="360.8" y2="1460.9" stroke="#111" stroke-width="2"/>
<text transform="translate(368.6,1473.6) rotate(-90)" font-size="25.5" text-anchor="end">−0.46</text>
<line x1="423.2" y1="1443.4" x2="423.2" y2="1460.9" stroke="#111" stroke-width="2"/>
<text transform="translate(431,1473.6) rotate(-90)" font-size="25.5" text-anchor="end">−0.21</text>
<line x1="485.6" y1="1443.4" x2="485.6" y2="1460.9" stroke="#111" stroke-width="2"/>
<text transform="translate(493.4,1473.6) rotate(-90)" font-size="25.5" text-anchor="end">0.01</text>
<line x1="548" y1="1443.4" x2="548" y2="1460.9" stroke="#111" stroke-width="2"/>
<text transform="translate(555.8,1473.6) rotate(-90)" font-size="25.5" text-anchor="end">0.22</text>
<line x1="610.4" y1="1443.4" x2="610.4" y2="1460.9" stroke="#111" stroke-width="2"/>
<text transform="translate(618.2,1473.6) rotate(-90)" font-size="25.5" text-anchor="end">0.45</text>
<line x1="672.8" y1="1443.4" x2="672.8" y2="1460.9" stroke="#111" stroke-width="2"/>
<text transform="translate(680.6,1473.6) rotate(-90)" font-size="25.5" text-anchor="end">0.72</text>
<line x1="735.2" y1="1443.4" x2="735.2" y2="1460.9" stroke="#111" stroke-width="2"/>
<text transform="translate(743,1473.6) rotate(-90)" font-size="25.5" text-anchor="end">1.11</text>
<line x1="797.6" y1="1443.4" x2="797.6" y2="1460.9" stroke="#111" stroke-width="2"/>
<text transform="translate(805.4,1473.6) rotate(-90)" font-size="25.5" text-anchor="end">11.67</text>
<text x="349.8" y="1584.5" font-size="31.9">Signed likelihood ratio</text>
<text x="0" y="1641.9" font-size="57" font-weight="bold">D</text>
<text x="221" y="1692.3" font-size="31.9">Limma barcode plot comparing WT vs <tspan font-style="italic">Il21r</tspan><tspan font-style="italic" font-size="15.5" dy="-10.5">-/-</tspan></text>
<text x="25.1" y="1730.1" font-size="31.9">GC B cell gene signature to Dominguez-Sola et al., 2012 Myc signature.</text>
<line x1="151.8" y1="1790.8" x2="151.8" y2="1915" stroke="#222" stroke-width="2"/>
<line x1="134.2" y1="1790.8" x2="151.8" y2="1790.8" stroke="#222" stroke-width="2"/>
<line x1="134.2" y1="1915" x2="151.8" y2="1915" stroke="#222" stroke-width="2"/>
<text transform="translate(118,1786.8) rotate(-90)" font-size="25.5" text-anchor="middle">2.6</text>
<text transform="translate(118,1913.5) rotate(-90)" font-size="25.5" text-anchor="middle">0</text>
<text transform="translate(85.1,1847.6) rotate(-90)" font-size="31.9" text-anchor="middle">Enrichment</text>
<line x1="151.8" y1="1868.2" x2="825" y2="1868.2" stroke="#222" stroke-width="2" stroke-dasharray="9.5 9.5"/>
<path d="M176.3 1890.7C183.8 1891.5 202.2 1894 221 1895.6C239.8 1897.2 274.8 1899.6 288.9 1900.4C303 1901.2 296.9 1901.2 305.8 1900.4C314.7 1899.6 325.9 1897.4 342 1895.6C358.1 1893.8 384.5 1891.1 402.7 1889.5C420.9 1887.9 438.1 1886.6 451 1885.9C463.9 1885.2 467.1 1886.4 480 1885.4C492.9 1884.4 512.2 1882.7 528.4 1879.9C544.5 1877.1 561.6 1872.3 576.9 1868.5C592.2 1864.7 608.3 1860.9 620.4 1856.9C632.5 1852.9 636.6 1850 649.5 1844.7C662.4 1839.5 681.8 1831.7 697.9 1825.4C714 1819.2 729.1 1813 746.3 1807.2C763.4 1801.4 791.7 1793.5 800.8 1790.8" fill="none" stroke="#da2a1c" stroke-width="4.6" stroke-linecap="round"/>
<text x="410.6" y="1817" font-size="25.5" fill="#da2a1c">p &lt; 0.00001</text>
<line x1="151.8" y1="2189.9" x2="151.8" y2="2314.4" stroke="#222" stroke-width="2"/>
<line x1="134.2" y1="2189.9" x2="151.8" y2="2189.9" stroke="#222" stroke-width="2"/>
<line x1="134.2" y1="2314.4" x2="151.8" y2="2314.4" stroke="#222" stroke-width="2"/>
<text transform="translate(118,2188.4) rotate(-90)" font-size="25.5" text-anchor="middle">0</text>
<text transform="translate(118,2309.9) rotate(-90)" font-size="25.5" text-anchor="middle">1.3</text>
<text transform="translate(85.1,2249.5) rotate(-90)" font-size="31.9" text-anchor="middle">Enrichment</text>
<line x1="151.8" y1="2283.3" x2="826.4" y2="2283.3" stroke="#222" stroke-width="2" stroke-dasharray="9.5 9.5"/>
<path d="M175.3 2314.4C182.9 2313.4 205.3 2310.3 221 2308.7C236.7 2307.1 255.4 2306.5 269.5 2304.6C283.6 2302.7 293.7 2299.9 305.8 2297.3C317.9 2294.7 331.9 2291.3 342 2288.9C352.1 2286.5 355.2 2285.1 366.3 2283C377.4 2280.9 394.6 2278.8 408.7 2276.5C422.8 2274.2 436.4 2270.8 451 2269C465.6 2267.2 483.9 2266.3 496.5 2266C509.1 2265.7 514.1 2266.3 526.7 2267.4C539.3 2268.5 557 2272.1 572.1 2272.6C587.2 2273.1 602.4 2271.6 617.5 2270.5C632.6 2269.4 645.3 2266 663 2266C680.7 2266 705.9 2267.7 723.5 2270.5C741.1 2273.3 756 2278.1 768.9 2282.6C781.8 2287.1 795.3 2295.2 800.6 2297.7" fill="none" stroke="#404ba8" stroke-width="4.6" stroke-linecap="round"/>
<text x="431.2" y="2317.4" font-size="25.5" fill="#404ba8">p = 0.92</text>
<rect x="177" y="1990.2" width="623.2" height="124.4" fill="#dad8d9"/>
<rect x="177" y="1990.2" width="53.2" height="124.4" fill="#c6e4ef"/>
<rect x="764.6" y="1990.2" width="35.6" height="124.4" fill="#fdc9d9"/>
<path d="M183.2 1928V2052.5M185.9 1928V2052.5M192.7 1928V2052.5M197.8 1928V2052.5M198.4 1928V2052.5M204.3 1928V2052.5M219.3 1928V2052.5M251.2 1928V2052.5M266.3 1928V2052.5M277.4 1928V2052.5M292.5 1928V2052.5M301.7 1928V2052.5M336.8 1928V2052.5M349.6 1928V2052.5M368.5 1928V2052.5M376.5 1928V2052.5M405.3 1928V2052.5M407.1 1928V2052.5M411.5 1928V2052.5M415.7 1928V2052.5M421.8 1928V2052.5M436.5 1928V2052.5M439.5 1928V2052.5M454.4 1928V2052.5M485.5 1928V2052.5M489.7 1928V2052.5M491.3 1928V2052.5M501.6 1928V2052.5M523.1 1928V2052.5M530.6 1928V2052.5M532.1 1928V2052.5M536.0 1928V2052.5M557.1 1928V2052.5M561.9 1928V2052.5M575.4 1928V2052.5M581.1 1928V2052.5M584.0 1928V2052.5M588.7 1928V2052.5M594.1 1928V2052.5M599.5 1928V2052.5M605.7 1928V2052.5M609.4 1928V2052.5M613.0 1928V2052.5M623.5 1928V2052.5M627.8 1928V2052.5M632.8 1928V2052.5M638.6 1928V2052.5M640.3 1928V2052.5M641.5 1928V2052.5M644.4 1928V2052.5M646.2 1928V2052.5M648.3 1928V2052.5M659.5 1928V2052.5M664.7 1928V2052.5M666.2 1928V2052.5M669.7 1928V2052.5M670.9 1928V2052.5M675.2 1928V2052.5M679.6 1928V2052.5M683.5 1928V2052.5M684.9 1928V2052.5M691.5 1928V2052.5M700.3 1928V2052.5M705.4 1928V2052.5M706.4 1928V2052.5M714.4 1928V2052.5M716.2 1928V2052.5M717.6 1928V2052.5M719.5 1928V2052.5M722.4 1928V2052.5M723.8 1928V2052.5M725.3 1928V2052.5M726.7 1928V2052.5M728.1 1928V2052.5M729.6 1928V2052.5M731.1 1928V2052.5M734.8 1928V2052.5M736.2 1928V2052.5M739.1 1928V2052.5M740.6 1928V2052.5M742.8 1928V2052.5M745.0 1928V2052.5M746.4 1928V2052.5M747.9 1928V2052.5M750.8 1928V2052.5M753.7 1928V2052.5M758.0 1928V2052.5M760.2 1928V2052.5M764.6 1928V2052.5M769.6 1928V2052.5M772.5 1928V2052.5M774.7 1928V2052.5M776.9 1928V2052.5M780.5 1928V2052.5M782.7 1928V2052.5M784.2 1928V2052.5M786.4 1928V2052.5M788.5 1928V2052.5M789.2 1928V2052.5M790.0 1928V2052.5M790.7 1928V2052.5M792.9 1928V2052.5M794.3 1928V2052.5M795.8 1928V2052.5M797.2 1928V2052.5M799.4 1928V2052.5" stroke="#dc3a28" stroke-width="1.1" stroke-opacity="0.85" fill="none"/>
<path d="M179.3 2052.5V2177.3M188.8 2052.5V2177.3M190.5 2052.5V2177.3M192.0 2052.5V2177.3M194.9 2052.5V2177.3M195.3 2052.5V2177.3M200.7 2052.5V2177.3M202.1 2052.5V2177.3M203.6 2052.5V2177.3M206.2 2052.5V2177.3M209.4 2052.5V2177.3M212.3 2052.5V2177.3M215.2 2052.5V2177.3M217.7 2052.5V2177.3M221.7 2052.5V2177.3M226.4 2052.5V2177.3M227.8 2052.5V2177.3M229.3 2052.5V2177.3M233.8 2052.5V2177.3M235.5 2052.5V2177.3M240.8 2052.5V2177.3M246.6 2052.5V2177.3M251.5 2052.5V2177.3M253.7 2052.5V2177.3M255.2 2052.5V2177.3M256.3 2052.5V2177.3M260.7 2052.5V2177.3M266.5 2052.5V2177.3M267.5 2052.5V2177.3M268.7 2052.5V2177.3M269.7 2052.5V2177.3M271.9 2052.5V2177.3M273.3 2052.5V2177.3M278.6 2052.5V2177.3M286.8 2052.5V2177.3M295.4 2052.5V2177.3M297.3 2052.5V2177.3M300.5 2052.5V2177.3M310.4 2052.5V2177.3M311.8 2052.5V2177.3M314.7 2052.5V2177.3M315.5 2052.5V2177.3M318.4 2052.5V2177.3M321.3 2052.5V2177.3M322.7 2052.5V2177.3M323.7 2052.5V2177.3M327.8 2052.5V2177.3M330.7 2052.5V2177.3M331.4 2052.5V2177.3M332.9 2052.5V2177.3M334.3 2052.5V2177.3M336.2 2052.5V2177.3M340.2 2052.5V2177.3M342.8 2052.5V2177.3M346.7 2052.5V2177.3M347.4 2052.5V2177.3M348.6 2052.5V2177.3M351.0 2052.5V2177.3M353.5 2052.5V2177.3M361.2 2052.5V2177.3M368.5 2052.5V2177.3M372.8 2052.5V2177.3M376.5 2052.5V2177.3M381.9 2052.5V2177.3M384.5 2052.5V2177.3M388.4 2052.5V2177.3M391.0 2052.5V2177.3M394.3 2052.5V2177.3M398.3 2052.5V2177.3M391.5 2052.5V2177.3M398.7 2052.5V2177.3M399.7 2052.5V2177.3M409.3 2052.5V2177.3M411.8 2052.5V2177.3M413.2 2052.5V2177.3M418.8 2052.5V2177.3M423.1 2052.5V2177.3M429.2 2052.5V2177.3M437.2 2052.5V2177.3M442.6 2052.5V2177.3M446.7 2052.5V2177.3M447.4 2052.5V2177.3M449.6 2052.5V2177.3M454.7 2052.5V2177.3M455.5 2052.5V2177.3M456.5 2052.5V2177.3M457.6 2052.5V2177.3M464.4 2052.5V2177.3M471.4 2052.5V2177.3M473.5 2052.5V2177.3M476.4 2052.5V2177.3M481.5 2052.5V2177.3M485.5 2052.5V2177.3M491.7 2052.5V2177.3M493.9 2052.5V2177.3M499.7 2052.5V2177.3M501.9 2052.5V2177.3M513.5 2052.5V2177.3M516.4 2052.5V2177.3M519.3 2052.5V2177.3M531.7 2052.5V2177.3M536.0 2052.5V2177.3M539.6 2052.5V2177.3M549.8 2052.5V2177.3M555.6 2052.5V2177.3M558.5 2052.5V2177.3M566.5 2052.5V2177.3M570.2 2052.5V2177.3M578.4 2052.5V2177.3M584.0 2052.5V2177.3M589.3 2052.5V2177.3M593.4 2052.5V2177.3M596.3 2052.5V2177.3M599.2 2052.5V2177.3M600.5 2052.5V2177.3M602.0 2052.5V2177.3M603.5 2052.5V2177.3M605.0 2052.5V2177.3M610.8 2052.5V2177.3M613.3 2052.5V2177.3M616.6 2052.5V2177.3M621.0 2052.5V2177.3M623.2 2052.5V2177.3M625.4 2052.5V2177.3M629.0 2052.5V2177.3M629.9 2052.5V2177.3M631.3 2052.5V2177.3M635.3 2052.5V2177.3M640.0 2052.5V2177.3M643.2 2052.5V2177.3M647.6 2052.5V2177.3M654.1 2052.5V2177.3M658.5 2052.5V2177.3M659.5 2052.5V2177.3M664.7 2052.5V2177.3M669.4 2052.5V2177.3M672.3 2052.5V2177.3M689.4 2052.5V2177.3M695.5 2052.5V2177.3M699.2 2052.5V2177.3M704.3 2052.5V2177.3M706.9 2052.5V2177.3M712.3 2052.5V2177.3M714.7 2052.5V2177.3M725.8 2052.5V2177.3M733.0 2052.5V2177.3M733.6 2052.5V2177.3M745.2 2052.5V2177.3M751.5 2052.5V2177.3M757.3 2052.5V2177.3M763.1 2052.5V2177.3M771.1 2052.5V2177.3M771.7 2052.5V2177.3M774.0 2052.5V2177.3M780.5 2052.5V2177.3M784.2 2052.5V2177.3M786.4 2052.5V2177.3M788.5 2052.5V2177.3M789.3 2052.5V2177.3M790.3 2052.5V2177.3M793.6 2052.5V2177.3M800.2 2052.5V2177.3" stroke="#4049aa" stroke-width="1.1" stroke-opacity="0.9" fill="none"/>
<text transform="translate(157.2,2053.7) rotate(-90)" font-size="31.9" text-anchor="middle">Donw in WT</text>
<text transform="translate(834.3,2055.5) rotate(-90)" font-size="31.9" text-anchor="middle">Up in WT</text>
<text x="858" y="1988" font-size="31.9" fill="#da2a1c">Genes up</text>
<text x="858" y="2026.2" font-size="31.9" fill="#da2a1c">in Myc+</text>
<text x="858" y="2098.1" font-size="31.9" fill="#404ba8">Genes down</text>
<text x="858" y="2136.3" font-size="31.9" fill="#404ba8">in Myc+</text>
<line x1="176.8" y1="2335.3" x2="800" y2="2335.3" stroke="#111" stroke-width="2"/>
<line x1="176.8" y1="2335.3" x2="176.8" y2="2352.8" stroke="#111" stroke-width="2"/>
<text transform="translate(184.6,2374.7) rotate(-90)" font-size="25.5" text-anchor="end">−23.16</text>
<line x1="239.1" y1="2335.3" x2="239.1" y2="2352.8" stroke="#111" stroke-width="2"/>
<text transform="translate(246.9,2374.7) rotate(-90)" font-size="25.5" text-anchor="end">−1.28</text>
<line x1="301.4" y1="2335.3" x2="301.4" y2="2352.8" stroke="#111" stroke-width="2"/>
<text transform="translate(309.2,2374.7) rotate(-90)" font-size="25.5" text-anchor="end">−0.78</text>
<line x1="363.8" y1="2335.3" x2="363.8" y2="2352.8" stroke="#111" stroke-width="2"/>
<text transform="translate(371.6,2374.7) rotate(-90)" font-size="25.5" text-anchor="end">−0.46</text>
<line x1="426.1" y1="2335.3" x2="426.1" y2="2352.8" stroke="#111" stroke-width="2"/>
<text transform="translate(433.9,2374.7) rotate(-90)" font-size="25.5" text-anchor="end">−0.21</text>
<line x1="488.4" y1="2335.3" x2="488.4" y2="2352.8" stroke="#111" stroke-width="2"/>
<text transform="translate(496.2,2374.7) rotate(-90)" font-size="25.5" text-anchor="end">0.01</text>
<line x1="550.7" y1="2335.3" x2="550.7" y2="2352.8" stroke="#111" stroke-width="2"/>
<text transform="translate(558.5,2374.7) rotate(-90)" font-size="25.5" text-anchor="end">0.22</text>
<line x1="613" y1="2335.3" x2="613" y2="2352.8" stroke="#111" stroke-width="2"/>
<text transform="translate(620.8,2374.7) rotate(-90)" font-size="25.5" text-anchor="end">0.45</text>
<line x1="675.4" y1="2335.3" x2="675.4" y2="2352.8" stroke="#111" stroke-width="2"/>
<text transform="translate(683.2,2374.7) rotate(-90)" font-size="25.5" text-anchor="end">0.72</text>
<line x1="737.7" y1="2335.3" x2="737.7" y2="2352.8" stroke="#111" stroke-width="2"/>
<text transform="translate(745.5,2374.7) rotate(-90)" font-size="25.5" text-anchor="end">1.11</text>
<line x1="800" y1="2335.3" x2="800" y2="2352.8" stroke="#111" stroke-width="2"/>
<text transform="translate(807.8,2374.7) rotate(-90)" font-size="25.5" text-anchor="end">11.67</text>
<text x="345.9" y="2479.5" font-size="31.9">Signed likelihood ratio</text>
</svg>
</body></html>
